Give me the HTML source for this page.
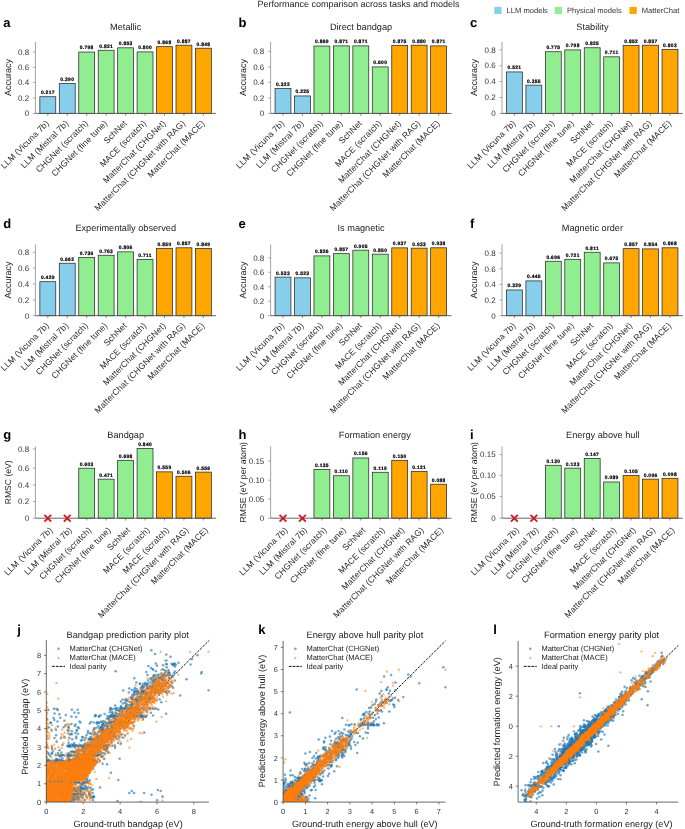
<!DOCTYPE html>
<html><head><meta charset="utf-8"><style>
html,body{margin:0;padding:0;background:#fff;width:685px;height:829px;overflow:hidden}
svg{display:block;font-family:"Liberation Sans", sans-serif;will-change:transform;text-rendering:geometricPrecision}
.bd{fill:none;stroke:none;marker-start:url(#mb);marker-mid:url(#mb);marker-end:url(#mb)}
.od{fill:none;stroke:none;marker-start:url(#mo);marker-mid:url(#mo);marker-end:url(#mo)}
</style></head><body>
<svg width="685" height="829" viewBox="0 0 685 829">
<text x="125.70" y="29.80" font-size="9.2" text-anchor="middle" font-weight="normal" fill="#222" >Metallic</text>
<text x="3.30" y="27.00" font-size="13" text-anchor="start" font-weight="bold" fill="#000" >a</text>
<text transform="translate(10.50,77.60) rotate(-90)" font-size="9" text-anchor="middle" fill="#222">Accuracy</text>
<rect x="39.85" y="96.72" width="15.90" height="16.68" fill="#87CEEB" stroke="#2a2a2a" stroke-width="0.75"/>
<text x="47.80" y="94.12" font-size="4.9" text-anchor="middle" font-weight="bold" fill="#000" letter-spacing="0.32" stroke="#000" stroke-width="0.22">0.217</text>
<rect x="59.30" y="83.42" width="15.90" height="29.98" fill="#87CEEB" stroke="#2a2a2a" stroke-width="0.75"/>
<text x="67.25" y="80.82" font-size="4.9" text-anchor="middle" font-weight="bold" fill="#000" letter-spacing="0.32" stroke="#000" stroke-width="0.22">0.390</text>
<rect x="78.75" y="52.05" width="15.90" height="61.35" fill="#90EE90" stroke="#2a2a2a" stroke-width="0.75"/>
<text x="86.70" y="49.45" font-size="4.9" text-anchor="middle" font-weight="bold" fill="#000" letter-spacing="0.32" stroke="#000" stroke-width="0.22">0.798</text>
<rect x="98.20" y="50.28" width="15.90" height="63.12" fill="#90EE90" stroke="#2a2a2a" stroke-width="0.75"/>
<text x="106.15" y="47.68" font-size="4.9" text-anchor="middle" font-weight="bold" fill="#000" letter-spacing="0.32" stroke="#000" stroke-width="0.22">0.821</text>
<rect x="117.65" y="47.82" width="15.90" height="65.58" fill="#90EE90" stroke="#2a2a2a" stroke-width="0.75"/>
<text x="125.60" y="45.22" font-size="4.9" text-anchor="middle" font-weight="bold" fill="#000" letter-spacing="0.32" stroke="#000" stroke-width="0.22">0.853</text>
<rect x="137.10" y="51.90" width="15.90" height="61.50" fill="#90EE90" stroke="#2a2a2a" stroke-width="0.75"/>
<text x="145.05" y="49.30" font-size="4.9" text-anchor="middle" font-weight="bold" fill="#000" letter-spacing="0.32" stroke="#000" stroke-width="0.22">0.800</text>
<rect x="156.55" y="46.67" width="15.90" height="66.73" fill="#FFA500" stroke="#2a2a2a" stroke-width="0.75"/>
<text x="164.50" y="44.07" font-size="4.9" text-anchor="middle" font-weight="bold" fill="#000" letter-spacing="0.32" stroke="#000" stroke-width="0.22">0.868</text>
<rect x="176.00" y="45.21" width="15.90" height="68.19" fill="#FFA500" stroke="#2a2a2a" stroke-width="0.75"/>
<text x="183.95" y="42.61" font-size="4.9" text-anchor="middle" font-weight="bold" fill="#000" letter-spacing="0.32" stroke="#000" stroke-width="0.22">0.887</text>
<rect x="195.45" y="48.21" width="15.90" height="65.19" fill="#FFA500" stroke="#2a2a2a" stroke-width="0.75"/>
<text x="203.40" y="45.61" font-size="4.9" text-anchor="middle" font-weight="bold" fill="#000" letter-spacing="0.32" stroke="#000" stroke-width="0.22">0.848</text>
<path d="M35.40 41.80V113.40" stroke="#999" stroke-width="0.9" fill="none"/>
<path d="M35.40 113.40H216.00" stroke="#555" stroke-width="0.9" fill="none"/>
<path d="M32.90 113.40H35.40" stroke="#888" stroke-width="0.7"/>
<text x="29.10" y="116.20" font-size="8" text-anchor="end" font-weight="normal" fill="#333" >0</text>
<path d="M32.90 98.02H35.40" stroke="#888" stroke-width="0.7"/>
<text x="29.10" y="100.82" font-size="8" text-anchor="end" font-weight="normal" fill="#333" >0.2</text>
<path d="M32.90 82.65H35.40" stroke="#888" stroke-width="0.7"/>
<text x="29.10" y="85.45" font-size="8" text-anchor="end" font-weight="normal" fill="#333" >0.4</text>
<path d="M32.90 67.27H35.40" stroke="#888" stroke-width="0.7"/>
<text x="29.10" y="70.07" font-size="8" text-anchor="end" font-weight="normal" fill="#333" >0.6</text>
<path d="M32.90 51.90H35.40" stroke="#888" stroke-width="0.7"/>
<text x="29.10" y="54.70" font-size="8" text-anchor="end" font-weight="normal" fill="#333" >0.8</text>
<path d="M47.80 113.40V115.70" stroke="#555" stroke-width="0.7"/>
<text transform="translate(49.60,123.90) rotate(-45)" font-size="8.6" letter-spacing="0.08" text-anchor="end" fill="#2a2a2a">LLM (Vicuna 7b)</text>
<path d="M67.25 113.40V115.70" stroke="#555" stroke-width="0.7"/>
<text transform="translate(69.05,123.90) rotate(-45)" font-size="8.6" letter-spacing="0.08" text-anchor="end" fill="#2a2a2a">LLM (Mistral 7b)</text>
<path d="M86.70 113.40V115.70" stroke="#555" stroke-width="0.7"/>
<text transform="translate(88.50,123.90) rotate(-45)" font-size="8.6" letter-spacing="0.08" text-anchor="end" fill="#2a2a2a">CHGNet (scratch)</text>
<path d="M106.15 113.40V115.70" stroke="#555" stroke-width="0.7"/>
<text transform="translate(107.95,123.90) rotate(-45)" font-size="8.6" letter-spacing="0.08" text-anchor="end" fill="#2a2a2a">CHGNet (fine tune)</text>
<path d="M125.60 113.40V115.70" stroke="#555" stroke-width="0.7"/>
<text transform="translate(127.40,123.90) rotate(-45)" font-size="8.6" letter-spacing="0.08" text-anchor="end" fill="#2a2a2a">SchNet</text>
<path d="M145.05 113.40V115.70" stroke="#555" stroke-width="0.7"/>
<text transform="translate(146.85,123.90) rotate(-45)" font-size="8.6" letter-spacing="0.08" text-anchor="end" fill="#2a2a2a">MACE (scratch)</text>
<path d="M164.50 113.40V115.70" stroke="#555" stroke-width="0.7"/>
<text transform="translate(166.30,123.90) rotate(-45)" font-size="8.6" letter-spacing="0.08" text-anchor="end" fill="#2a2a2a">MatterChat (CHGNet)</text>
<path d="M183.95 113.40V115.70" stroke="#555" stroke-width="0.7"/>
<text transform="translate(185.75,123.90) rotate(-45)" font-size="8.6" letter-spacing="0.08" text-anchor="end" fill="#2a2a2a">MatterChat (CHGNet with RAG)</text>
<path d="M203.40 113.40V115.70" stroke="#555" stroke-width="0.7"/>
<text transform="translate(205.20,123.90) rotate(-45)" font-size="8.6" letter-spacing="0.08" text-anchor="end" fill="#2a2a2a">MatterChat (MACE)</text>
<text x="361.05" y="29.80" font-size="9.2" text-anchor="middle" font-weight="normal" fill="#222" >Direct bandgap</text>
<text x="238.50" y="27.00" font-size="13" text-anchor="start" font-weight="bold" fill="#000" >b</text>
<text transform="translate(245.70,77.60) rotate(-90)" font-size="9" text-anchor="middle" fill="#222">Accuracy</text>
<rect x="275.05" y="88.45" width="15.90" height="24.95" fill="#87CEEB" stroke="#2a2a2a" stroke-width="0.75"/>
<text x="283.00" y="85.85" font-size="4.9" text-anchor="middle" font-weight="bold" fill="#000" letter-spacing="0.32" stroke="#000" stroke-width="0.22">0.322</text>
<rect x="294.50" y="95.96" width="15.90" height="17.44" fill="#87CEEB" stroke="#2a2a2a" stroke-width="0.75"/>
<text x="302.45" y="93.36" font-size="4.9" text-anchor="middle" font-weight="bold" fill="#000" letter-spacing="0.32" stroke="#000" stroke-width="0.22">0.225</text>
<rect x="313.95" y="46.06" width="15.90" height="67.34" fill="#90EE90" stroke="#2a2a2a" stroke-width="0.75"/>
<text x="321.90" y="43.46" font-size="4.9" text-anchor="middle" font-weight="bold" fill="#000" letter-spacing="0.32" stroke="#000" stroke-width="0.22">0.869</text>
<rect x="333.40" y="45.91" width="15.90" height="67.49" fill="#90EE90" stroke="#2a2a2a" stroke-width="0.75"/>
<text x="341.35" y="43.31" font-size="4.9" text-anchor="middle" font-weight="bold" fill="#000" letter-spacing="0.32" stroke="#000" stroke-width="0.22">0.871</text>
<rect x="352.85" y="45.91" width="15.90" height="67.49" fill="#90EE90" stroke="#2a2a2a" stroke-width="0.75"/>
<text x="360.80" y="43.31" font-size="4.9" text-anchor="middle" font-weight="bold" fill="#000" letter-spacing="0.32" stroke="#000" stroke-width="0.22">0.871</text>
<rect x="372.30" y="66.91" width="15.90" height="46.49" fill="#90EE90" stroke="#2a2a2a" stroke-width="0.75"/>
<text x="380.25" y="64.31" font-size="4.9" text-anchor="middle" font-weight="bold" fill="#000" letter-spacing="0.32" stroke="#000" stroke-width="0.22">0.600</text>
<rect x="391.75" y="45.60" width="15.90" height="67.80" fill="#FFA500" stroke="#2a2a2a" stroke-width="0.75"/>
<text x="399.70" y="43.00" font-size="4.9" text-anchor="middle" font-weight="bold" fill="#000" letter-spacing="0.32" stroke="#000" stroke-width="0.22">0.875</text>
<rect x="411.20" y="45.21" width="15.90" height="68.19" fill="#FFA500" stroke="#2a2a2a" stroke-width="0.75"/>
<text x="419.15" y="42.61" font-size="4.9" text-anchor="middle" font-weight="bold" fill="#000" letter-spacing="0.32" stroke="#000" stroke-width="0.22">0.880</text>
<rect x="430.65" y="45.91" width="15.90" height="67.49" fill="#FFA500" stroke="#2a2a2a" stroke-width="0.75"/>
<text x="438.60" y="43.31" font-size="4.9" text-anchor="middle" font-weight="bold" fill="#000" letter-spacing="0.32" stroke="#000" stroke-width="0.22">0.871</text>
<path d="M270.60 41.80V113.40" stroke="#999" stroke-width="0.9" fill="none"/>
<path d="M270.60 113.40H451.50" stroke="#555" stroke-width="0.9" fill="none"/>
<path d="M268.10 113.40H270.60" stroke="#888" stroke-width="0.7"/>
<text x="264.30" y="116.20" font-size="8" text-anchor="end" font-weight="normal" fill="#333" >0</text>
<path d="M268.10 97.90H270.60" stroke="#888" stroke-width="0.7"/>
<text x="264.30" y="100.70" font-size="8" text-anchor="end" font-weight="normal" fill="#333" >0.2</text>
<path d="M268.10 82.40H270.60" stroke="#888" stroke-width="0.7"/>
<text x="264.30" y="85.20" font-size="8" text-anchor="end" font-weight="normal" fill="#333" >0.4</text>
<path d="M268.10 66.91H270.60" stroke="#888" stroke-width="0.7"/>
<text x="264.30" y="69.71" font-size="8" text-anchor="end" font-weight="normal" fill="#333" >0.6</text>
<path d="M268.10 51.41H270.60" stroke="#888" stroke-width="0.7"/>
<text x="264.30" y="54.21" font-size="8" text-anchor="end" font-weight="normal" fill="#333" >0.8</text>
<path d="M283.00 113.40V115.70" stroke="#555" stroke-width="0.7"/>
<text transform="translate(284.80,123.90) rotate(-45)" font-size="8.6" letter-spacing="0.08" text-anchor="end" fill="#2a2a2a">LLM (Vicuna 7b)</text>
<path d="M302.45 113.40V115.70" stroke="#555" stroke-width="0.7"/>
<text transform="translate(304.25,123.90) rotate(-45)" font-size="8.6" letter-spacing="0.08" text-anchor="end" fill="#2a2a2a">LLM (Mistral 7b)</text>
<path d="M321.90 113.40V115.70" stroke="#555" stroke-width="0.7"/>
<text transform="translate(323.70,123.90) rotate(-45)" font-size="8.6" letter-spacing="0.08" text-anchor="end" fill="#2a2a2a">CHGNet (scratch)</text>
<path d="M341.35 113.40V115.70" stroke="#555" stroke-width="0.7"/>
<text transform="translate(343.15,123.90) rotate(-45)" font-size="8.6" letter-spacing="0.08" text-anchor="end" fill="#2a2a2a">CHGNet (fine tune)</text>
<path d="M360.80 113.40V115.70" stroke="#555" stroke-width="0.7"/>
<text transform="translate(362.60,123.90) rotate(-45)" font-size="8.6" letter-spacing="0.08" text-anchor="end" fill="#2a2a2a">SchNet</text>
<path d="M380.25 113.40V115.70" stroke="#555" stroke-width="0.7"/>
<text transform="translate(382.05,123.90) rotate(-45)" font-size="8.6" letter-spacing="0.08" text-anchor="end" fill="#2a2a2a">MACE (scratch)</text>
<path d="M399.70 113.40V115.70" stroke="#555" stroke-width="0.7"/>
<text transform="translate(401.50,123.90) rotate(-45)" font-size="8.6" letter-spacing="0.08" text-anchor="end" fill="#2a2a2a">MatterChat (CHGNet)</text>
<path d="M419.15 113.40V115.70" stroke="#555" stroke-width="0.7"/>
<text transform="translate(420.95,123.90) rotate(-45)" font-size="8.6" letter-spacing="0.08" text-anchor="end" fill="#2a2a2a">MatterChat (CHGNet with RAG)</text>
<path d="M438.60 113.40V115.70" stroke="#555" stroke-width="0.7"/>
<text transform="translate(440.40,123.90) rotate(-45)" font-size="8.6" letter-spacing="0.08" text-anchor="end" fill="#2a2a2a">MatterChat (MACE)</text>
<text x="592.40" y="29.80" font-size="9.2" text-anchor="middle" font-weight="normal" fill="#222" >Stability</text>
<text x="469.90" y="27.00" font-size="13" text-anchor="start" font-weight="bold" fill="#000" >c</text>
<text transform="translate(477.10,77.60) rotate(-90)" font-size="9" text-anchor="middle" fill="#222">Accuracy</text>
<rect x="506.45" y="71.94" width="15.90" height="41.46" fill="#87CEEB" stroke="#2a2a2a" stroke-width="0.75"/>
<text x="514.40" y="69.34" font-size="4.9" text-anchor="middle" font-weight="bold" fill="#000" letter-spacing="0.32" stroke="#000" stroke-width="0.22">0.521</text>
<rect x="525.90" y="85.15" width="15.90" height="28.25" fill="#87CEEB" stroke="#2a2a2a" stroke-width="0.75"/>
<text x="533.85" y="82.55" font-size="4.9" text-anchor="middle" font-weight="bold" fill="#000" letter-spacing="0.32" stroke="#000" stroke-width="0.22">0.355</text>
<rect x="545.35" y="51.73" width="15.90" height="61.67" fill="#90EE90" stroke="#2a2a2a" stroke-width="0.75"/>
<text x="553.30" y="49.13" font-size="4.9" text-anchor="middle" font-weight="bold" fill="#000" letter-spacing="0.32" stroke="#000" stroke-width="0.22">0.775</text>
<rect x="564.80" y="49.90" width="15.90" height="63.50" fill="#90EE90" stroke="#2a2a2a" stroke-width="0.75"/>
<text x="572.75" y="47.30" font-size="4.9" text-anchor="middle" font-weight="bold" fill="#000" letter-spacing="0.32" stroke="#000" stroke-width="0.22">0.798</text>
<rect x="584.25" y="47.76" width="15.90" height="65.64" fill="#90EE90" stroke="#2a2a2a" stroke-width="0.75"/>
<text x="592.20" y="45.16" font-size="4.9" text-anchor="middle" font-weight="bold" fill="#000" letter-spacing="0.32" stroke="#000" stroke-width="0.22">0.825</text>
<rect x="603.70" y="56.83" width="15.90" height="56.57" fill="#90EE90" stroke="#2a2a2a" stroke-width="0.75"/>
<text x="611.65" y="54.23" font-size="4.9" text-anchor="middle" font-weight="bold" fill="#000" letter-spacing="0.32" stroke="#000" stroke-width="0.22">0.711</text>
<rect x="623.15" y="45.61" width="15.90" height="67.79" fill="#FFA500" stroke="#2a2a2a" stroke-width="0.75"/>
<text x="631.10" y="43.01" font-size="4.9" text-anchor="middle" font-weight="bold" fill="#000" letter-spacing="0.32" stroke="#000" stroke-width="0.22">0.852</text>
<rect x="642.60" y="45.21" width="15.90" height="68.19" fill="#FFA500" stroke="#2a2a2a" stroke-width="0.75"/>
<text x="650.55" y="42.61" font-size="4.9" text-anchor="middle" font-weight="bold" fill="#000" letter-spacing="0.32" stroke="#000" stroke-width="0.22">0.857</text>
<rect x="662.05" y="49.51" width="15.90" height="63.89" fill="#FFA500" stroke="#2a2a2a" stroke-width="0.75"/>
<text x="670.00" y="46.91" font-size="4.9" text-anchor="middle" font-weight="bold" fill="#000" letter-spacing="0.32" stroke="#000" stroke-width="0.22">0.803</text>
<path d="M502.00 41.80V113.40" stroke="#999" stroke-width="0.9" fill="none"/>
<path d="M502.00 113.40H682.80" stroke="#555" stroke-width="0.9" fill="none"/>
<path d="M499.50 113.40H502.00" stroke="#888" stroke-width="0.7"/>
<text x="495.70" y="116.20" font-size="8" text-anchor="end" font-weight="normal" fill="#333" >0</text>
<path d="M499.50 97.49H502.00" stroke="#888" stroke-width="0.7"/>
<text x="495.70" y="100.29" font-size="8" text-anchor="end" font-weight="normal" fill="#333" >0.2</text>
<path d="M499.50 81.57H502.00" stroke="#888" stroke-width="0.7"/>
<text x="495.70" y="84.37" font-size="8" text-anchor="end" font-weight="normal" fill="#333" >0.4</text>
<path d="M499.50 65.66H502.00" stroke="#888" stroke-width="0.7"/>
<text x="495.70" y="68.46" font-size="8" text-anchor="end" font-weight="normal" fill="#333" >0.6</text>
<path d="M499.50 49.74H502.00" stroke="#888" stroke-width="0.7"/>
<text x="495.70" y="52.54" font-size="8" text-anchor="end" font-weight="normal" fill="#333" >0.8</text>
<path d="M514.40 113.40V115.70" stroke="#555" stroke-width="0.7"/>
<text transform="translate(516.20,123.90) rotate(-45)" font-size="8.6" letter-spacing="0.08" text-anchor="end" fill="#2a2a2a">LLM (Vicuna 7b)</text>
<path d="M533.85 113.40V115.70" stroke="#555" stroke-width="0.7"/>
<text transform="translate(535.65,123.90) rotate(-45)" font-size="8.6" letter-spacing="0.08" text-anchor="end" fill="#2a2a2a">LLM (Mistral 7b)</text>
<path d="M553.30 113.40V115.70" stroke="#555" stroke-width="0.7"/>
<text transform="translate(555.10,123.90) rotate(-45)" font-size="8.6" letter-spacing="0.08" text-anchor="end" fill="#2a2a2a">CHGNet (scratch)</text>
<path d="M572.75 113.40V115.70" stroke="#555" stroke-width="0.7"/>
<text transform="translate(574.55,123.90) rotate(-45)" font-size="8.6" letter-spacing="0.08" text-anchor="end" fill="#2a2a2a">CHGNet (fine tune)</text>
<path d="M592.20 113.40V115.70" stroke="#555" stroke-width="0.7"/>
<text transform="translate(594.00,123.90) rotate(-45)" font-size="8.6" letter-spacing="0.08" text-anchor="end" fill="#2a2a2a">SchNet</text>
<path d="M611.65 113.40V115.70" stroke="#555" stroke-width="0.7"/>
<text transform="translate(613.45,123.90) rotate(-45)" font-size="8.6" letter-spacing="0.08" text-anchor="end" fill="#2a2a2a">MACE (scratch)</text>
<path d="M631.10 113.40V115.70" stroke="#555" stroke-width="0.7"/>
<text transform="translate(632.90,123.90) rotate(-45)" font-size="8.6" letter-spacing="0.08" text-anchor="end" fill="#2a2a2a">MatterChat (CHGNet)</text>
<path d="M650.55 113.40V115.70" stroke="#555" stroke-width="0.7"/>
<text transform="translate(652.35,123.90) rotate(-45)" font-size="8.6" letter-spacing="0.08" text-anchor="end" fill="#2a2a2a">MatterChat (CHGNet with RAG)</text>
<path d="M670.00 113.40V115.70" stroke="#555" stroke-width="0.7"/>
<text transform="translate(671.80,123.90) rotate(-45)" font-size="8.6" letter-spacing="0.08" text-anchor="end" fill="#2a2a2a">MatterChat (MACE)</text>
<text x="125.70" y="230.90" font-size="9.2" text-anchor="middle" font-weight="normal" fill="#222" >Experimentally observed</text>
<text x="3.30" y="227.50" font-size="13" text-anchor="start" font-weight="bold" fill="#000" >d</text>
<text transform="translate(10.50,280.05) rotate(-90)" font-size="9" text-anchor="middle" fill="#222">Accuracy</text>
<rect x="39.85" y="281.71" width="15.90" height="33.99" fill="#87CEEB" stroke="#2a2a2a" stroke-width="0.75"/>
<text x="47.80" y="279.11" font-size="4.9" text-anchor="middle" font-weight="bold" fill="#000" letter-spacing="0.32" stroke="#000" stroke-width="0.22">0.429</text>
<rect x="59.30" y="263.25" width="15.90" height="52.45" fill="#87CEEB" stroke="#2a2a2a" stroke-width="0.75"/>
<text x="67.25" y="260.65" font-size="4.9" text-anchor="middle" font-weight="bold" fill="#000" letter-spacing="0.32" stroke="#000" stroke-width="0.22">0.662</text>
<rect x="78.75" y="257.38" width="15.90" height="58.32" fill="#90EE90" stroke="#2a2a2a" stroke-width="0.75"/>
<text x="86.70" y="254.78" font-size="4.9" text-anchor="middle" font-weight="bold" fill="#000" letter-spacing="0.32" stroke="#000" stroke-width="0.22">0.736</text>
<rect x="98.20" y="255.24" width="15.90" height="60.46" fill="#90EE90" stroke="#2a2a2a" stroke-width="0.75"/>
<text x="106.15" y="252.64" font-size="4.9" text-anchor="middle" font-weight="bold" fill="#000" letter-spacing="0.32" stroke="#000" stroke-width="0.22">0.763</text>
<rect x="117.65" y="251.84" width="15.90" height="63.86" fill="#90EE90" stroke="#2a2a2a" stroke-width="0.75"/>
<text x="125.60" y="249.24" font-size="4.9" text-anchor="middle" font-weight="bold" fill="#000" letter-spacing="0.32" stroke="#000" stroke-width="0.22">0.806</text>
<rect x="137.10" y="259.36" width="15.90" height="56.34" fill="#90EE90" stroke="#2a2a2a" stroke-width="0.75"/>
<text x="145.05" y="256.76" font-size="4.9" text-anchor="middle" font-weight="bold" fill="#000" letter-spacing="0.32" stroke="#000" stroke-width="0.22">0.711</text>
<rect x="156.55" y="248.35" width="15.90" height="67.35" fill="#FFA500" stroke="#2a2a2a" stroke-width="0.75"/>
<text x="164.50" y="245.75" font-size="4.9" text-anchor="middle" font-weight="bold" fill="#000" letter-spacing="0.32" stroke="#000" stroke-width="0.22">0.850</text>
<rect x="176.00" y="247.80" width="15.90" height="67.90" fill="#FFA500" stroke="#2a2a2a" stroke-width="0.75"/>
<text x="183.95" y="245.20" font-size="4.9" text-anchor="middle" font-weight="bold" fill="#000" letter-spacing="0.32" stroke="#000" stroke-width="0.22">0.857</text>
<rect x="195.45" y="248.43" width="15.90" height="67.27" fill="#FFA500" stroke="#2a2a2a" stroke-width="0.75"/>
<text x="203.40" y="245.83" font-size="4.9" text-anchor="middle" font-weight="bold" fill="#000" letter-spacing="0.32" stroke="#000" stroke-width="0.22">0.849</text>
<path d="M35.40 244.40V315.70" stroke="#999" stroke-width="0.9" fill="none"/>
<path d="M35.40 315.70H216.00" stroke="#555" stroke-width="0.9" fill="none"/>
<path d="M32.90 315.70H35.40" stroke="#888" stroke-width="0.7"/>
<text x="29.10" y="318.50" font-size="8" text-anchor="end" font-weight="normal" fill="#333" >0</text>
<path d="M32.90 299.85H35.40" stroke="#888" stroke-width="0.7"/>
<text x="29.10" y="302.65" font-size="8" text-anchor="end" font-weight="normal" fill="#333" >0.2</text>
<path d="M32.90 284.01H35.40" stroke="#888" stroke-width="0.7"/>
<text x="29.10" y="286.81" font-size="8" text-anchor="end" font-weight="normal" fill="#333" >0.4</text>
<path d="M32.90 268.16H35.40" stroke="#888" stroke-width="0.7"/>
<text x="29.10" y="270.96" font-size="8" text-anchor="end" font-weight="normal" fill="#333" >0.6</text>
<path d="M32.90 252.31H35.40" stroke="#888" stroke-width="0.7"/>
<text x="29.10" y="255.11" font-size="8" text-anchor="end" font-weight="normal" fill="#333" >0.8</text>
<path d="M47.80 315.70V318.00" stroke="#555" stroke-width="0.7"/>
<text transform="translate(49.60,326.20) rotate(-45)" font-size="8.6" letter-spacing="0.08" text-anchor="end" fill="#2a2a2a">LLM (Vicuna 7b)</text>
<path d="M67.25 315.70V318.00" stroke="#555" stroke-width="0.7"/>
<text transform="translate(69.05,326.20) rotate(-45)" font-size="8.6" letter-spacing="0.08" text-anchor="end" fill="#2a2a2a">LLM (Mistral 7b)</text>
<path d="M86.70 315.70V318.00" stroke="#555" stroke-width="0.7"/>
<text transform="translate(88.50,326.20) rotate(-45)" font-size="8.6" letter-spacing="0.08" text-anchor="end" fill="#2a2a2a">CHGNet (scratch)</text>
<path d="M106.15 315.70V318.00" stroke="#555" stroke-width="0.7"/>
<text transform="translate(107.95,326.20) rotate(-45)" font-size="8.6" letter-spacing="0.08" text-anchor="end" fill="#2a2a2a">CHGNet (fine tune)</text>
<path d="M125.60 315.70V318.00" stroke="#555" stroke-width="0.7"/>
<text transform="translate(127.40,326.20) rotate(-45)" font-size="8.6" letter-spacing="0.08" text-anchor="end" fill="#2a2a2a">SchNet</text>
<path d="M145.05 315.70V318.00" stroke="#555" stroke-width="0.7"/>
<text transform="translate(146.85,326.20) rotate(-45)" font-size="8.6" letter-spacing="0.08" text-anchor="end" fill="#2a2a2a">MACE (scratch)</text>
<path d="M164.50 315.70V318.00" stroke="#555" stroke-width="0.7"/>
<text transform="translate(166.30,326.20) rotate(-45)" font-size="8.6" letter-spacing="0.08" text-anchor="end" fill="#2a2a2a">MatterChat (CHGNet)</text>
<path d="M183.95 315.70V318.00" stroke="#555" stroke-width="0.7"/>
<text transform="translate(185.75,326.20) rotate(-45)" font-size="8.6" letter-spacing="0.08" text-anchor="end" fill="#2a2a2a">MatterChat (CHGNet with RAG)</text>
<path d="M203.40 315.70V318.00" stroke="#555" stroke-width="0.7"/>
<text transform="translate(205.20,326.20) rotate(-45)" font-size="8.6" letter-spacing="0.08" text-anchor="end" fill="#2a2a2a">MatterChat (MACE)</text>
<text x="361.05" y="230.90" font-size="9.2" text-anchor="middle" font-weight="normal" fill="#222" >Is magnetic</text>
<text x="238.50" y="227.50" font-size="13" text-anchor="start" font-weight="bold" fill="#000" >e</text>
<text transform="translate(245.70,280.05) rotate(-90)" font-size="9" text-anchor="middle" fill="#222">Accuracy</text>
<rect x="275.05" y="277.11" width="15.90" height="38.59" fill="#87CEEB" stroke="#2a2a2a" stroke-width="0.75"/>
<text x="283.00" y="274.51" font-size="4.9" text-anchor="middle" font-weight="bold" fill="#000" letter-spacing="0.32" stroke="#000" stroke-width="0.22">0.533</text>
<rect x="294.50" y="277.84" width="15.90" height="37.86" fill="#87CEEB" stroke="#2a2a2a" stroke-width="0.75"/>
<text x="302.45" y="275.24" font-size="4.9" text-anchor="middle" font-weight="bold" fill="#000" letter-spacing="0.32" stroke="#000" stroke-width="0.22">0.523</text>
<rect x="313.95" y="255.90" width="15.90" height="59.80" fill="#90EE90" stroke="#2a2a2a" stroke-width="0.75"/>
<text x="321.90" y="253.30" font-size="4.9" text-anchor="middle" font-weight="bold" fill="#000" letter-spacing="0.32" stroke="#000" stroke-width="0.22">0.826</text>
<rect x="333.40" y="253.66" width="15.90" height="62.04" fill="#90EE90" stroke="#2a2a2a" stroke-width="0.75"/>
<text x="341.35" y="251.06" font-size="4.9" text-anchor="middle" font-weight="bold" fill="#000" letter-spacing="0.32" stroke="#000" stroke-width="0.22">0.857</text>
<rect x="352.85" y="250.18" width="15.90" height="65.52" fill="#90EE90" stroke="#2a2a2a" stroke-width="0.75"/>
<text x="360.80" y="247.58" font-size="4.9" text-anchor="middle" font-weight="bold" fill="#000" letter-spacing="0.32" stroke="#000" stroke-width="0.22">0.905</text>
<rect x="372.30" y="254.17" width="15.90" height="61.53" fill="#90EE90" stroke="#2a2a2a" stroke-width="0.75"/>
<text x="380.25" y="251.57" font-size="4.9" text-anchor="middle" font-weight="bold" fill="#000" letter-spacing="0.32" stroke="#000" stroke-width="0.22">0.850</text>
<rect x="391.75" y="247.87" width="15.90" height="67.83" fill="#FFA500" stroke="#2a2a2a" stroke-width="0.75"/>
<text x="399.70" y="245.27" font-size="4.9" text-anchor="middle" font-weight="bold" fill="#000" letter-spacing="0.32" stroke="#000" stroke-width="0.22">0.937</text>
<rect x="411.20" y="248.16" width="15.90" height="67.54" fill="#FFA500" stroke="#2a2a2a" stroke-width="0.75"/>
<text x="419.15" y="245.56" font-size="4.9" text-anchor="middle" font-weight="bold" fill="#000" letter-spacing="0.32" stroke="#000" stroke-width="0.22">0.933</text>
<rect x="430.65" y="247.80" width="15.90" height="67.90" fill="#FFA500" stroke="#2a2a2a" stroke-width="0.75"/>
<text x="438.60" y="245.20" font-size="4.9" text-anchor="middle" font-weight="bold" fill="#000" letter-spacing="0.32" stroke="#000" stroke-width="0.22">0.938</text>
<path d="M270.60 244.40V315.70" stroke="#999" stroke-width="0.9" fill="none"/>
<path d="M270.60 315.70H451.50" stroke="#555" stroke-width="0.9" fill="none"/>
<path d="M268.10 315.70H270.60" stroke="#888" stroke-width="0.7"/>
<text x="264.30" y="318.50" font-size="8" text-anchor="end" font-weight="normal" fill="#333" >0</text>
<path d="M268.10 301.22H270.60" stroke="#888" stroke-width="0.7"/>
<text x="264.30" y="304.02" font-size="8" text-anchor="end" font-weight="normal" fill="#333" >0.2</text>
<path d="M268.10 286.74H270.60" stroke="#888" stroke-width="0.7"/>
<text x="264.30" y="289.54" font-size="8" text-anchor="end" font-weight="normal" fill="#333" >0.4</text>
<path d="M268.10 272.26H270.60" stroke="#888" stroke-width="0.7"/>
<text x="264.30" y="275.06" font-size="8" text-anchor="end" font-weight="normal" fill="#333" >0.6</text>
<path d="M268.10 257.79H270.60" stroke="#888" stroke-width="0.7"/>
<text x="264.30" y="260.59" font-size="8" text-anchor="end" font-weight="normal" fill="#333" >0.8</text>
<path d="M283.00 315.70V318.00" stroke="#555" stroke-width="0.7"/>
<text transform="translate(284.80,326.20) rotate(-45)" font-size="8.6" letter-spacing="0.08" text-anchor="end" fill="#2a2a2a">LLM (Vicuna 7b)</text>
<path d="M302.45 315.70V318.00" stroke="#555" stroke-width="0.7"/>
<text transform="translate(304.25,326.20) rotate(-45)" font-size="8.6" letter-spacing="0.08" text-anchor="end" fill="#2a2a2a">LLM (Mistral 7b)</text>
<path d="M321.90 315.70V318.00" stroke="#555" stroke-width="0.7"/>
<text transform="translate(323.70,326.20) rotate(-45)" font-size="8.6" letter-spacing="0.08" text-anchor="end" fill="#2a2a2a">CHGNet (scratch)</text>
<path d="M341.35 315.70V318.00" stroke="#555" stroke-width="0.7"/>
<text transform="translate(343.15,326.20) rotate(-45)" font-size="8.6" letter-spacing="0.08" text-anchor="end" fill="#2a2a2a">CHGNet (fine tune)</text>
<path d="M360.80 315.70V318.00" stroke="#555" stroke-width="0.7"/>
<text transform="translate(362.60,326.20) rotate(-45)" font-size="8.6" letter-spacing="0.08" text-anchor="end" fill="#2a2a2a">SchNet</text>
<path d="M380.25 315.70V318.00" stroke="#555" stroke-width="0.7"/>
<text transform="translate(382.05,326.20) rotate(-45)" font-size="8.6" letter-spacing="0.08" text-anchor="end" fill="#2a2a2a">MACE (scratch)</text>
<path d="M399.70 315.70V318.00" stroke="#555" stroke-width="0.7"/>
<text transform="translate(401.50,326.20) rotate(-45)" font-size="8.6" letter-spacing="0.08" text-anchor="end" fill="#2a2a2a">MatterChat (CHGNet)</text>
<path d="M419.15 315.70V318.00" stroke="#555" stroke-width="0.7"/>
<text transform="translate(420.95,326.20) rotate(-45)" font-size="8.6" letter-spacing="0.08" text-anchor="end" fill="#2a2a2a">MatterChat (CHGNet with RAG)</text>
<path d="M438.60 315.70V318.00" stroke="#555" stroke-width="0.7"/>
<text transform="translate(440.40,326.20) rotate(-45)" font-size="8.6" letter-spacing="0.08" text-anchor="end" fill="#2a2a2a">MatterChat (MACE)</text>
<text x="592.40" y="230.90" font-size="9.2" text-anchor="middle" font-weight="normal" fill="#222" >Magnetic order</text>
<text x="469.90" y="227.50" font-size="13" text-anchor="start" font-weight="bold" fill="#000" >f</text>
<text transform="translate(477.10,280.05) rotate(-90)" font-size="9" text-anchor="middle" fill="#222">Accuracy</text>
<rect x="506.45" y="289.96" width="15.90" height="25.74" fill="#87CEEB" stroke="#2a2a2a" stroke-width="0.75"/>
<text x="514.40" y="287.36" font-size="4.9" text-anchor="middle" font-weight="bold" fill="#000" letter-spacing="0.32" stroke="#000" stroke-width="0.22">0.329</text>
<rect x="525.90" y="280.89" width="15.90" height="34.81" fill="#87CEEB" stroke="#2a2a2a" stroke-width="0.75"/>
<text x="533.85" y="278.29" font-size="4.9" text-anchor="middle" font-weight="bold" fill="#000" letter-spacing="0.32" stroke="#000" stroke-width="0.22">0.445</text>
<rect x="545.35" y="261.25" width="15.90" height="54.45" fill="#90EE90" stroke="#2a2a2a" stroke-width="0.75"/>
<text x="553.30" y="258.65" font-size="4.9" text-anchor="middle" font-weight="bold" fill="#000" letter-spacing="0.32" stroke="#000" stroke-width="0.22">0.696</text>
<rect x="564.80" y="259.30" width="15.90" height="56.40" fill="#90EE90" stroke="#2a2a2a" stroke-width="0.75"/>
<text x="572.75" y="256.70" font-size="4.9" text-anchor="middle" font-weight="bold" fill="#000" letter-spacing="0.32" stroke="#000" stroke-width="0.22">0.721</text>
<rect x="584.25" y="252.25" width="15.90" height="63.45" fill="#90EE90" stroke="#2a2a2a" stroke-width="0.75"/>
<text x="592.20" y="249.65" font-size="4.9" text-anchor="middle" font-weight="bold" fill="#000" letter-spacing="0.32" stroke="#000" stroke-width="0.22">0.811</text>
<rect x="603.70" y="262.89" width="15.90" height="52.81" fill="#90EE90" stroke="#2a2a2a" stroke-width="0.75"/>
<text x="611.65" y="260.29" font-size="4.9" text-anchor="middle" font-weight="bold" fill="#000" letter-spacing="0.32" stroke="#000" stroke-width="0.22">0.675</text>
<rect x="623.15" y="248.66" width="15.90" height="67.04" fill="#FFA500" stroke="#2a2a2a" stroke-width="0.75"/>
<text x="631.10" y="246.06" font-size="4.9" text-anchor="middle" font-weight="bold" fill="#000" letter-spacing="0.32" stroke="#000" stroke-width="0.22">0.857</text>
<rect x="642.60" y="248.89" width="15.90" height="66.81" fill="#FFA500" stroke="#2a2a2a" stroke-width="0.75"/>
<text x="650.55" y="246.29" font-size="4.9" text-anchor="middle" font-weight="bold" fill="#000" letter-spacing="0.32" stroke="#000" stroke-width="0.22">0.854</text>
<rect x="662.05" y="247.80" width="15.90" height="67.90" fill="#FFA500" stroke="#2a2a2a" stroke-width="0.75"/>
<text x="670.00" y="245.20" font-size="4.9" text-anchor="middle" font-weight="bold" fill="#000" letter-spacing="0.32" stroke="#000" stroke-width="0.22">0.868</text>
<path d="M502.00 244.40V315.70" stroke="#999" stroke-width="0.9" fill="none"/>
<path d="M502.00 315.70H682.80" stroke="#555" stroke-width="0.9" fill="none"/>
<path d="M499.50 315.70H502.00" stroke="#888" stroke-width="0.7"/>
<text x="495.70" y="318.50" font-size="8" text-anchor="end" font-weight="normal" fill="#333" >0</text>
<path d="M499.50 300.05H502.00" stroke="#888" stroke-width="0.7"/>
<text x="495.70" y="302.85" font-size="8" text-anchor="end" font-weight="normal" fill="#333" >0.2</text>
<path d="M499.50 284.41H502.00" stroke="#888" stroke-width="0.7"/>
<text x="495.70" y="287.21" font-size="8" text-anchor="end" font-weight="normal" fill="#333" >0.4</text>
<path d="M499.50 268.76H502.00" stroke="#888" stroke-width="0.7"/>
<text x="495.70" y="271.56" font-size="8" text-anchor="end" font-weight="normal" fill="#333" >0.6</text>
<path d="M499.50 253.11H502.00" stroke="#888" stroke-width="0.7"/>
<text x="495.70" y="255.91" font-size="8" text-anchor="end" font-weight="normal" fill="#333" >0.8</text>
<path d="M514.40 315.70V318.00" stroke="#555" stroke-width="0.7"/>
<text transform="translate(516.20,326.20) rotate(-45)" font-size="8.6" letter-spacing="0.08" text-anchor="end" fill="#2a2a2a">LLM (Vicuna 7b)</text>
<path d="M533.85 315.70V318.00" stroke="#555" stroke-width="0.7"/>
<text transform="translate(535.65,326.20) rotate(-45)" font-size="8.6" letter-spacing="0.08" text-anchor="end" fill="#2a2a2a">LLM (Mistral 7b)</text>
<path d="M553.30 315.70V318.00" stroke="#555" stroke-width="0.7"/>
<text transform="translate(555.10,326.20) rotate(-45)" font-size="8.6" letter-spacing="0.08" text-anchor="end" fill="#2a2a2a">CHGNet (scratch)</text>
<path d="M572.75 315.70V318.00" stroke="#555" stroke-width="0.7"/>
<text transform="translate(574.55,326.20) rotate(-45)" font-size="8.6" letter-spacing="0.08" text-anchor="end" fill="#2a2a2a">CHGNet (fine tune)</text>
<path d="M592.20 315.70V318.00" stroke="#555" stroke-width="0.7"/>
<text transform="translate(594.00,326.20) rotate(-45)" font-size="8.6" letter-spacing="0.08" text-anchor="end" fill="#2a2a2a">SchNet</text>
<path d="M611.65 315.70V318.00" stroke="#555" stroke-width="0.7"/>
<text transform="translate(613.45,326.20) rotate(-45)" font-size="8.6" letter-spacing="0.08" text-anchor="end" fill="#2a2a2a">MACE (scratch)</text>
<path d="M631.10 315.70V318.00" stroke="#555" stroke-width="0.7"/>
<text transform="translate(632.90,326.20) rotate(-45)" font-size="8.6" letter-spacing="0.08" text-anchor="end" fill="#2a2a2a">MatterChat (CHGNet)</text>
<path d="M650.55 315.70V318.00" stroke="#555" stroke-width="0.7"/>
<text transform="translate(652.35,326.20) rotate(-45)" font-size="8.6" letter-spacing="0.08" text-anchor="end" fill="#2a2a2a">MatterChat (CHGNet with RAG)</text>
<path d="M670.00 315.70V318.00" stroke="#555" stroke-width="0.7"/>
<text transform="translate(671.80,326.20) rotate(-45)" font-size="8.6" letter-spacing="0.08" text-anchor="end" fill="#2a2a2a">MatterChat (MACE)</text>
<text x="125.70" y="437.60" font-size="9.2" text-anchor="middle" font-weight="normal" fill="#222" >Bandgap</text>
<text x="3.30" y="438.50" font-size="13" text-anchor="start" font-weight="bold" fill="#000" >g</text>
<text transform="translate(10.50,482.30) rotate(-90)" font-size="8.6" text-anchor="middle" fill="#222">RMSC (eV)</text>
<path d="M44.40 514.80L51.20 521.60M51.20 514.80L44.40 521.60" stroke="#e8101c" stroke-width="1.8" fill="none"/>
<path d="M63.85 514.80L70.65 521.60M70.65 514.80L63.85 521.60" stroke="#e8101c" stroke-width="1.8" fill="none"/>
<rect x="78.75" y="468.21" width="15.90" height="49.99" fill="#90EE90" stroke="#2a2a2a" stroke-width="0.75"/>
<text x="86.70" y="465.61" font-size="4.9" text-anchor="middle" font-weight="bold" fill="#000" letter-spacing="0.32" stroke="#000" stroke-width="0.22">0.603</text>
<rect x="98.20" y="479.15" width="15.90" height="39.05" fill="#90EE90" stroke="#2a2a2a" stroke-width="0.75"/>
<text x="106.15" y="476.55" font-size="4.9" text-anchor="middle" font-weight="bold" fill="#000" letter-spacing="0.32" stroke="#000" stroke-width="0.22">0.471</text>
<rect x="117.65" y="460.34" width="15.90" height="57.86" fill="#90EE90" stroke="#2a2a2a" stroke-width="0.75"/>
<text x="125.60" y="457.74" font-size="4.9" text-anchor="middle" font-weight="bold" fill="#000" letter-spacing="0.32" stroke="#000" stroke-width="0.22">0.698</text>
<rect x="137.10" y="448.56" width="15.90" height="69.64" fill="#90EE90" stroke="#2a2a2a" stroke-width="0.75"/>
<text x="145.05" y="445.96" font-size="4.9" text-anchor="middle" font-weight="bold" fill="#000" letter-spacing="0.32" stroke="#000" stroke-width="0.22">0.840</text>
<rect x="156.55" y="471.86" width="15.90" height="46.34" fill="#FFA500" stroke="#2a2a2a" stroke-width="0.75"/>
<text x="164.50" y="469.26" font-size="4.9" text-anchor="middle" font-weight="bold" fill="#000" letter-spacing="0.32" stroke="#000" stroke-width="0.22">0.559</text>
<rect x="176.00" y="476.25" width="15.90" height="41.95" fill="#FFA500" stroke="#2a2a2a" stroke-width="0.75"/>
<text x="183.95" y="473.65" font-size="4.9" text-anchor="middle" font-weight="bold" fill="#000" letter-spacing="0.32" stroke="#000" stroke-width="0.22">0.506</text>
<rect x="195.45" y="472.11" width="15.90" height="46.09" fill="#FFA500" stroke="#2a2a2a" stroke-width="0.75"/>
<text x="203.40" y="469.51" font-size="4.9" text-anchor="middle" font-weight="bold" fill="#000" letter-spacing="0.32" stroke="#000" stroke-width="0.22">0.556</text>
<path d="M35.40 446.40V518.20" stroke="#999" stroke-width="0.9" fill="none"/>
<path d="M35.40 518.20H216.00" stroke="#555" stroke-width="0.9" fill="none"/>
<path d="M32.90 518.20H35.40" stroke="#888" stroke-width="0.7"/>
<text x="29.10" y="521.00" font-size="8" text-anchor="end" font-weight="normal" fill="#333" >0</text>
<path d="M32.90 501.50H35.40" stroke="#888" stroke-width="0.7"/>
<text x="29.10" y="504.30" font-size="8" text-anchor="end" font-weight="normal" fill="#333" >0.2</text>
<path d="M32.90 485.10H35.40" stroke="#888" stroke-width="0.7"/>
<text x="29.10" y="487.90" font-size="8" text-anchor="end" font-weight="normal" fill="#333" >0.4</text>
<path d="M32.90 468.20H35.40" stroke="#888" stroke-width="0.7"/>
<text x="29.10" y="471.00" font-size="8" text-anchor="end" font-weight="normal" fill="#333" >0.6</text>
<path d="M32.90 449.00H35.40" stroke="#888" stroke-width="0.7"/>
<text x="29.10" y="451.80" font-size="8" text-anchor="end" font-weight="normal" fill="#333" >0.8</text>
<path d="M47.80 518.20V520.50" stroke="#555" stroke-width="0.7"/>
<text transform="translate(53.00,530.70) rotate(-45)" font-size="8.6" letter-spacing="0.08" text-anchor="end" fill="#2a2a2a">LLM (Vicuna 7b)</text>
<path d="M67.25 518.20V520.50" stroke="#555" stroke-width="0.7"/>
<text transform="translate(72.45,530.70) rotate(-45)" font-size="8.6" letter-spacing="0.08" text-anchor="end" fill="#2a2a2a">LLM (Mistral 7b)</text>
<path d="M86.70 518.20V520.50" stroke="#555" stroke-width="0.7"/>
<text transform="translate(91.90,530.70) rotate(-45)" font-size="8.6" letter-spacing="0.08" text-anchor="end" fill="#2a2a2a">CHGNet (scratch)</text>
<path d="M106.15 518.20V520.50" stroke="#555" stroke-width="0.7"/>
<text transform="translate(111.35,530.70) rotate(-45)" font-size="8.6" letter-spacing="0.08" text-anchor="end" fill="#2a2a2a">CHGNet (fine tune)</text>
<path d="M125.60 518.20V520.50" stroke="#555" stroke-width="0.7"/>
<text transform="translate(130.80,530.70) rotate(-45)" font-size="8.6" letter-spacing="0.08" text-anchor="end" fill="#2a2a2a">SchNet</text>
<path d="M145.05 518.20V520.50" stroke="#555" stroke-width="0.7"/>
<text transform="translate(150.25,530.70) rotate(-45)" font-size="8.6" letter-spacing="0.08" text-anchor="end" fill="#2a2a2a">MACE (scratch)</text>
<path d="M164.50 518.20V520.50" stroke="#555" stroke-width="0.7"/>
<text transform="translate(169.70,530.70) rotate(-45)" font-size="8.6" letter-spacing="0.08" text-anchor="end" fill="#2a2a2a">MACE (scratch)</text>
<path d="M183.95 518.20V520.50" stroke="#555" stroke-width="0.7"/>
<text transform="translate(189.15,530.70) rotate(-45)" font-size="8.6" letter-spacing="0.08" text-anchor="end" fill="#2a2a2a">MatterChat (CHGNet with RAG)</text>
<path d="M203.40 518.20V520.50" stroke="#555" stroke-width="0.7"/>
<text transform="translate(208.60,530.70) rotate(-45)" font-size="8.6" letter-spacing="0.08" text-anchor="end" fill="#2a2a2a">MatterChat (MACE)</text>
<text x="374.80" y="437.60" font-size="9.2" text-anchor="middle" font-weight="normal" fill="#222" >Formation energy</text>
<text x="238.50" y="438.50" font-size="13" text-anchor="start" font-weight="bold" fill="#000" >h</text>
<text transform="translate(245.70,482.30) rotate(-90)" font-size="8.7" text-anchor="middle" fill="#222">RMSE (eV per atom)</text>
<path d="M279.60 514.80L286.40 521.60M286.40 514.80L279.60 521.60" stroke="#e8101c" stroke-width="1.8" fill="none"/>
<path d="M299.05 514.80L305.85 521.60M305.85 514.80L299.05 521.60" stroke="#e8101c" stroke-width="1.8" fill="none"/>
<rect x="313.95" y="469.56" width="15.90" height="48.64" fill="#90EE90" stroke="#2a2a2a" stroke-width="0.75"/>
<text x="321.90" y="466.96" font-size="4.9" text-anchor="middle" font-weight="bold" fill="#000" letter-spacing="0.32" stroke="#000" stroke-width="0.22">0.135</text>
<rect x="333.40" y="475.74" width="15.90" height="42.46" fill="#90EE90" stroke="#2a2a2a" stroke-width="0.75"/>
<text x="341.35" y="473.14" font-size="4.9" text-anchor="middle" font-weight="bold" fill="#000" letter-spacing="0.32" stroke="#000" stroke-width="0.22">0.110</text>
<rect x="352.85" y="457.98" width="15.90" height="60.22" fill="#90EE90" stroke="#2a2a2a" stroke-width="0.75"/>
<text x="360.80" y="455.38" font-size="4.9" text-anchor="middle" font-weight="bold" fill="#000" letter-spacing="0.32" stroke="#000" stroke-width="0.22">0.156</text>
<rect x="372.30" y="472.27" width="15.90" height="45.93" fill="#90EE90" stroke="#2a2a2a" stroke-width="0.75"/>
<text x="380.25" y="469.67" font-size="4.9" text-anchor="middle" font-weight="bold" fill="#000" letter-spacing="0.32" stroke="#000" stroke-width="0.22">0.119</text>
<rect x="391.75" y="460.30" width="15.90" height="57.90" fill="#FFA500" stroke="#2a2a2a" stroke-width="0.75"/>
<text x="399.70" y="457.70" font-size="4.9" text-anchor="middle" font-weight="bold" fill="#000" letter-spacing="0.32" stroke="#000" stroke-width="0.22">0.150</text>
<rect x="411.20" y="471.49" width="15.90" height="46.71" fill="#FFA500" stroke="#2a2a2a" stroke-width="0.75"/>
<text x="419.15" y="468.89" font-size="4.9" text-anchor="middle" font-weight="bold" fill="#000" letter-spacing="0.32" stroke="#000" stroke-width="0.22">0.121</text>
<rect x="430.65" y="484.23" width="15.90" height="33.97" fill="#FFA500" stroke="#2a2a2a" stroke-width="0.75"/>
<text x="438.60" y="481.63" font-size="4.9" text-anchor="middle" font-weight="bold" fill="#000" letter-spacing="0.32" stroke="#000" stroke-width="0.22">0.088</text>
<path d="M270.60 446.40V518.20" stroke="#999" stroke-width="0.9" fill="none"/>
<path d="M270.60 518.20H451.50" stroke="#555" stroke-width="0.9" fill="none"/>
<path d="M268.10 518.20H270.60" stroke="#888" stroke-width="0.7"/>
<text x="264.30" y="521.00" font-size="8" text-anchor="end" font-weight="normal" fill="#333" >0</text>
<path d="M268.10 499.10H270.60" stroke="#888" stroke-width="0.7"/>
<text x="264.30" y="501.90" font-size="8" text-anchor="end" font-weight="normal" fill="#333" >0.05</text>
<path d="M268.10 480.20H270.60" stroke="#888" stroke-width="0.7"/>
<text x="264.30" y="483.00" font-size="8" text-anchor="end" font-weight="normal" fill="#333" >0.10</text>
<path d="M268.10 460.90H270.60" stroke="#888" stroke-width="0.7"/>
<text x="264.30" y="463.70" font-size="8" text-anchor="end" font-weight="normal" fill="#333" >0.15</text>
<path d="M283.00 518.20V520.50" stroke="#555" stroke-width="0.7"/>
<text transform="translate(288.20,530.70) rotate(-45)" font-size="8.6" letter-spacing="0.08" text-anchor="end" fill="#2a2a2a">LLM (Vicuna 7b)</text>
<path d="M302.45 518.20V520.50" stroke="#555" stroke-width="0.7"/>
<text transform="translate(307.65,530.70) rotate(-45)" font-size="8.6" letter-spacing="0.08" text-anchor="end" fill="#2a2a2a">LLM (Mistral 7b)</text>
<path d="M321.90 518.20V520.50" stroke="#555" stroke-width="0.7"/>
<text transform="translate(327.10,530.70) rotate(-45)" font-size="8.6" letter-spacing="0.08" text-anchor="end" fill="#2a2a2a">CHGNet (scratch)</text>
<path d="M341.35 518.20V520.50" stroke="#555" stroke-width="0.7"/>
<text transform="translate(346.55,530.70) rotate(-45)" font-size="8.6" letter-spacing="0.08" text-anchor="end" fill="#2a2a2a">CHGNet (fine tune)</text>
<path d="M360.80 518.20V520.50" stroke="#555" stroke-width="0.7"/>
<text transform="translate(366.00,530.70) rotate(-45)" font-size="8.6" letter-spacing="0.08" text-anchor="end" fill="#2a2a2a">SchNet</text>
<path d="M380.25 518.20V520.50" stroke="#555" stroke-width="0.7"/>
<text transform="translate(385.45,530.70) rotate(-45)" font-size="8.6" letter-spacing="0.08" text-anchor="end" fill="#2a2a2a">MACE (scratch)</text>
<path d="M399.70 518.20V520.50" stroke="#555" stroke-width="0.7"/>
<text transform="translate(404.90,530.70) rotate(-45)" font-size="8.6" letter-spacing="0.08" text-anchor="end" fill="#2a2a2a">MatterChat (CHGNet)</text>
<path d="M419.15 518.20V520.50" stroke="#555" stroke-width="0.7"/>
<text transform="translate(424.35,530.70) rotate(-45)" font-size="8.6" letter-spacing="0.08" text-anchor="end" fill="#2a2a2a">MatterChat (CHGNet with RAG)</text>
<path d="M438.60 518.20V520.50" stroke="#555" stroke-width="0.7"/>
<text transform="translate(443.80,530.70) rotate(-45)" font-size="8.6" letter-spacing="0.08" text-anchor="end" fill="#2a2a2a">MatterChat (MACE)</text>
<text x="602.80" y="437.60" font-size="9.2" text-anchor="middle" font-weight="normal" fill="#222" >Energy above hull</text>
<text x="469.90" y="438.50" font-size="13" text-anchor="start" font-weight="bold" fill="#000" >i</text>
<text transform="translate(477.10,482.30) rotate(-90)" font-size="8.7" text-anchor="middle" fill="#222">RMSE (eV per atom)</text>
<path d="M511.00 514.80L517.80 521.60M517.80 514.80L511.00 521.60" stroke="#e8101c" stroke-width="1.8" fill="none"/>
<path d="M530.45 514.80L537.25 521.60M537.25 514.80L530.45 521.60" stroke="#e8101c" stroke-width="1.8" fill="none"/>
<rect x="545.35" y="465.29" width="15.90" height="52.91" fill="#90EE90" stroke="#2a2a2a" stroke-width="0.75"/>
<text x="553.30" y="462.69" font-size="4.9" text-anchor="middle" font-weight="bold" fill="#000" letter-spacing="0.32" stroke="#000" stroke-width="0.22">0.130</text>
<rect x="564.80" y="468.14" width="15.90" height="50.06" fill="#90EE90" stroke="#2a2a2a" stroke-width="0.75"/>
<text x="572.75" y="465.54" font-size="4.9" text-anchor="middle" font-weight="bold" fill="#000" letter-spacing="0.32" stroke="#000" stroke-width="0.22">0.123</text>
<rect x="584.25" y="458.37" width="15.90" height="59.83" fill="#90EE90" stroke="#2a2a2a" stroke-width="0.75"/>
<text x="592.20" y="455.77" font-size="4.9" text-anchor="middle" font-weight="bold" fill="#000" letter-spacing="0.32" stroke="#000" stroke-width="0.22">0.147</text>
<rect x="603.70" y="481.98" width="15.90" height="36.22" fill="#90EE90" stroke="#2a2a2a" stroke-width="0.75"/>
<text x="611.65" y="479.38" font-size="4.9" text-anchor="middle" font-weight="bold" fill="#000" letter-spacing="0.32" stroke="#000" stroke-width="0.22">0.089</text>
<rect x="623.15" y="475.47" width="15.90" height="42.74" fill="#FFA500" stroke="#2a2a2a" stroke-width="0.75"/>
<text x="631.10" y="472.87" font-size="4.9" text-anchor="middle" font-weight="bold" fill="#000" letter-spacing="0.32" stroke="#000" stroke-width="0.22">0.105</text>
<rect x="642.60" y="479.13" width="15.90" height="39.07" fill="#FFA500" stroke="#2a2a2a" stroke-width="0.75"/>
<text x="650.55" y="476.53" font-size="4.9" text-anchor="middle" font-weight="bold" fill="#000" letter-spacing="0.32" stroke="#000" stroke-width="0.22">0.096</text>
<rect x="662.05" y="478.31" width="15.90" height="39.89" fill="#FFA500" stroke="#2a2a2a" stroke-width="0.75"/>
<text x="670.00" y="475.71" font-size="4.9" text-anchor="middle" font-weight="bold" fill="#000" letter-spacing="0.32" stroke="#000" stroke-width="0.22">0.098</text>
<path d="M502.00 446.40V518.20" stroke="#999" stroke-width="0.9" fill="none"/>
<path d="M502.00 518.20H682.80" stroke="#555" stroke-width="0.9" fill="none"/>
<path d="M499.50 518.10H502.00" stroke="#888" stroke-width="0.7"/>
<text x="495.70" y="520.90" font-size="8" text-anchor="end" font-weight="normal" fill="#333" >0</text>
<path d="M499.50 496.40H502.00" stroke="#888" stroke-width="0.7"/>
<text x="495.70" y="499.20" font-size="8" text-anchor="end" font-weight="normal" fill="#333" >0.05</text>
<path d="M499.50 475.40H502.00" stroke="#888" stroke-width="0.7"/>
<text x="495.70" y="478.20" font-size="8" text-anchor="end" font-weight="normal" fill="#333" >0.10</text>
<path d="M499.50 454.60H502.00" stroke="#888" stroke-width="0.7"/>
<text x="495.70" y="457.40" font-size="8" text-anchor="end" font-weight="normal" fill="#333" >0.15</text>
<path d="M514.40 518.20V520.50" stroke="#555" stroke-width="0.7"/>
<text transform="translate(519.60,530.70) rotate(-45)" font-size="8.6" letter-spacing="0.08" text-anchor="end" fill="#2a2a2a">LLM (Vicuna 7b)</text>
<path d="M533.85 518.20V520.50" stroke="#555" stroke-width="0.7"/>
<text transform="translate(539.05,530.70) rotate(-45)" font-size="8.6" letter-spacing="0.08" text-anchor="end" fill="#2a2a2a">LLM (Mistral 7b)</text>
<path d="M553.30 518.20V520.50" stroke="#555" stroke-width="0.7"/>
<text transform="translate(558.50,530.70) rotate(-45)" font-size="8.6" letter-spacing="0.08" text-anchor="end" fill="#2a2a2a">CHGNet (scratch)</text>
<path d="M572.75 518.20V520.50" stroke="#555" stroke-width="0.7"/>
<text transform="translate(577.95,530.70) rotate(-45)" font-size="8.6" letter-spacing="0.08" text-anchor="end" fill="#2a2a2a">CHGNet (fine tune)</text>
<path d="M592.20 518.20V520.50" stroke="#555" stroke-width="0.7"/>
<text transform="translate(597.40,530.70) rotate(-45)" font-size="8.6" letter-spacing="0.08" text-anchor="end" fill="#2a2a2a">SchNet</text>
<path d="M611.65 518.20V520.50" stroke="#555" stroke-width="0.7"/>
<text transform="translate(616.85,530.70) rotate(-45)" font-size="8.6" letter-spacing="0.08" text-anchor="end" fill="#2a2a2a">MACE (scratch)</text>
<path d="M631.10 518.20V520.50" stroke="#555" stroke-width="0.7"/>
<text transform="translate(636.30,530.70) rotate(-45)" font-size="8.6" letter-spacing="0.08" text-anchor="end" fill="#2a2a2a">MatterChat (CHGNet)</text>
<path d="M650.55 518.20V520.50" stroke="#555" stroke-width="0.7"/>
<text transform="translate(655.75,530.70) rotate(-45)" font-size="8.6" letter-spacing="0.08" text-anchor="end" fill="#2a2a2a">MatterChat (CHGNet with RAG)</text>
<path d="M670.00 518.20V520.50" stroke="#555" stroke-width="0.7"/>
<text transform="translate(675.20,530.70) rotate(-45)" font-size="8.6" letter-spacing="0.08" text-anchor="end" fill="#2a2a2a">MatterChat (MACE)</text>
<defs><marker id="mb" markerUnits="userSpaceOnUse" markerWidth="4" markerHeight="4" refX="2" refY="2" overflow="visible"><circle cx="2" cy="2" r="1.25" fill="#1f77b4" fill-opacity="0.65"/></marker><marker id="mo" markerUnits="userSpaceOnUse" markerWidth="4" markerHeight="4" refX="2" refY="2" overflow="visible"><path d="M2 0.45L3.55 3.15H0.45z" fill="#ff7f0e" fill-opacity="0.6"/></marker></defs>
<clipPath id="cj"><rect x="46.3" y="639.2" width="163.60000000000002" height="162.89999999999998"/></clipPath>
<g clip-path="url(#cj)">
<path d="M46.40 802.10L209.32 640.25" stroke="#111" stroke-width="1.0" stroke-dasharray="2.6 1.2" fill="none"/>
<path d="M66.6 774.6 77.0 762.6 84.6 767.9 69.8 792.2 69.6 788.9 66.2 763.6 62.9 801.9 65.3 765.9 81.5 767.0 61.6 781.5 63.3 788.8 73.3 789.8 64.1 790.9 59.7 782.5 80.0 779.9 62.3 777.7 89.9 758.3 83.3 767.2 65.7 774.7 83.0 758.5 47.6 792.6 59.3 795.0 83.4 775.1 64.1 800.2 63.3 800.5 73.6 779.4 73.4 781.6 75.4 761.7 64.7 774.4 53.9 779.5 58.2 780.2 56.6 791.2 59.2 801.6 80.1 793.6 62.2 771.6 61.6 793.3 60.4 785.8 63.6 801.9 91.8 765.5 75.7 795.3 59.8 790.3 59.5 763.3 82.5 779.6 70.2 764.8 76.3 773.9 49.8 769.4 73.7 798.1 59.4 778.3 66.5 779.7 56.1 763.7 62.1 786.2 81.8 775.8 71.9 799.5 64.4 785.0 74.5 787.9 61.4 795.5 64.2 766.1 67.1 785.4 56.7 759.0 59.9 776.1 76.7 775.5 80.0 774.0 48.9 772.3 70.5 795.5 78.5 782.7 61.9 791.5 48.8 784.4 68.0 797.8 58.9 759.5 68.4 792.6 63.1 772.5 59.0 763.6 67.4 772.9 63.4 796.3 76.8 764.9 56.6 760.5 94.0 762.3 58.6 777.0 56.4 795.7 55.0 793.6 49.8 761.2 64.0 777.8 72.2 794.1 81.2 763.2 54.9 773.8 52.2 777.0 58.6 785.5 76.0 784.0 63.4 791.6 74.4 800.4 78.5 763.5 71.1 781.5 78.3 778.0 73.9 787.9 62.3 769.0 54.1 801.0 62.9 785.7 61.2 800.8 51.0 796.7 68.9 759.5 74.6 773.1 51.7 783.2 52.1 779.0 54.9 763.7 56.9 786.9 87.3 776.1 47.6 772.0 53.3 786.4 53.2 779.2 68.4 768.4 47.1 762.1 54.6 761.0 54.4 801.9 83.0 768.9 55.1 766.4 66.5 796.1 62.1 783.7 66.2 766.2 70.7 801.5 53.4 774.4 89.8 767.2 82.9 779.5 76.8 770.1 48.1 792.1 68.9 793.4 68.9 786.1 54.3 786.9 94.5 760.3 83.8 776.9 50.6 787.1 57.6 790.1 48.0 760.2 79.1 782.5 93.2 758.9 86.9 779.4 71.5 779.1 79.2 762.6 77.5 769.4 70.5 776.5 83.5 783.3 76.1 763.4 59.4 784.0 72.0 761.5 47.0 799.1 74.6 783.2 74.8 779.2 67.7 760.2 76.2 791.0 82.1 766.6 61.4 772.3 49.9 770.5 52.1 774.4 55.8 759.3 57.6 787.4 63.5 784.6 77.9 793.2 54.9 799.9 77.1 792.7 80.2 761.8 87.4 765.1 59.3 797.1 46.5 775.5 77.9 781.0 56.9 775.9 52.7 773.1 75.4 788.6 81.2 759.8 54.9 781.6 58.0 774.4 87.3 774.1 68.1 799.4 51.4 784.0 84.2 768.5 52.0 766.2 69.9 770.0 47.5 797.1 73.7 761.9 86.4 766.8 50.5 763.4 57.7 779.1 84.4 761.8 65.0 800.0 55.8 800.8 65.2 801.2 62.4 791.0 76.6 791.2 56.3 793.8 78.2 777.1 65.7 800.4 77.9 776.1 58.9 794.8 78.6 772.2 67.3 801.2 60.5 788.4 47.7 760.8 86.3 778.4 80.3 766.4 55.4 773.1 77.8 775.2 55.8 793.7 66.2 776.8 72.5 800.4 67.6 766.8 61.0 759.8 61.2 764.5 48.8 799.9 54.5 787.2 56.3 788.1 51.9 797.1 49.1 774.5 68.4 767.0 54.2 788.3 82.3 764.1 89.9 767.0 55.2 796.4 73.0 768.3 71.2 763.2 48.9 793.4 51.7 776.8 85.0 774.0 66.8 775.3 71.8 797.9 49.3 773.0 72.3 774.3 87.7 765.8 87.4 766.7 46.6 787.7 70.1 770.3 64.4 763.9 83.8 762.8 48.8 795.0 54.4 800.9 82.1 773.4 62.5 792.6 65.4 777.3 95.2 760.5 47.9 791.0 61.9 782.0 53.2 773.2 49.0 797.6 67.9 785.3 77.3 796.2 72.0 772.9 77.4 765.5 67.9 785.7 77.6 778.3 66.6 792.6 74.5 791.2 66.6 787.6 54.2 782.0 64.6 798.5 69.0 768.9 53.4 776.6 68.8 788.9 71.9 798.7 52.7 768.5 64.0 796.3 70.2 796.2 59.4 796.3 54.8 798.5 64.8 762.2 65.6 790.2 71.3 788.6 73.2 765.4 51.0 774.8 73.9 793.9 82.5 783.0 51.4 763.2 55.8 785.6 54.3 770.8 73.3 797.8 87.9 770.1 48.5 767.9 62.3 765.7 54.9 772.4 64.1 785.8 74.9 799.3 49.3 779.3 54.3 768.7 62.8 793.7 64.9 790.4 66.6 769.1 53.4 762.6 57.8 796.6 79.4 794.0 51.5 773.7 83.1 770.3 62.4 758.2 85.7 760.7 47.0 765.0 87.1 767.9 52.6 784.7 66.3 773.9 68.6 794.0 69.9 768.7 54.0 768.7 52.7 770.3 57.6 782.5 48.4 785.4 54.8 783.6 50.3 800.6 68.8 764.9 61.2 778.2 68.7 785.0 58.1 778.0 47.9 770.3 82.5 765.5 59.1 761.6 61.8 785.0 71.0 796.0 65.2 768.6 92.0 758.4 76.5 795.6 60.5 770.7 81.5 765.8 59.0 761.6 60.2 798.1 77.3 758.6 76.4 797.0 51.3 794.3 76.5 776.8 65.1 782.4 52.5 769.1 81.0 761.8 50.8 792.5 88.5 768.2 49.6 799.1 50.1 781.3 56.4 800.7 80.6 788.3 47.6 788.3 88.1 770.4 70.6 782.1 75.7 758.3 68.9 763.0 74.5 761.7 72.2 791.2 72.3 784.7 80.8 792.1 51.5 796.6 71.0 800.6 63.1 779.9 71.6 796.7 76.2 794.3 94.5 764.2 57.1 780.8 61.6 794.0 88.2 772.6 79.8 790.4 61.7 778.9 80.0 789.6 63.0 779.4 62.7 774.4 67.5 767.3 65.2 763.6 60.9 794.2 50.9 796.1 48.4 797.1 85.0 759.0 74.8 760.6 87.3 759.4 54.2 792.9 55.9 779.8 57.7 780.2 61.5 761.8 69.5 800.3 60.0 788.2 60.2 775.7 66.1 799.2 52.9 791.7 50.6 781.6 80.5 763.3 81.4 768.6 60.6 765.6 75.9 768.6 47.9 770.9 65.9 764.7 72.2 772.1 58.0 769.7 59.0 788.8 66.6 794.7 73.7 768.8 51.5 794.8 81.6 761.6 49.8 775.8 82.1 787.6 56.6 760.9 54.7 795.3 54.6 779.4 77.6 798.1 72.0 776.8 93.2 766.7 80.3 789.7 48.4 766.8 69.9 771.1 72.7 773.8 81.9 760.2 59.5 783.0 59.1 783.8 46.6 771.6 48.1 765.3 66.7 787.3 49.8 772.6 53.3 792.9 60.3 777.8 49.7 768.2 47.4 799.2 88.7 770.0 56.8 759.9 74.6 781.5 46.8 784.1 57.5 770.4 85.8 779.1 66.3 798.4 50.3 777.3 53.1 800.4 47.4 782.2 51.9 774.3 72.8 777.8 49.5 798.8 53.0 776.0 57.7 793.5 62.7 763.4 77.9 782.1 71.1 770.9 72.2 777.7 51.2 766.6 73.9 796.5 82.8 784.8 93.0 789.2 89.3 793.6 84.4 792.7 81.0 784.8 67.1 792.9 91.3 790.2 68.5 793.2 70.2 783.1 85.8 795.1 89.1 792.0 88.4 787.3 79.2 799.2 67.6 786.6 90.2 795.3 93.7 796.3 73.4 798.7 90.6 796.9 77.8 788.0 75.3 798.2 80.6 788.1 66.9 775.7 78.9 781.5 72.2 780.1 86.4 788.1 80.6 797.0 90.7 787.8 91.5 797.8 75.4 782.0 92.6 792.9 80.6 790.8 69.3 795.4 67.9 787.3 94.1 797.1 82.7 798.1 68.2 797.1 80.8 785.8 80.6 783.5 78.7 797.5 93.0 800.1 92.9 797.2 70.1 797.1 70.9 795.8 77.9 788.8 89.7 794.6 83.9 793.2 86.8 797.2 82.6 788.9 72.5 793.7 89.3 794.8 67.1 788.5 86.0 786.4 79.7 786.8 93.6 796.8 81.6 784.4 68.2 790.5 78.5 790.5 84.9 786.3 68.2 783.5 67.2 796.8 81.6 782.7 77.2 799.7 80.6 794.8 74.9 779.8 84.8 800.0 84.3 755.1 84.2 759.7 68.0 756.6 111.8 738.8 122.2 721.0 93.2 738.9 152.3 697.3 137.5 694.5 112.5 731.3 89.9 751.3 123.8 722.2 119.9 725.3 96.8 735.9 147.3 693.7 97.4 743.5 102.4 727.1 79.3 765.1 109.6 715.9 132.3 704.7 141.2 697.6 84.9 750.7 166.6 667.2 138.2 708.9 108.5 739.4 100.7 744.5 141.4 694.7 78.0 750.3 136.1 700.2 138.2 696.9 105.8 725.4 152.3 688.9 112.2 729.2 110.4 732.3 102.4 738.6 166.3 675.6 90.6 751.1 131.0 712.6 94.4 728.3 161.5 677.8 162.4 679.9 91.3 756.7 167.9 675.1 109.0 719.8 72.7 765.7 111.3 741.9 68.0 758.1 110.6 731.7 81.5 759.5 100.5 746.0 91.9 741.8 116.0 718.7 151.0 693.4 156.8 690.8 92.0 745.1 109.6 731.4 69.4 763.3 153.2 676.9 78.9 746.6 156.3 684.4 124.6 708.9 93.5 746.5 134.2 700.0 99.6 741.5 161.6 677.6 78.7 770.8 68.7 753.1 131.4 698.5 111.9 727.3 91.6 755.3 114.1 735.6 99.9 755.0 112.2 711.7 135.9 701.0 150.3 698.8 78.7 761.0 111.1 721.6 171.7 686.1 115.0 747.7 133.1 710.3 69.8 759.6 154.5 687.7 115.3 722.0 139.7 683.8 147.0 693.7 152.8 701.8 146.7 711.3 85.4 763.1 85.2 753.4 95.3 745.7 114.0 721.1 119.6 725.1 161.8 683.6 70.9 751.8 81.5 762.2 108.0 752.8 150.9 692.2 120.9 719.7 115.3 724.4 141.9 708.2 136.0 705.9 91.6 753.0 88.8 769.4 101.4 736.4 151.6 687.3 112.6 713.9 73.7 759.5 108.2 734.6 108.7 733.5 115.3 719.8 119.9 713.9 159.7 687.2 91.3 754.2 94.8 732.4 123.0 726.2 143.4 687.9 133.5 707.5 108.2 734.8 141.3 697.4 103.3 720.9 155.0 693.1 102.5 742.6 71.7 744.4 156.7 692.4 96.0 747.3 147.0 685.8 115.2 705.4 118.2 735.6 88.0 761.4 136.3 699.0 74.6 759.3 170.0 675.1 154.8 682.7 105.0 749.5 76.4 759.3 157.1 690.4 101.3 735.1 92.5 760.7 106.3 729.8 74.8 759.0 101.3 727.1 124.7 715.0 169.1 691.5 141.6 688.8 82.0 762.4 112.3 727.6 119.8 729.6 166.3 671.5 83.8 760.8 115.1 731.4 155.5 682.2 101.7 724.9 89.6 764.9 111.0 722.6 101.6 742.4 150.5 687.9 84.5 771.1 91.0 740.0 76.8 764.6 128.8 692.5 90.6 744.0 158.5 683.7 159.3 681.9 161.8 675.6 95.0 742.7 70.7 762.5 101.6 738.4 153.8 675.3 144.0 691.4 77.1 757.9 129.9 713.9 164.7 686.3 168.2 673.7 116.8 709.9 151.3 691.2 139.7 697.6 104.0 743.7 93.3 758.5 132.1 697.9 80.9 759.0 98.4 726.0 169.6 672.9 120.9 701.5 120.9 719.9 155.5 675.1 100.8 751.6 162.3 690.5 158.7 683.8 105.1 740.3 99.2 732.0 74.1 768.8 153.2 669.7 80.9 757.4 73.9 760.5 161.3 702.2 113.2 717.7 131.8 713.0 139.6 699.3 78.8 763.5 80.6 769.2 120.1 722.4 78.7 759.2 116.6 724.3 139.7 696.8 138.3 705.0 111.4 716.8 83.3 772.9 85.9 761.2 73.7 755.2 102.9 724.7 73.4 766.6 156.2 679.2 85.8 756.6 93.3 739.5 124.4 728.6 135.9 691.2 158.7 678.1 131.9 707.5 91.8 751.5 70.0 767.3 129.6 702.0 164.6 670.3 73.4 766.5 132.0 698.8 81.4 758.4 101.6 739.9 114.2 717.8 134.1 714.4 170.5 656.8 128.8 714.0 90.7 739.8 125.2 700.1 97.4 733.6 107.0 746.2 93.6 747.6 110.6 728.7 87.2 746.3 88.5 752.2 89.7 751.6 100.9 727.9 89.9 745.4 143.1 691.6 154.6 692.2 90.1 739.6 116.4 710.3 147.4 683.5 89.1 738.9 119.3 725.3 121.0 743.5 120.6 719.7 168.8 671.8 82.1 756.0 157.0 665.7 126.6 711.0 141.7 690.9 120.8 706.0 163.7 681.2 83.2 748.8 135.3 707.9 91.6 749.0 131.0 706.5 90.2 747.9 77.1 766.4 145.1 684.2 148.9 697.0 115.9 712.7 103.3 746.8 141.3 716.9 83.3 759.3 134.1 711.6 110.1 710.0 122.3 712.6 100.8 730.3 83.0 754.4 140.9 714.0 102.5 732.8 136.5 708.1 86.5 735.2 76.6 762.1 115.8 713.4 119.4 711.2 153.9 676.0 165.6 684.2 68.7 762.1 133.9 695.1 84.5 744.0 139.1 712.6 112.2 736.8 96.4 727.8 105.4 730.4 138.0 712.8 119.7 724.0 138.5 702.1 130.0 708.1 100.4 730.9 126.6 701.1 116.4 738.5 110.9 715.4 81.6 760.9 108.5 726.2 81.5 750.1 100.7 739.7 75.5 752.1 121.3 708.3 145.1 682.7 91.5 734.1 87.4 755.0 135.3 713.2 83.8 757.4 161.8 673.6 76.4 756.5 97.4 742.2 112.1 734.9 72.7 762.4 91.1 748.3 131.7 704.4 100.3 741.4 140.9 692.9 86.9 757.7 119.1 726.8 102.6 726.8 92.3 752.5 145.1 701.7 133.3 709.5 77.8 759.3 96.5 741.1 149.8 686.2 174.9 671.4 112.1 725.1 149.7 692.0 163.5 679.7 137.7 704.2 123.3 725.4 83.2 752.4 103.4 736.6 124.8 716.9 151.7 677.9 100.8 753.0 106.9 748.3 71.1 769.1 136.8 700.3 100.9 727.4 150.2 699.4 85.9 744.3 122.8 714.2 102.8 729.0 85.1 758.5 137.4 707.6 80.6 761.7 55.4 771.4 107.8 730.6 145.1 696.6 152.5 696.8 162.8 669.2 145.9 694.3 125.2 718.1 83.0 747.4 143.0 684.1 131.7 702.2 131.8 713.8 139.1 711.8 147.0 688.6 98.2 747.0 127.5 700.4 113.1 736.0 94.7 739.3 97.6 748.9 86.7 749.1 111.5 730.0 94.4 734.3 98.6 740.5 159.8 699.4 128.4 717.0 128.1 713.8 174.9 680.6 92.7 745.5 115.0 719.1 75.4 759.8 115.0 745.7 164.2 678.8 80.8 766.5 137.6 691.4 142.8 686.3 103.7 724.6 145.8 699.1 107.6 747.7 95.7 747.5 104.4 735.5 91.2 745.7 84.1 751.8 172.0 675.8 102.5 733.7 104.1 759.0 165.8 685.4 77.0 760.4 158.4 680.7 122.7 709.9 102.8 724.2 90.4 766.7 82.3 761.0 98.1 743.3 106.0 738.8 167.3 683.6 108.1 718.4 164.1 676.1 126.0 706.1 90.9 758.4 124.2 722.6 86.5 758.7 162.0 678.9 94.3 742.6 84.5 755.8 77.2 767.7 130.0 718.3 104.7 739.4 79.5 763.9 135.3 710.6 87.3 757.5 140.6 696.8 107.1 726.3 119.5 736.7 105.1 721.7 131.2 710.0 164.4 673.8 134.3 689.4 104.0 733.2 91.4 737.7 80.9 768.2 74.3 755.7 82.6 745.5 159.8 683.9 132.2 703.2 142.7 687.3 136.5 691.8 92.4 751.6 102.9 739.4 102.5 730.1 93.9 747.0 98.8 744.2 90.9 745.9 106.1 723.3 122.9 703.5 127.2 710.8 137.0 702.7 77.0 768.2 78.7 757.0 96.6 744.8 106.1 751.1 136.6 700.6 169.2 678.1 132.5 699.3 59.4 750.2 93.1 749.8 139.6 693.2 167.0 682.8 119.1 710.6 92.0 739.9 95.9 741.8 125.8 716.4 147.8 687.7 95.7 750.1 75.8 750.9 72.7 770.1 85.2 755.4 161.6 689.3 128.1 708.6 168.5 673.1 83.8 756.1 104.4 747.4 153.2 692.6 134.4 713.3 75.8 761.7 103.0 737.6 126.3 708.2 132.6 722.3 107.4 731.3 79.1 765.5 150.9 668.1 103.5 745.0 121.7 712.3 114.8 736.3 77.2 751.4 77.3 760.5 80.5 762.4 89.4 758.9 85.3 766.6 112.8 739.1 105.8 740.8 90.6 742.8 151.9 688.0 77.2 767.3 81.0 761.0 150.2 697.8 110.0 723.0 101.4 722.1 84.9 747.2 110.6 723.1 85.7 757.2 141.7 694.2 140.1 683.7 97.9 752.5 74.2 770.8 156.4 686.4 80.9 749.9 122.6 699.4 147.1 704.9 143.6 694.0 147.5 684.0 115.5 737.2 148.2 695.4 107.2 729.6 89.7 739.1 113.3 736.6 92.7 754.4 146.6 693.5 150.1 682.4 82.5 771.8 103.0 730.1 113.5 733.6 168.3 669.9 163.0 679.4 169.2 678.4 136.2 707.2 137.2 700.4 86.2 754.8 82.2 771.6 148.1 680.5 83.5 751.4 75.9 771.3 88.5 745.6 107.3 745.7 137.8 705.5 64.6 768.5 90.3 754.6 152.7 687.7 161.8 687.5 117.9 720.7 103.2 724.6 86.8 754.0 150.4 678.6 136.5 698.2 99.2 728.1 84.6 753.9 96.1 750.9 87.8 732.9 102.3 741.0 72.7 751.4 116.2 728.8 108.6 733.9 90.3 750.8 106.6 733.8 98.5 740.8 95.6 741.0 127.6 726.2 107.5 741.1 73.7 752.6 155.4 691.6 110.1 722.1 103.1 741.3 135.7 699.2 128.5 705.2 141.2 687.8 141.9 692.1 125.5 716.3 134.9 709.1 88.6 771.4 91.9 762.6 92.8 747.5 72.8 759.6 68.8 762.6 133.8 716.5 140.3 699.9 140.8 701.6 71.8 755.5 126.3 712.0 143.5 698.2 79.4 764.3 83.5 754.9 85.0 751.6 112.8 726.5 87.2 745.4 111.2 727.2 103.4 745.6 125.3 727.4 112.2 726.4 131.3 712.0 83.6 765.6 130.2 704.9 135.1 699.8 143.9 710.0 85.7 765.4 159.7 684.9 128.6 715.8 90.0 759.3 106.8 737.1 118.1 714.0 114.5 726.6 103.0 748.1 91.2 750.8 90.7 749.3 149.3 698.6 102.3 732.1 73.4 771.0 88.0 731.1 90.9 746.4 79.3 758.1 170.0 685.2 98.0 753.9 125.0 735.6 97.3 734.9 151.2 679.5 157.8 685.7 90.2 763.4 105.4 736.1 84.6 762.7 136.5 694.0 141.5 699.3 126.9 717.2 64.9 779.0 80.2 754.3 123.2 709.0 109.7 738.2 152.3 686.6 67.2 765.2 88.0 748.7 172.0 676.8 82.9 751.6 68.5 770.5 109.0 745.0 133.3 715.3 83.8 750.0 144.6 690.2 133.3 708.0 145.8 695.6 85.6 758.5 134.7 694.6 141.4 689.4 90.2 745.8 78.1 757.0 117.2 720.0 113.2 730.1 100.2 729.9 141.1 693.9 109.9 729.3 112.3 725.7 99.2 738.2 92.7 739.4 83.5 763.7 94.9 740.7 102.6 763.7 136.3 682.4 80.0 761.8 104.5 726.2 109.5 737.4 89.7 752.8 114.5 727.8 140.3 712.9 166.3 654.5 157.2 689.5 97.9 739.0 97.7 736.6 111.5 734.3 96.6 749.1 165.1 672.8 77.9 762.0 86.1 763.8 123.7 708.3 129.5 721.6 94.8 750.6 163.2 689.5 104.5 741.2 127.2 723.6 159.0 694.9 71.3 760.7 103.9 738.0 167.1 693.4 158.0 682.8 155.3 689.4 152.3 686.9 93.0 769.0 78.7 766.8 79.4 766.0 155.9 671.2 98.0 743.9 83.2 760.1 79.3 752.3 130.0 722.7 81.7 755.1 160.0 693.0 94.7 733.8 142.0 692.5 140.0 698.2 88.1 742.5 145.2 698.9 157.9 675.5 117.2 716.2 88.4 739.4 147.4 688.6 163.6 675.6 97.0 747.6 83.7 755.7 158.0 680.7 126.1 705.4 91.2 749.0 109.0 717.7 107.1 764.2 165.2 676.4 94.8 745.2 77.4 754.4 77.7 765.9 84.8 752.6 162.0 676.7 90.6 749.1 107.3 723.4 161.5 679.4 79.9 771.3 85.8 737.8 147.8 699.5 75.0 747.8 153.9 680.4 150.5 697.9 74.8 752.1 132.0 708.1 113.0 732.6 143.5 698.0 86.5 748.3 103.6 729.9 83.7 758.1 84.0 753.1 160.2 677.6 146.3 671.9 104.9 730.5 126.5 703.7 110.8 731.2 93.3 752.0 100.4 744.7 152.7 681.7 105.9 745.3 122.4 737.5 158.6 677.5 86.1 747.4 134.3 678.2 70.8 755.4 139.2 707.0 142.3 691.6 141.1 699.8 142.9 718.7 163.1 665.2 87.2 744.8 121.3 734.3 88.6 754.1 77.6 755.8 101.3 731.3 124.9 702.8 134.0 704.3 159.4 678.4 90.5 745.1 95.3 753.1 148.8 699.8 156.2 677.4 130.1 709.6 82.2 737.1 104.1 730.7 141.9 686.3 93.5 730.6 142.5 691.0 133.9 693.1 101.1 737.8 154.5 689.2 100.6 735.4 133.8 691.8 93.9 729.0 107.9 723.4 122.1 716.5 126.1 718.3 74.8 760.5 174.0 673.3 172.2 682.9 156.0 685.9 126.3 722.1 144.5 686.5 103.0 742.0 137.3 700.5 147.1 703.5 113.7 727.8 83.5 756.0 141.8 698.8 125.1 707.8 161.6 686.1 94.4 764.7 148.5 695.8 145.8 684.6 103.8 749.6 105.2 733.5 106.2 749.4 66.5 771.9 93.5 748.8 69.1 745.6 110.7 730.9 115.0 715.2 86.9 761.3 103.0 753.3 144.2 697.8 113.9 734.8 116.0 716.3 103.1 728.6 151.3 691.6 85.3 767.7 117.9 725.4 140.2 715.1 70.5 759.9 147.5 675.1 102.0 738.0 82.0 740.0 138.1 693.6 149.2 688.7 123.6 723.0 153.3 684.9 78.6 765.4 107.8 728.7 136.7 710.2 153.7 679.3 142.0 712.5 126.4 715.8 95.2 742.7 112.2 712.9 113.8 721.9 146.2 701.7 142.3 697.2 131.8 703.8 163.9 674.9 73.9 765.0 135.2 701.3 99.2 736.6 130.8 697.3 91.8 750.3 106.4 735.9 153.4 698.2 98.3 751.2 111.3 740.9 149.7 686.0 77.9 754.1 138.5 691.1 92.6 749.0 117.6 716.4 131.7 716.5 150.8 695.2 84.5 739.9 143.2 699.5 127.0 705.5 98.6 741.6 138.8 712.5 158.7 674.4 110.8 730.1 152.5 681.4 90.3 759.2 139.5 696.8 102.0 757.0 125.9 712.8 110.1 732.5 84.3 761.5 131.8 690.0 132.9 696.8 67.2 760.7 96.7 762.5 132.1 695.0 146.9 688.4 105.1 736.7 97.2 746.4 107.2 742.3 86.8 755.0 121.3 723.7 89.2 745.7 87.5 762.2 95.9 738.4 80.7 759.5 108.9 735.0 128.9 709.0 126.2 698.9 155.0 680.1 127.3 717.7 152.2 684.2 101.0 745.4 148.0 696.5 80.9 740.4 109.8 712.2 174.9 666.4 104.6 714.0 107.4 727.7 83.5 747.0 163.1 688.5 58.7 770.2 96.3 745.7 92.6 762.8 94.7 762.2 151.3 650.3 123.2 690.6 89.5 772.9 46.4 802.1 134.9 688.1 91.3 745.4 49.8 782.6 129.3 688.4 158.0 690.9 152.6 668.9 132.0 711.4 82.8 737.2 119.6 758.7 168.4 687.9 52.3 781.2 106.7 718.6 118.1 743.1 46.4 787.3 144.3 732.5 155.0 654.0 75.5 732.9 115.7 671.2 201.7 672.1 90.0 733.2 173.2 687.8 136.8 689.0 153.0 715.6 46.4 757.0 90.3 737.2 104.8 753.6 159.9 690.0 155.8 663.4 77.5 780.9 107.7 735.4 82.3 760.4 166.1 713.8 129.6 713.2 178.5 662.7 73.3 762.5 102.6 743.1 150.9 712.8 180.2 695.4 97.4 737.4 46.4 774.7 102.5 756.3 98.8 754.8 67.4 779.0 134.0 726.0 148.4 666.0 165.8 660.5 79.0 749.4 146.2 692.3 138.5 692.7 112.2 735.4 97.2 761.8 55.8 761.4 74.6 761.5 73.1 761.4 87.8 760.2 48.9 760.3 75.6 760.8 88.6 761.4 49.1 760.8 70.0 761.8 68.0 761.0 79.8 761.1 84.0 760.3 94.4 760.5 99.8 761.1 81.9 761.6 60.8 760.9 54.3 761.7 50.2 760.7 52.8 760.6 82.9 761.3 83.3 762.0 79.1 760.2 66.9 761.3 71.2 760.4 60.3 760.9 95.5 760.8 47.2 760.2 63.5 761.0 56.1 762.0 92.1 760.7 66.2 761.3 61.4 761.0 77.9 760.3 61.4 762.2 48.8 761.2 77.4 761.6 62.6 760.5 91.6 761.4 83.4 760.9 85.0 761.4 89.7 760.6 64.0 761.4 76.8 761.2 60.2 762.0 57.2 761.0 57.4 760.7 52.3 761.5 59.2 760.6 58.4 762.3 82.3 762.2 68.9 761.2 57.1 761.2 83.2 761.2 58.2 760.8 76.2 761.4 72.2 761.9 92.8 760.0 92.2 746.8 106.8 746.1 86.7 745.0 75.4 745.3 88.6 745.6 87.0 745.5 76.6 745.2 73.1 745.7 79.6 745.4 99.1 745.5 69.7 746.8 112.5 745.8 73.3 744.8 75.2 745.8 67.5 745.7 81.4 745.9 80.3 745.8 96.3 745.0 73.9 746.1 77.1 745.9 82.1 746.7 67.8 746.6 107.2 745.1 80.4 745.2 62.5 745.1 97.1 745.3 72.8 746.0 84.4 745.2 95.9 746.5 70.0 746.2 88.3 746.4 104.3 746.2 69.6 745.1 85.3 746.3 70.6 746.2 68.5 746.1 84.7 745.8 94.4 745.1 105.4 746.0 97.6 746.3 78.5 745.9 55.7 755.3 101.1 756.3 96.9 755.6 101.1 755.6 91.8 755.0 61.0 755.4 70.3 754.9 64.0 755.2 58.4 755.0 97.9 754.9 97.6 755.4 91.0 755.5 67.3 755.2 94.9 755.6 93.4 755.1 70.5 754.7 61.5 754.9 61.9 755.5 94.0 755.4 59.1 755.4 75.4 754.7 96.7 755.4 62.7 754.9 85.8 755.6 70.5 755.4 85.4 754.4 93.5 754.5 69.1 755.9 68.3 755.0 73.9 789.5 49.7 789.4 84.0 788.8 80.4 790.0 57.8 789.4 75.7 789.8 86.8 789.4 51.3 789.0 70.1 788.7 66.1 788.3 59.6 788.5 58.6 788.3 50.1 788.6 73.8 789.2 54.8 788.3 64.3 789.2 85.7 789.3 61.2 788.1 70.6 788.4 55.8 789.7 62.5 789.6 83.6 788.6 87.0 788.9 59.4 789.6 58.3 788.9 52.1 788.6 59.4 788.8 54.2 789.1 57.6 788.6 82.8 788.3 50.0 781.3 87.3 781.4 57.8 780.5 70.3 781.3 49.3 781.6 70.8 781.0 75.0 781.7 49.9 781.8 89.6 780.3 53.6 782.0 58.0 781.8 61.3 782.2 85.2 782.7 56.9 781.0 60.3 782.0 77.0 781.9 84.4 781.8 85.5 782.1 69.9 781.5 64.6 780.3 76.3 781.2 56.5 781.2 83.5 782.4 54.1 782.2 60.3 781.2 61.3 781.7 87.5 781.6 66.6 781.6 73.7 781.9 87.6 782.4 63.9 781.3 134.0 716.9 138.5 715.1 124.6 716.1 143.2 716.0 136.1 717.1 95.4 715.3 95.1 716.2 112.1 715.7 141.0 715.4 115.3 715.8 134.1 714.9 107.5 716.0 128.0 716.2 142.5 716.1 140.4 717.3 113.9 716.3 120.1 715.3 122.9 715.7 112.7 716.3 120.2 715.7 145.9 717.0 141.3 716.0 111.1 715.6 130.9 715.5 145.0 716.3 113.7 715.4 139.7 714.9 136.9 716.1 141.7 715.5 98.8 716.7 143.6 717.0 146.8 715.5 99.1 716.2 132.2 715.4 134.2 714.9 140.1 716.0 110.0 716.8 100.5 715.2 138.0 715.6 95.7 715.5 134.1 708.8 138.9 708.4 120.3 709.7 110.1 707.9 131.2 708.3 115.9 708.2 117.3 707.9 126.9 708.6 156.0 708.6 125.8 708.1 143.8 708.3 114.4 708.8 147.0 708.0 129.4 708.5 121.9 707.5 158.2 709.4 152.5 708.7 120.9 707.6 136.5 709.4 129.3 708.2 121.9 709.2 149.0 708.1 112.1 709.1 119.4 708.6 124.3 708.8 111.1 709.1 154.3 708.7 150.0 709.1 110.7 708.5 51.6 795.3 78.0 794.2 55.8 795.7 54.1 795.2 82.9 794.6 53.9 795.5 78.6 793.9 58.3 794.2 68.3 795.1 58.4 795.1 59.5 795.5 82.5 795.6 81.5 794.5 53.2 794.4 74.4 794.6 51.8 794.6 49.1 794.6 71.5 795.6 74.5 794.8 75.3 794.0 76.4 794.1 61.7 795.0 53.3 795.0 46.6 794.0 116.0 722.9 97.5 721.9 96.9 723.4 119.0 723.4 91.0 721.9 100.9 721.8 93.8 722.4 129.9 723.0 80.4 722.6 125.6 722.0 119.2 722.7 96.7 722.7 114.7 723.1 98.6 722.9 112.4 721.8 126.8 722.9 103.2 722.9 121.5 722.6 109.3 722.0 98.8 722.9 129.5 722.4 89.7 723.5 144.0 692.6 163.3 691.5 150.8 692.9 165.9 691.5 144.7 691.9 165.6 692.1 144.9 691.7 155.8 691.4 157.1 692.1 158.0 692.2 135.2 691.5 158.9 692.5 173.5 664.8 190.7 664.5 166.3 663.9 173.1 665.3 175.0 663.8 175.8 664.7 173.9 663.7 166.7 664.3 171.6 663.8 172.9 664.2 53.6 718.0 75.5 724.6 69.8 734.4 69.4 737.8 73.1 744.9 54.4 720.1 70.7 733.9 48.8 754.6 68.5 727.0 57.1 708.9 68.4 754.5 53.9 708.7 58.1 753.1 68.6 742.8 77.6 709.7 57.7 709.9 52.0 748.9 50.5 722.4 68.7 727.7 76.1 738.3 47.0 719.2 57.8 726.6 52.0 746.9 78.1 733.8 50.8 722.9 48.7 727.3 71.9 731.2 79.5 721.5 72.1 751.4 50.2 755.9 59.9 756.4 63.7 727.3 76.2 736.5 71.4 716.6 48.4 709.9 61.4 752.5 72.2 739.3 64.4 737.3 68.5 731.0 78.5 713.0 78.9 728.3 74.2 743.0 65.4 725.2 56.6 741.8 51.7 730.6 52.0 753.2 67.6 730.1 72.0 734.3 74.9 726.1 76.7 730.0 55.9 729.7 57.5 721.5 52.9 751.4 64.4 720.8 77.8 727.2 71.5 723.9 60.9 738.3 51.7 753.8 74.4 712.4 76.1 717.1 71.9 709.7 56.1 735.3 59.3 714.2 65.8 714.9 76.8 730.8 54.5 713.4 60.3 717.7 48.4 753.0 46.5 751.4 54.5 737.9 131.8 791.0 140.6 801.9 134.1 792.9 157.1 800.2 151.5 794.7 100.0 787.5 117.5 801.0 157.9 790.0 208.6 690.2 201.2 673.6 186.5 679.2 192.0 659.0 197.5 655.3 160.7 791.1 162.5 796.6 129.3 792.9 144.1 792.9 118.3 780.1 110.9 772.7" class="bd"/>
<path d="M88.7 771.2 84.2 761.6 56.1 763.9 65.7 779.4 46.7 768.1 69.5 763.9 70.1 775.2 85.5 766.9 62.3 775.7 74.2 776.6 76.0 774.2 80.1 761.9 67.3 776.1 74.9 772.4 69.3 771.2 90.0 767.2 54.4 761.8 87.0 768.7 85.0 763.9 47.3 778.1 81.7 767.8 63.1 777.3 74.3 763.7 72.5 769.0 76.5 778.0 73.2 764.1 76.8 770.4 58.6 771.2 50.4 779.1 82.1 763.0 90.5 770.6 52.1 763.8 81.7 779.2 67.2 767.4 76.0 773.3 61.0 770.2 80.1 768.5 70.6 764.6 87.9 762.7 59.7 777.4 65.9 763.9 72.5 778.4 51.9 780.4 87.0 774.8 73.4 775.1 93.6 765.6 56.8 769.7 78.3 773.1 58.8 765.3 52.5 762.4 69.6 768.2 71.0 767.9 76.6 763.9 68.0 774.9 59.3 761.3 75.1 777.2 58.7 779.7 63.5 764.6 78.6 777.2 76.7 774.1 80.4 770.7 82.6 778.5 84.2 772.4 58.0 773.7 84.0 779.0 73.0 771.9 59.7 777.5 68.1 765.3 72.6 772.7 48.5 780.1 84.1 763.5 64.0 772.7 74.5 778.8 78.1 775.0 73.5 775.7 50.6 779.8 72.1 774.2 62.8 777.3 76.6 776.5 81.5 767.5 68.4 777.6 75.1 780.2 54.0 777.2 81.2 774.9 84.9 777.4 88.3 769.0 88.2 763.5 69.2 764.5 87.8 771.5 76.1 765.4 59.6 765.3 73.9 768.3 88.9 765.0 77.0 773.3 87.5 766.1 49.0 770.5 93.0 766.3 91.1 766.3 67.6 779.3 92.4 764.4 55.2 779.9 64.8 772.3 56.5 769.1 81.3 764.6 90.5 767.6 51.3 773.9 76.6 779.8 59.3 768.2 81.3 779.0 75.1 764.1 49.0 779.8 64.1 776.0 79.6 779.4 59.2 762.6 79.1 761.8 52.7 763.0 83.4 776.8 47.4 764.4 87.4 774.1 71.8 775.0 83.4 767.2 73.7 779.0 67.2 780.5 71.5 762.5 57.5 773.7 63.2 765.2 52.2 772.3 59.0 778.8 77.1 771.4 70.3 777.3 70.1 779.1 68.2 780.3 87.3 772.8 82.0 775.6 59.9 774.1 77.4 761.9 94.2 764.5 61.8 766.9 76.5 775.9 79.6 766.0 80.0 767.1 73.6 770.4 77.8 776.0 63.9 776.6 87.3 772.5 66.3 763.4 76.4 771.6 80.4 767.4 93.1 763.2 77.8 768.5 69.1 777.5 63.6 774.4 70.8 762.7 59.5 779.7 73.3 776.3 78.1 764.0 59.0 764.7 49.3 766.4 88.7 767.0 61.5 773.4 74.1 779.4 90.6 768.3 82.6 779.2 75.9 765.1 63.7 780.2 95.4 761.2 74.9 777.4 51.7 769.3 78.3 779.4 57.2 761.6 83.7 780.3 50.1 767.3 85.3 764.2 54.8 774.9 68.5 780.5 62.7 779.9 80.3 779.4 62.4 766.0 94.0 763.2 50.9 768.3 80.7 769.1 51.3 776.7 79.0 776.3 91.4 761.6 55.9 762.1 85.6 772.1 70.5 765.2 63.9 766.6 86.3 775.2 64.2 776.7 59.1 766.1 66.3 761.9 93.6 761.5 88.1 773.7 69.3 774.4 71.0 779.3 90.7 761.4 47.2 774.7 87.1 764.1 86.1 775.8 70.1 762.0 68.3 771.1 93.8 764.4 67.7 769.0 67.4 765.7 66.7 778.9 75.6 773.7 63.6 763.6 82.6 762.9 66.7 766.8 83.6 769.0 67.1 779.7 93.5 762.6 74.4 767.8 75.2 776.0 61.4 768.6 76.3 767.3 80.3 765.9 55.8 778.8 74.8 766.5 58.3 768.4 67.9 777.3 89.8 762.8 65.1 778.6 48.4 776.1 75.0 764.0 70.1 769.2 85.8 774.1 80.8 765.0 83.9 768.0 63.0 778.3 83.3 776.1 88.0 764.9 52.8 764.9 73.3 779.2 87.4 770.5 79.3 766.8 58.5 779.4 73.9 772.5 76.1 762.4 63.3 766.4 78.8 767.6 79.9 775.0 77.7 775.4 52.0 777.2 50.1 772.8 82.2 773.6 75.0 775.1 54.9 765.8 70.9 771.0 58.2 761.9 60.7 762.1 93.1 764.6 81.3 768.3 75.0 767.1 80.8 765.6 81.6 765.9 69.3 774.0 50.6 773.6 49.5 775.8 94.4 762.7 90.2 763.1 80.6 772.0 52.7 772.8 84.9 761.7 69.3 767.6 68.7 761.9 81.7 768.3 47.3 770.6 71.7 766.1 62.1 763.4 71.1 764.2 67.7 770.8 91.8 762.3 86.4 770.8 85.0 765.0 83.2 770.4 73.7 764.4 77.6 780.6 52.6 778.9 74.3 772.2 75.2 773.5 54.2 762.0 59.8 761.2 74.3 778.0 89.6 764.4 66.4 770.7 78.1 773.5 76.9 765.6 65.7 780.5 77.8 774.2 80.2 775.7 71.8 774.8 76.8 772.5 57.5 771.0 55.9 770.4 86.3 766.3 60.1 764.5 71.7 761.9 88.6 767.6 54.4 775.6 79.1 769.4 59.7 772.1 81.7 774.2 80.6 776.2 82.7 770.2 68.2 779.3 73.2 770.1 56.0 772.6 78.5 775.3 50.6 761.7 89.3 769.4 55.5 779.4 70.3 766.9 72.2 778.0 80.3 772.8 60.7 776.5 84.6 770.1 72.0 776.0 70.8 777.9 63.8 777.9 91.2 768.7 63.4 779.3 59.8 770.4 91.4 765.7 69.8 780.4 66.0 772.2 79.7 777.7 79.9 778.0 84.1 762.1 95.1 763.5 73.1 778.7 72.9 779.3 81.1 761.3 86.9 762.3 67.5 771.5 56.8 767.0 64.0 773.2 86.5 764.1 57.4 774.5 47.3 776.6 81.6 777.8 91.5 768.4 86.5 769.8 88.0 763.1 76.4 777.8 75.8 765.0 81.7 762.3 83.8 766.1 61.5 778.4 56.6 777.6 73.7 774.1 94.1 765.9 65.0 777.8 67.0 771.9 52.7 779.8 47.7 767.4 53.6 778.7 77.5 765.2 52.7 776.9 56.4 767.0 62.6 770.4 49.7 769.8 83.5 775.3 55.0 772.5 70.4 765.3 90.0 769.6 54.1 777.9 52.4 761.5 72.4 779.8 75.9 763.1 61.3 765.2 66.3 765.3 64.1 762.0 65.5 768.0 75.6 780.5 79.4 779.4 72.5 767.6 86.6 772.8 80.9 763.8 82.4 774.7 61.2 761.8 89.4 771.5 73.4 777.1 68.4 762.4 58.6 777.6 52.8 769.1 49.2 762.3 63.1 769.8 69.9 776.5 49.4 775.0 47.8 774.5 49.0 776.7 59.8 779.9 79.2 766.0 54.0 780.4 87.3 769.5 77.2 768.0 49.9 769.3 56.7 771.3 73.7 765.5 89.3 769.5 95.8 763.2 81.6 769.2 91.5 763.6 53.2 763.8 73.0 766.9 58.4 771.2 75.6 766.5 91.8 768.1 51.3 764.7 60.2 779.0 55.1 778.1 64.4 766.4 62.8 779.2 82.6 780.0 62.6 774.3 54.6 779.6 57.1 778.7 57.3 776.7 60.5 777.8 70.9 773.4 47.9 766.1 87.6 767.8 50.1 768.9 85.9 777.0 73.9 762.2 79.5 764.8 66.4 769.5 59.1 768.7 77.7 764.6 62.9 775.9 78.7 765.0 86.5 768.0 69.8 775.2 64.9 775.0 72.6 777.3 71.6 770.0 53.5 761.8 90.9 765.3 53.1 777.4 66.6 775.2 78.5 777.4 86.7 766.4 68.3 774.5 60.2 769.6 79.8 774.5 90.1 761.5 71.9 769.1 83.2 777.9 82.5 765.5 85.3 775.0 57.3 771.8 85.7 775.0 81.7 771.1 85.9 774.7 92.8 762.0 75.0 776.6 60.8 775.1 61.4 772.7 60.8 769.3 56.7 773.5 70.9 767.5 51.4 775.5 59.1 776.0 87.9 768.5 49.2 772.6 54.0 764.5 77.9 780.4 78.7 770.1 68.7 773.8 81.7 776.5 59.5 763.7 46.9 776.4 87.1 765.3 80.2 764.0 66.7 761.8 51.1 777.6 60.7 779.0 63.9 768.1 50.0 777.6 51.3 778.6 77.4 768.5 74.0 780.6 79.9 769.2 82.0 776.9 76.3 774.9 79.5 761.3 77.4 771.7 85.7 776.7 56.3 773.3 78.3 768.0 54.5 766.1 59.5 763.0 84.6 775.8 65.2 776.0 72.9 772.8 48.2 773.4 73.2 773.4 79.3 769.7 69.0 780.5 64.6 766.3 77.6 778.4 68.6 764.0 70.9 775.7 85.1 763.0 54.1 771.3 82.4 772.6 65.0 778.4 74.2 775.0 77.2 762.8 87.7 762.4 48.6 775.7 53.4 762.7 59.1 780.3 58.6 766.7 73.5 780.1 53.4 772.3 52.1 772.6 71.7 772.2 51.5 762.3 81.1 773.8 61.0 780.3 60.4 778.5 77.4 766.1 84.6 778.1 59.4 779.5 57.7 776.8 68.3 761.6 81.6 772.0 83.4 777.7 55.9 767.8 48.6 773.3 66.0 761.3 83.3 767.0 78.8 770.2 86.7 761.2 93.4 764.1 48.2 766.6 82.6 772.8 67.7 780.5 80.1 765.5 83.5 771.1 64.6 767.6 53.5 769.6 69.3 765.0 60.9 773.8 66.5 779.2 79.8 761.6 95.1 761.9 62.8 764.5 75.4 771.5 70.8 771.9 58.4 771.7 76.1 763.5 89.3 770.9 48.6 775.0 76.7 761.7 75.9 767.6 95.1 761.9 76.6 766.5 59.5 767.1 76.1 779.5 64.1 778.2 57.2 764.5 53.2 767.3 52.0 777.5 75.1 762.0 64.0 768.6 83.4 766.3 54.7 777.7 73.9 775.2 62.6 762.8 73.5 764.3 71.7 762.9 74.6 770.5 62.2 778.9 69.9 780.1 60.0 773.1 82.6 768.6 54.2 763.9 74.5 763.0 80.5 762.8 65.6 761.6 91.3 769.1 92.6 768.4 60.8 777.0 73.3 762.7 83.9 770.2 80.4 779.9 86.8 773.9 67.7 766.5 62.3 776.7 65.5 765.5 88.2 772.2 65.9 778.1 81.8 763.4 66.6 774.0 76.2 766.0 58.5 763.3 52.2 775.1 63.7 780.5 94.7 763.6 75.5 777.4 67.7 766.6 83.6 780.1 52.5 775.4 90.9 764.1 84.7 767.8 51.7 763.3 88.8 765.9 46.7 770.9 51.9 776.6 53.9 762.9 77.1 775.5 73.1 777.3 59.0 768.0 64.4 779.0 92.6 765.8 50.7 773.2 77.2 770.6 53.1 771.2 69.6 779.2 58.4 779.1 48.7 773.8 72.5 780.5 77.6 777.0 62.3 773.5 56.0 768.4 90.1 770.6 58.4 777.3 61.0 765.9 67.1 765.2 60.3 767.7 60.7 767.2 52.3 764.3 85.5 769.2 69.7 777.2 49.1 767.3 78.1 769.6 60.8 765.7 63.1 766.4 75.8 779.3 94.4 761.6 58.8 772.8 69.0 769.5 69.6 768.8 86.6 765.8 97.5 761.8 85.9 771.8 66.3 777.5 77.6 774.1 58.7 772.0 62.3 761.9 57.9 770.7 92.0 766.4 59.6 776.1 78.0 770.1 62.0 779.5 72.4 766.0 60.1 777.9 51.2 778.3 67.2 764.2 63.9 771.4 67.9 774.5 66.7 765.7 56.1 771.7 72.4 775.8 50.7 770.9 49.5 780.2 73.1 778.2 54.7 778.5 87.4 767.2 80.1 766.9 69.9 775.9 62.2 773.1 70.1 773.9 95.7 762.2 51.6 770.0 75.6 770.2 89.2 768.8 53.7 779.8 78.2 772.9 81.8 765.3 66.0 768.0 69.5 771.4 70.9 777.0 48.5 778.9 79.8 776.8 89.1 772.1 88.4 772.6 87.0 765.8 90.5 765.5 76.2 770.1 75.0 771.5 76.3 774.6 54.8 770.8 83.6 768.4 64.9 762.1 74.1 764.7 62.2 768.2 51.1 764.1 84.3 767.0 78.5 772.4 75.6 776.8 61.5 767.8 81.4 766.8 67.4 766.3 85.9 773.7 80.4 769.0 61.8 776.6 91.9 762.5 56.0 780.0 58.7 769.7 47.6 766.7 78.8 776.1 51.1 780.0 58.8 780.6 82.9 766.9 60.0 780.4 51.2 765.1 49.4 779.6 54.5 772.2 48.4 771.2 62.3 773.8 58.2 763.9 89.2 767.6 79.9 773.1 52.4 778.3 52.6 761.2 75.1 773.7 70.3 771.5 68.7 772.7 71.3 778.5 84.8 766.6 60.1 767.6 59.1 767.5 83.0 780.5 84.9 776.4 79.2 774.1 79.7 775.6 68.4 773.1 84.8 772.9 64.9 780.4 82.2 763.8 52.3 762.0 67.3 768.7 82.0 775.3 77.0 762.9 74.4 769.0 91.3 767.1 58.5 767.0 83.4 761.6 70.0 767.9 57.7 778.5 49.8 770.8 79.6 762.7 55.6 778.1 70.3 779.6 64.9 779.7 64.1 779.3 82.1 777.4 52.6 765.6 69.0 766.4 55.5 769.8 65.6 773.7 89.4 765.3 60.5 772.6 73.3 767.4 75.4 765.8 51.2 769.6 84.7 768.8 64.4 775.2 58.5 769.1 59.4 764.2 69.8 770.7 49.6 777.9 46.9 777.2 49.9 770.2 70.7 766.9 60.9 774.1 85.1 777.8 50.3 772.5 67.5 776.3 96.8 762.2 63.2 771.3 68.3 776.4 62.3 766.7 75.5 762.9 64.9 763.9 85.1 769.2 85.7 763.0 86.3 762.2 61.0 762.3 76.0 777.1 56.3 772.0 69.1 775.9 56.3 771.2 71.2 778.5 50.2 770.4 66.5 776.8 52.4 768.1 74.7 769.5 83.8 762.4 74.8 762.6 74.1 770.9 75.5 775.5 83.8 775.9 57.5 765.2 68.0 763.2 89.2 767.8 72.4 764.3 62.0 767.9 64.8 765.7 92.7 762.5 67.7 772.9 58.5 766.0 71.3 771.2 70.6 763.6 86.0 762.2 47.7 765.9 57.1 768.8 64.3 780.3 84.1 765.8 58.3 766.4 75.0 767.8 50.6 766.7 72.8 770.3 48.0 767.8 66.7 768.4 83.9 769.6 75.2 778.2 51.6 778.4 66.0 765.6 69.6 763.1 60.0 776.2 83.7 777.6 73.8 767.5 52.1 771.4 51.4 767.8 70.0 773.1 76.9 769.6 87.8 774.7 67.2 761.4 82.7 764.2 64.1 771.9 85.9 763.9 53.9 769.7 51.9 774.8 65.3 763.2 79.9 779.1 59.7 775.1 52.2 778.7 53.6 774.7 76.3 771.1 78.7 780.5 64.0 763.8 85.6 764.3 63.0 762.0 61.4 776.7 68.6 764.4 90.9 770.6 61.7 775.9 57.4 780.3 82.5 776.4 88.2 767.5 56.6 766.4 63.2 773.7 50.8 770.7 65.6 770.6 80.7 773.0 54.8 773.6 64.2 764.6 60.6 772.1 75.7 776.1 54.2 772.2 96.3 762.6 53.8 768.2 68.9 778.6 88.3 771.6 71.1 780.4 91.1 761.9 68.0 769.9 73.7 774.6 68.8 779.6 47.4 764.8 64.0 769.5 72.6 773.9 75.8 777.9 69.0 768.0 83.0 767.5 73.4 765.4 57.7 779.7 87.5 763.5 75.8 778.8 59.5 766.8 74.6 779.5 72.3 768.3 88.7 769.8 47.0 766.7 77.3 778.8 72.7 763.0 90.8 762.3 76.8 774.6 76.5 761.6 60.0 768.7 54.3 766.7 67.8 767.8 70.9 776.6 72.8 764.0 54.3 776.3 77.1 773.3 69.8 777.8 70.7 761.4 81.8 772.9 59.8 765.0 49.9 779.0 70.8 766.1 56.7 778.1 90.6 768.7 60.5 764.7 54.1 776.6 61.6 770.1 55.0 769.0 53.8 768.8 88.7 772.6 86.3 764.8 84.7 776.7 63.3 777.6 86.4 763.9 53.7 775.9 82.5 761.9 67.3 762.2 65.1 764.7 61.0 771.2 70.1 776.8 73.4 769.2 52.5 762.7 74.8 770.4 71.9 777.1 76.3 768.1 62.0 771.8 62.8 762.9 63.6 771.1 60.1 777.2 75.6 761.6 81.1 775.8 87.5 775.3 61.3 775.3 84.5 773.2 73.3 774.7 71.6 777.2 76.9 767.3 49.0 773.9 72.2 778.8 70.9 763.1 72.8 775.3 81.9 763.8 81.1 776.5 86.7 775.4 94.6 764.4 63.7 762.2 69.4 778.3 72.6 770.8 50.2 775.7 92.4 761.3 71.7 768.2 49.6 761.9 68.2 775.9 52.3 763.1 84.2 770.7 60.5 768.2 90.1 768.5 78.2 765.4 66.8 764.3 50.8 767.0 79.0 780.5 65.4 780.6 52.1 765.6 68.6 768.2 47.5 780.1 84.6 766.0 53.5 778.3 56.9 769.1 79.2 771.6 58.7 762.2 55.4 776.7 95.2 763.3 69.0 764.7 56.8 772.7 88.4 768.6 49.2 768.8 89.5 770.5 80.8 778.0 49.7 764.6 66.5 776.6 59.3 776.2 65.4 773.0 66.6 770.6 62.3 765.7 76.6 778.6 77.3 769.5 61.9 774.8 49.2 771.7 85.0 762.4 70.3 778.1 57.1 763.2 70.4 773.5 86.5 773.9 64.6 776.6 85.7 776.0 52.3 771.0 48.9 764.3 66.8 773.7 62.1 768.7 66.7 762.9 51.7 776.0 69.9 762.1 73.2 768.2 53.8 775.3 85.7 767.1 69.9 769.1 67.2 763.9 47.8 771.5 50.3 780.3 77.9 769.0 60.5 779.8 73.9 764.0 74.6 780.0 50.3 777.3 67.0 777.1 92.7 767.3 90.5 764.6 49.2 761.5 87.9 769.7 70.5 770.7 84.0 778.2 80.2 774.5 48.4 767.3 84.9 767.9 66.3 772.2 68.1 776.4 72.4 774.6 55.9 775.8 78.5 762.1 53.6 779.8 49.5 772.1 94.1 765.0 58.0 767.5 71.0 762.1 85.5 777.1 69.3 772.7 81.8 778.0 73.7 761.4 48.3 762.5 65.3 773.3 54.8 764.5 48.2 799.5 60.4 799.8 50.2 801.6 71.1 787.1 70.7 791.6 64.4 791.7 68.8 793.9 67.1 783.0 62.4 794.6 65.2 792.7 70.5 788.4 51.5 783.7 65.7 785.1 50.5 784.6 56.9 798.5 54.9 783.4 62.9 785.8 61.8 795.6 70.7 786.1 69.3 783.2 47.7 787.4 50.3 787.5 47.3 785.5 65.3 784.7 54.8 786.6 70.0 800.6 51.0 798.0 69.7 799.7 64.4 800.8 61.5 791.2 70.6 783.8 52.0 782.6 67.1 801.4 69.6 788.6 60.5 799.3 63.8 785.0 51.2 801.5 57.6 800.1 60.4 795.7 53.2 802.0 47.2 789.0 69.8 798.0 67.6 787.8 55.6 783.3 59.3 792.8 60.9 792.8 73.0 782.4 59.7 795.9 67.5 788.0 48.3 801.9 60.3 796.2 71.2 787.8 65.9 801.2 71.4 785.1 50.1 784.0 66.9 787.0 53.1 786.0 69.2 790.3 67.2 786.1 55.2 792.8 60.4 794.0 58.0 788.2 70.6 792.9 59.6 795.9 47.9 796.9 59.3 793.4 46.7 794.5 49.4 787.2 58.8 786.6 58.0 786.3 47.8 785.4 54.2 794.9 52.8 794.8 53.3 785.5 56.5 798.5 47.1 788.2 47.0 791.7 51.8 788.9 64.9 788.3 71.2 788.8 64.7 797.4 47.8 801.6 68.9 783.2 68.5 784.3 68.0 792.1 65.1 789.0 51.9 800.3 58.3 793.0 57.1 790.4 59.0 797.8 72.7 783.1 63.9 785.3 66.0 798.6 47.0 785.8 65.1 786.0 52.0 794.5 57.9 795.5 59.1 798.9 53.9 790.0 63.1 792.0 67.9 800.1 52.8 786.3 68.4 795.8 47.4 796.9 64.0 789.4 54.0 798.4 60.0 784.1 54.9 789.3 48.1 786.5 49.9 795.3 71.7 793.6 55.9 797.1 70.0 797.1 58.9 793.9 70.5 786.5 57.1 792.1 73.4 785.6 57.2 799.9 52.1 796.4 50.0 801.4 47.9 784.0 48.5 800.9 63.5 791.4 55.1 788.8 67.8 798.1 51.1 782.7 72.2 782.7 50.4 797.4 52.2 799.3 52.4 791.9 56.4 790.1 67.1 789.9 47.9 783.2 52.1 786.9 47.4 795.9 48.9 793.2 59.7 782.8 68.5 792.6 53.2 801.9 49.0 783.9 52.3 796.6 71.8 785.8 48.4 790.0 69.3 787.3 66.9 785.6 62.6 789.3 53.6 795.6 64.0 792.3 49.5 796.6 60.5 793.0 70.5 793.7 60.6 796.4 67.7 795.9 60.1 798.3 48.2 790.5 60.6 800.3 52.9 797.2 61.4 798.7 73.1 788.1 61.0 796.6 66.3 800.1 55.1 785.8 46.6 793.4 47.3 786.2 46.7 795.7 51.1 795.2 52.6 791.0 53.4 800.7 63.9 782.7 64.2 799.5 67.1 784.0 65.8 789.0 69.1 787.0 63.7 797.9 58.1 784.4 56.3 791.5 48.0 793.9 46.6 798.3 67.2 798.7 49.8 785.0 70.1 782.9 55.7 793.8 47.6 787.8 68.2 788.3 72.2 792.6 59.7 791.1 69.8 795.2 59.1 787.3 52.3 793.8 55.9 792.1 62.0 798.5 70.9 782.8 65.8 800.6 59.8 789.0 57.2 795.3 60.1 782.7 68.7 801.4 54.7 796.7 47.6 795.4 55.9 789.4 62.8 790.4 68.3 788.0 72.1 785.0 62.3 801.7 67.3 791.0 66.7 794.2 67.5 788.4 61.2 791.7 70.2 795.2 67.5 802.0 46.5 795.9 48.9 793.3 71.5 795.4 49.5 789.2 69.2 795.5 48.3 785.2 59.2 794.9 55.5 793.5 52.9 793.5 52.1 784.2 48.2 790.1 62.9 783.2 53.5 798.2 68.9 801.2 70.4 785.1 65.4 789.6 66.7 788.5 48.3 794.3 71.1 794.4 59.8 799.0 58.9 799.3 63.5 789.7 50.4 795.3 56.9 801.5 48.8 798.7 68.8 798.7 57.9 798.3 73.1 784.1 60.9 790.6 66.2 787.4 65.6 800.0 64.3 788.4 57.6 785.0 53.3 782.4 62.1 790.1 48.9 783.0 54.6 799.5 70.4 787.8 50.6 795.1 69.1 800.5 49.2 799.3 70.7 788.7 64.7 795.9 73.2 783.3 70.4 799.7 59.8 786.0 53.6 792.6 69.3 796.3 53.4 797.1 60.1 794.8 49.3 797.6 56.9 797.8 49.5 782.9 57.1 793.7 70.2 789.8 70.5 795.5 65.8 783.6 56.1 798.3 67.8 801.2 49.8 800.9 48.9 789.7 56.2 790.7 47.5 801.7 65.2 783.3 50.5 787.7 61.2 783.4 63.1 798.6 67.2 786.6 58.8 783.2 59.5 800.9 58.0 797.6 48.3 784.2 69.5 800.2 71.5 786.1 47.8 798.0 46.6 789.4 56.0 788.4 59.7 787.0 57.2 801.0 54.2 792.5 60.9 799.6 55.3 799.6 55.5 798.9 47.0 799.2 62.0 783.6 67.5 797.1 57.9 792.5 54.1 801.0 62.1 797.8 69.5 789.7 50.2 788.3 70.1 782.7 56.1 785.6 54.8 792.9 68.0 787.1 48.0 797.2 49.0 785.0 59.9 797.3 61.4 782.5 59.3 801.8 66.6 786.3 69.0 792.2 56.3 785.9 54.0 791.8 69.2 785.6 52.1 788.1 69.3 789.4 66.7 799.8 63.2 783.7 48.6 791.8 64.9 788.1 58.7 788.9 50.4 794.3 48.5 791.7 52.8 782.8 49.0 792.4 66.3 801.9 71.2 790.7 72.9 788.4 59.9 794.3 59.4 800.5 47.6 786.4 65.5 794.5 61.0 785.5 66.2 786.7 68.1 785.6 65.1 785.9 46.6 796.9 59.9 789.7 67.6 792.9 59.4 788.8 60.1 782.3 46.8 792.7 58.6 794.8 60.5 789.7 49.5 789.1 55.8 787.3 65.1 798.8 65.7 793.8 61.8 784.7 54.8 786.0 47.5 797.9 58.2 800.6 58.0 801.0 60.0 783.3 65.5 793.7 53.9 788.8 69.4 799.5 65.0 789.5 53.8 783.9 50.7 802.1 64.4 783.5 58.3 795.9 60.9 794.2 49.3 783.5 68.0 794.5 57.1 782.7 52.9 801.5 72.3 789.0 71.7 792.0 58.6 801.7 56.5 795.7 52.8 792.6 55.5 785.3 53.9 784.1 67.3 799.2 54.0 782.6 49.5 800.7 69.8 796.4 68.9 784.1 51.1 790.0 62.3 784.3 46.5 801.1 70.1 790.1 70.4 793.8 50.9 800.0 54.3 794.0 53.6 787.4 50.5 790.6 63.7 790.3 55.0 796.6 46.5 792.0 51.3 793.3 63.9 784.1 65.0 784.7 59.9 792.1 61.7 796.3 62.4 790.9 61.7 799.5 67.6 783.0 66.5 801.9 56.6 796.2 47.7 783.3 62.1 796.0 54.2 794.4 55.6 786.5 58.2 795.0 59.3 798.8 63.9 794.4 64.1 784.4 51.7 791.4 67.8 783.8 47.9 784.9 47.1 794.0 53.9 791.2 60.9 788.6 54.0 785.3 57.4 785.9 68.0 795.9 71.0 787.5 47.2 794.6 71.9 786.7 57.7 801.8 66.0 785.3 50.3 799.2 55.1 797.1 68.5 795.9 59.0 791.9 70.9 784.2 72.7 790.2 71.2 783.1 50.2 800.4 51.1 789.0 49.5 787.7 61.0 802.0 52.2 795.4 61.3 800.2 53.1 796.6 57.7 798.6 68.2 801.2 48.8 792.7 51.1 792.5 65.1 798.0 51.2 786.4 65.8 799.9 56.3 786.8 71.0 789.1 54.5 799.0 58.1 794.6 48.6 794.5 52.7 793.1 56.5 788.7 67.6 801.8 53.5 794.8 66.1 801.4 59.7 797.2 59.3 783.8 46.7 784.6 54.2 800.6 49.2 801.6 51.5 794.2 66.6 793.8 65.1 790.3 60.9 786.6 71.2 786.5 62.2 788.7 57.0 784.7 53.8 801.6 51.7 793.2 67.0 784.6 63.4 799.9 62.2 785.0 71.1 785.1 56.4 783.4 58.4 797.0 70.7 798.2 63.2 797.3 63.1 801.7 58.4 783.7 55.4 798.0 70.9 789.6 56.8 796.5 49.1 791.4 66.0 793.5 51.0 787.8 61.0 796.4 66.4 799.4 60.9 801.8 62.1 785.4 59.4 787.6 55.9 800.5 72.5 784.9 54.2 798.3 49.6 791.4 56.3 782.6 47.4 792.1 68.5 799.5 54.6 790.1 70.4 793.3 49.1 800.7 63.7 785.9 64.0 783.0 64.1 798.2 46.9 783.0 53.6 787.5 68.6 788.9 67.9 795.3 55.9 799.9 65.4 801.3 59.0 784.9 68.0 789.7 55.6 801.7 53.5 794.4 54.4 793.7 55.4 795.8 47.9 792.9 60.4 795.3 63.3 799.3 51.8 795.1 47.2 784.8 63.8 795.0 61.6 788.4 52.0 799.9 63.0 788.3 51.5 796.3 54.2 783.2 56.7 801.8 64.6 786.5 54.6 798.7 47.7 782.3 71.9 794.1 47.2 801.3 61.7 797.8 55.7 783.6 60.3 800.5 50.4 800.0 71.9 789.9 70.0 791.7 55.1 798.9 50.7 786.1 55.0 786.8 47.6 790.9 56.6 791.9 69.7 793.9 57.3 790.9 51.7 784.4 52.5 795.2 50.3 793.4 63.7 797.2 68.7 787.2 71.0 794.3 50.3 791.4 65.3 800.1 61.0 794.9 61.3 795.4 50.8 785.7 65.3 787.1 69.6 784.4 46.9 783.9 64.6 798.6 54.4 784.3 64.7 798.9 49.5 796.7 55.5 799.3 65.0 783.0 62.6 783.6 65.5 802.1 46.5 789.5 53.3 783.8 65.0 791.4 68.2 790.5 53.6 791.1 63.2 790.6 47.5 788.6 48.6 800.5 54.9 802.0 52.9 800.8 66.0 795.9 71.9 790.2 65.9 782.5 50.6 798.3 51.0 794.3 46.6 794.8 64.9 800.6 52.3 798.1 54.8 801.6 51.7 801.9 56.3 789.9 50.3 792.6 69.3 795.0 66.3 789.4 67.1 795.6 52.7 798.4 65.8 797.0 46.8 797.4 60.5 791.8 68.2 794.7 69.1 798.1 57.3 783.5 61.2 786.6 71.9 791.4 48.2 788.5 52.0 783.3 59.0 787.8 58.7 785.8 51.9 782.8 56.5 799.3 48.4 795.0 49.3 795.1 51.5 800.9 57.3 785.3 60.8 784.9 48.4 784.8 65.4 797.3 64.2 795.9 64.4 785.8 47.3 784.2 51.3 791.2 61.4 788.0 65.4 795.4 60.3 798.2 66.3 800.8 55.9 784.3 57.8 784.3 69.8 793.1 48.5 783.6 67.2 800.4 46.6 785.2 69.9 782.7 48.2 788.0 48.7 782.3 59.8 799.5 66.4 801.8 66.8 790.4 48.3 794.1 48.3 800.4 69.2 784.6 46.9 798.8 65.9 792.0 53.6 790.6 57.8 793.3 58.9 788.4 49.8 798.4 46.6 782.6 58.3 801.7 48.5 789.4 51.8 799.4 68.5 792.2 63.3 789.1 66.6 784.4 56.9 784.2 57.4 797.9 69.5 792.3 51.9 787.4 65.7 785.4 54.5 788.1 58.3 786.5 64.2 786.7 50.1 790.9 51.1 799.5 55.7 794.2 71.3 796.7 66.3 794.8 62.6 799.4 51.3 798.9 55.4 784.4 65.8 796.5 49.9 794.7 64.4 795.0 70.5 796.8 49.3 796.5 64.5 793.8 68.5 782.4 64.7 801.7 51.3 791.7 47.9 802.1 49.9 787.6 52.2 790.8 56.7 793.0 51.6 792.7 49.6 783.9 70.9 795.2 64.1 800.4 64.0 795.4 65.1 790.8 51.5 787.7 62.0 789.0 70.6 800.4 55.4 794.4 58.0 799.9 50.6 790.4 63.6 801.2 56.5 799.7 63.1 786.7 49.3 800.8 67.7 797.3 60.8 788.9 58.4 794.1 59.2 794.0 48.5 786.7 46.6 801.5 51.5 790.7 65.4 800.7 59.1 790.9 53.6 797.7 58.0 791.4 57.3 788.0 59.0 783.4 47.5 789.4 60.4 790.1 52.5 801.1 55.9 787.8 69.3 796.7 61.8 793.7 53.0 789.8 71.0 796.6 69.9 784.8 81.2 793.5 71.4 791.4 69.8 792.8 79.1 799.1 89.1 782.6 75.0 797.5 90.8 797.7 82.7 799.9 68.6 783.1 90.1 783.6 69.4 789.2 78.6 790.4 90.3 794.6 72.4 790.8 69.1 788.1 75.3 788.4 79.0 788.6 77.3 786.4 75.6 795.6 90.2 796.8 73.0 798.1 80.6 784.8 76.7 792.3 85.0 802.1 79.8 790.0 92.2 784.7 80.7 783.6 75.0 784.6 87.5 798.5 73.9 791.7 89.9 787.8 75.5 789.1 90.5 794.9 69.9 801.3 85.1 784.1 75.6 786.4 71.1 784.6 79.4 794.3 68.9 797.1 87.2 788.9 77.6 788.6 73.2 801.4 71.2 784.3 76.0 795.0 70.7 798.5 75.2 790.4 88.4 795.1 87.8 791.3 90.2 798.1 87.3 790.4 82.5 798.0 71.4 789.9 75.3 797.8 89.8 782.4 86.2 797.2 90.2 799.9 76.8 796.6 70.5 790.6 78.0 793.1 82.4 790.6 81.7 796.0 87.6 789.3 86.3 790.7 90.5 792.5 83.5 792.7 78.5 786.4 82.7 796.3 89.1 795.5 69.1 783.7 87.6 782.8 80.9 800.9 74.6 783.4 78.1 800.9 83.9 790.4 78.3 799.6 79.0 796.0 82.8 792.4 69.3 790.8 69.5 801.6 69.1 782.0 85.7 795.0 69.7 787.5 74.1 783.4 81.3 782.4 71.7 798.4 89.4 784.1 89.4 791.8 99.6 731.0 124.8 721.7 137.0 704.9 166.5 681.8 126.1 714.2 109.1 735.4 121.1 712.1 123.9 723.1 128.9 711.1 90.8 743.4 146.5 701.2 116.3 721.3 103.5 740.6 95.5 756.5 76.4 752.5 131.7 708.7 95.7 749.9 147.3 698.8 94.0 751.5 97.7 747.8 142.2 704.1 99.6 750.3 163.7 685.8 123.8 730.5 157.3 688.6 82.6 762.1 74.3 766.7 75.3 761.1 152.8 689.3 106.9 734.8 137.8 720.6 113.6 731.6 157.8 680.2 134.1 701.9 113.3 733.6 82.8 756.7 106.9 750.4 101.0 754.9 94.9 742.0 135.7 714.5 146.3 696.4 146.8 700.7 82.2 757.1 87.4 751.3 133.2 722.4 133.1 710.0 149.1 709.7 153.3 690.3 97.5 744.5 72.4 759.5 104.7 754.5 87.8 759.7 134.4 711.3 104.4 727.3 124.3 710.9 153.4 691.9 118.7 731.0 155.0 695.1 140.7 700.6 112.8 725.5 117.8 727.3 106.5 731.3 102.3 739.6 131.7 714.4 119.7 720.6 97.2 747.9 126.5 718.4 118.4 731.3 82.6 759.7 138.5 714.4 104.2 730.9 157.3 698.3 158.8 693.2 89.1 744.2 127.0 711.2 92.4 758.5 144.0 704.2 125.5 716.1 164.4 688.1 102.4 734.8 132.5 728.3 125.4 723.1 130.5 727.4 160.8 680.3 95.7 749.5 86.3 746.4 141.0 704.7 85.2 753.6 115.4 727.4 158.9 682.2 151.4 697.2 130.4 728.9 71.9 767.8 162.0 689.1 101.4 732.7 84.4 747.5 77.9 757.0 112.0 730.3 103.9 733.8 91.7 748.7 149.7 701.5 101.7 743.0 146.0 702.2 149.3 700.1 133.1 714.8 108.6 731.2 96.0 742.1 133.7 717.9 141.2 708.9 128.4 726.3 161.3 687.0 120.2 724.7 153.0 696.8 156.9 696.1 96.8 759.9 90.0 755.3 178.2 674.4 94.9 757.0 107.8 739.8 108.4 739.3 149.7 695.4 79.3 764.2 105.6 730.7 111.3 743.6 81.5 753.8 109.3 743.5 151.1 693.8 71.1 760.7 92.1 747.2 109.4 724.9 134.1 700.8 95.5 747.1 81.0 756.6 91.6 736.6 154.5 702.8 109.3 745.6 98.6 746.9 132.9 697.7 120.9 719.0 91.6 761.3 103.6 742.1 161.5 687.6 74.1 758.7 139.7 715.9 87.5 751.6 145.8 709.5 86.8 756.5 117.4 717.6 142.1 697.2 81.6 761.2 163.1 696.7 79.9 745.9 80.6 760.1 113.6 735.1 70.5 761.6 126.0 708.0 105.8 723.4 163.8 679.2 166.4 687.9 151.8 692.7 108.3 732.4 145.2 696.2 132.1 715.8 93.8 752.3 135.9 706.9 94.9 752.0 102.2 734.8 110.8 734.6 145.1 694.1 143.0 704.6 126.7 725.1 90.9 747.8 87.2 758.3 96.6 743.8 127.1 716.6 160.2 685.0 78.5 760.7 91.0 753.8 130.9 710.6 106.4 735.3 95.4 740.8 151.2 700.5 156.3 686.4 92.2 749.8 155.0 691.8 139.7 697.3 140.7 688.6 123.3 721.6 127.4 715.1 72.5 764.9 96.0 744.3 119.1 720.5 94.7 748.9 129.2 713.8 119.2 727.5 127.4 718.4 98.8 748.3 122.8 718.8 79.8 758.5 138.7 719.0 142.1 697.8 132.2 709.3 129.5 708.1 113.4 725.5 98.3 744.2 145.1 705.0 82.4 760.2 115.4 722.8 85.2 766.3 147.7 712.4 107.2 731.9 117.4 726.8 81.1 757.5 98.8 747.6 121.5 716.6 100.0 738.1 137.9 713.6 104.6 747.5 84.5 771.9 133.7 711.2 105.9 741.5 136.3 709.8 128.3 714.6 148.0 693.5 78.9 756.6 80.6 755.8 106.3 735.5 140.9 712.8 81.7 765.4 169.3 676.4 126.2 700.6 128.5 701.0 112.1 729.8 130.5 720.2 138.1 704.3 131.8 716.7 94.1 749.9 78.2 759.8 74.0 761.0 94.6 732.5 90.8 752.3 150.0 696.7 81.4 749.7 78.7 764.5 88.1 755.8 104.5 743.2 122.4 721.5 69.3 767.1 102.5 744.5 161.2 669.8 139.5 704.9 150.4 695.5 152.5 678.3 90.7 757.9 122.1 723.8 101.5 737.7 97.9 750.7 147.9 705.5 115.3 721.6 120.5 726.7 94.3 754.0 158.0 677.8 127.4 723.2 113.8 724.0 139.5 705.8 156.7 690.9 163.2 685.2 127.7 714.5 147.8 694.4 88.6 748.2 163.6 687.3 97.5 734.5 145.6 704.1 160.3 683.3 109.5 737.2 95.8 742.7 108.7 730.9 77.5 759.4 80.3 765.7 161.6 686.3 124.3 724.8 80.4 761.7 124.2 737.7 97.1 752.1 145.4 691.3 101.2 740.5 76.8 759.9 172.8 677.2 137.3 711.4 163.5 684.1 82.4 761.7 92.0 766.6 135.4 700.6 114.9 734.2 88.9 753.1 97.8 750.9 96.5 747.0 137.5 710.6 138.8 716.6 138.0 718.3 126.4 716.5 139.6 711.5 156.8 688.3 101.4 755.1 90.1 743.5 167.8 690.5 154.7 700.0 126.0 721.9 146.3 710.0 124.8 722.1 92.1 749.0 117.0 733.6 85.9 751.4 86.0 754.8 99.1 741.1 148.2 691.6 76.7 753.8 79.8 763.5 85.2 745.0 141.4 700.7 158.5 683.7 92.5 752.2 162.0 694.1 113.4 740.8 134.4 713.9 136.0 714.0 97.2 738.9 149.3 692.8 152.9 697.0 104.0 739.0 93.9 744.4 154.6 686.3 121.5 712.9 94.4 737.6 82.9 752.6 102.2 736.9 139.4 709.3 122.8 713.2 110.0 730.1 155.0 698.6 119.7 717.3 144.2 685.3 75.9 760.2 69.8 757.5 150.8 688.2 128.4 710.4 78.1 747.0 81.8 769.9 96.4 752.3 81.2 751.1 94.3 752.3 142.0 694.0 93.8 759.1 89.9 759.8 128.5 698.1 153.5 682.5 169.1 684.0 100.3 741.2 120.8 727.9 93.0 748.0 124.6 716.0 93.4 752.0 119.1 721.8 85.7 760.1 138.6 710.2 128.5 724.8 115.6 720.5 97.6 745.3 122.9 709.8 162.6 688.9 102.8 744.0 89.4 753.5 135.2 700.7 99.3 759.6 134.8 703.8 85.9 752.3 127.7 723.8 97.6 744.0 106.9 731.0 95.2 740.2 118.4 723.8 143.7 713.3 132.5 712.4 103.2 734.3 151.9 699.2 106.1 745.7 145.4 705.9 167.2 690.6 123.9 711.4 82.3 755.7 169.5 685.0 77.5 767.6 88.6 759.1 135.8 708.7 152.9 688.0 127.6 717.1 153.4 690.3 129.4 718.9 128.5 713.0 136.5 705.9 110.7 737.3 104.1 729.9 147.5 688.9 84.8 756.2 85.7 745.8 83.4 756.5 100.4 746.4 105.1 735.2 90.8 749.7 85.0 759.8 103.7 736.1 108.3 729.2 74.4 760.4 140.4 694.2 146.4 711.6 168.4 685.9 142.6 700.4 122.8 734.1 101.1 744.3 115.7 729.7 131.7 722.8 89.7 745.1 151.1 686.5 158.7 681.0 162.3 684.5 124.9 714.9 115.5 719.7 169.0 674.5 112.8 738.5 79.4 765.7 116.5 729.4 132.6 710.0 80.8 747.4 140.7 709.9 68.7 763.4 91.8 746.0 140.0 698.2 158.2 681.8 140.1 702.5 89.0 753.6 163.6 688.9 87.3 752.2 101.8 739.3 133.3 717.2 92.4 740.4 89.4 747.7 104.6 736.8 159.9 691.9 100.4 739.0 84.3 776.4 101.7 741.7 117.0 730.5 115.4 725.5 161.0 675.3 111.9 738.6 145.5 699.1 133.6 708.3 112.2 733.7 107.1 745.8 111.0 736.3 72.9 759.5 71.9 754.7 84.6 750.0 97.8 731.0 77.3 759.3 163.8 681.7 98.9 740.5 166.3 685.6 79.4 743.9 106.0 740.1 130.8 705.9 126.0 719.5 127.4 722.1 159.5 681.7 170.8 681.7 77.2 763.4 92.6 744.7 83.0 763.7 94.0 746.3 131.2 709.1 120.9 724.3 159.0 690.7 119.0 732.9 80.2 764.8 83.8 757.1 93.3 735.3 87.8 763.1 127.4 718.6 95.2 736.7 140.4 699.7 135.6 714.2 150.1 702.5 92.6 759.0 99.6 747.8 133.5 728.0 109.1 732.5 146.1 708.2 100.7 743.3 162.3 682.1 87.9 749.7 130.9 722.2 150.8 707.4 157.1 684.6 109.5 752.5 154.6 697.5 119.5 724.5 116.4 724.4 88.9 748.5 142.2 693.5 79.9 765.0 166.0 671.3 117.4 724.8 89.7 748.3 134.1 709.3 146.1 696.8 140.3 710.3 136.7 694.3 123.0 712.7 93.1 755.7 122.0 714.6 129.1 721.7 113.9 727.6 150.1 685.6 153.0 698.8 89.3 762.0 151.3 690.8 161.0 686.3 116.7 730.1 158.1 690.1 85.0 750.3 72.4 760.2 103.1 733.7 91.8 765.1 79.7 750.4 118.6 738.6 164.6 673.2 111.7 733.9 172.4 681.5 110.5 733.3 109.0 730.4 74.5 759.7 148.7 701.5 131.2 716.9 114.1 725.8 145.2 692.4 128.3 727.6 91.4 748.0 149.7 699.5 132.0 700.5 69.8 762.8 154.0 687.6 96.5 741.0 150.9 694.9 152.5 701.8 161.3 690.5 82.5 758.2 135.6 719.0 95.9 743.3 154.1 701.5 150.2 707.1 166.5 679.8 118.7 726.9 122.8 720.7 161.1 692.9 81.3 760.8 99.6 738.5 147.6 690.4 85.6 757.8 135.2 714.1 134.5 712.5 85.8 742.2 128.5 716.0 78.7 758.3 88.4 761.9 87.5 756.8 100.2 732.0 106.9 733.0 100.1 747.2 155.8 688.4 95.1 748.7 168.9 686.3 119.0 718.4 162.3 676.6 131.6 717.6 93.8 753.1 158.9 689.0 91.7 753.3 168.3 678.4 97.1 752.8 140.5 713.8 133.8 719.0 130.8 698.8 172.0 680.1 114.0 739.9 73.6 754.9 132.0 711.6 80.1 760.7 126.9 718.8 129.8 712.6 84.6 755.0 125.8 723.2 144.5 708.1 160.5 692.5 88.3 743.0 82.7 771.7 130.4 717.6 148.7 695.5 139.4 704.4 109.7 735.0 94.4 758.9 130.6 714.7 153.4 690.3 81.5 756.2 138.6 714.2 132.8 708.5 158.0 679.4 101.9 744.7 100.2 749.9 86.0 753.1 136.5 701.2 157.6 692.0 144.9 703.6 107.3 750.6 134.6 707.8 105.3 734.8 89.7 747.4 84.8 758.0 87.0 747.5 156.0 689.0 156.8 686.9 145.4 701.5 155.1 694.5 144.3 715.6 87.2 755.5 100.0 750.4 93.3 744.2 85.5 762.5 168.2 691.0 99.0 741.8 118.6 722.1 79.0 760.7 151.3 703.3 138.3 708.4 80.2 769.8 89.3 754.1 131.7 701.9 74.0 758.5 72.6 765.5 141.4 703.5 152.5 707.7 120.3 728.9 147.6 708.4 121.1 723.9 90.2 750.5 134.6 720.5 119.1 733.4 99.6 739.0 108.1 735.0 88.6 754.0 86.0 759.2 165.7 684.2 148.4 695.1 103.2 725.7 169.6 686.5 125.3 716.9 111.5 720.9 119.5 719.8 128.9 718.0 171.8 682.1 144.4 700.0 83.6 758.5 157.3 686.6 128.7 712.5 114.5 722.3 100.5 730.5 157.6 680.0 66.6 758.7 164.1 676.2 127.3 708.9 126.1 727.6 95.3 741.6 85.0 756.4 87.1 752.8 88.0 761.3 109.3 737.0 93.8 742.3 161.7 684.5 116.2 729.0 84.0 756.4 99.8 743.9 135.5 712.9 105.0 738.5 156.4 691.9 136.2 693.4 107.4 741.4 128.3 712.5 99.7 736.9 136.5 697.6 99.5 761.7 82.9 755.9 78.3 763.6 105.1 744.4 103.4 737.9 151.2 689.3 114.8 723.4 117.4 729.7 111.3 729.1 83.7 759.3 114.3 718.4 91.6 753.2 90.0 760.3 131.3 728.7 95.6 745.0 96.7 751.2 99.5 731.4 164.9 675.1 93.4 758.4 84.7 738.2 91.1 752.1 99.9 747.4 147.4 700.0 169.6 682.5 102.4 743.4 151.8 694.7 107.2 738.5 168.9 676.3 95.3 740.0 112.1 736.8 158.0 684.6 155.5 692.1 91.7 759.5 101.7 731.0 134.6 718.5 109.9 733.6 165.5 682.5 84.2 758.8 166.3 676.3 124.3 716.7 117.1 728.5 120.0 712.3 82.2 749.3 108.3 741.5 88.2 751.8 137.7 697.9 93.0 750.5 152.3 690.0 96.8 749.6 171.6 693.4 126.8 730.2 137.9 705.6 109.5 723.9 156.8 699.7 143.2 699.0 151.7 696.4 115.4 732.0 83.4 764.3 80.8 754.2 92.0 758.9 108.8 733.6 163.3 691.3 125.8 730.1 101.0 733.3 87.5 766.6 105.9 741.4 87.0 755.1 113.3 731.0 160.0 686.9 98.8 730.7 158.9 684.1 75.4 764.5 101.9 746.6 131.6 715.9 108.2 744.4 75.1 758.0 96.2 746.2 111.9 729.9 159.1 685.0 89.8 750.1 79.7 756.8 139.0 707.0 128.2 722.8 96.9 745.0 92.5 731.8 94.4 757.6 127.9 722.8 98.1 748.5 160.8 683.5 102.2 733.4 112.9 723.7 83.8 756.2 86.2 758.6 88.5 756.9 92.2 747.7 103.3 737.4 110.5 728.9 145.4 700.9 133.0 708.7 94.5 753.7 111.2 737.1 154.1 686.1 97.2 743.8 117.0 732.1 109.2 743.7 141.0 700.3 105.6 731.3 75.6 754.9 105.9 724.7 115.9 723.1 95.1 750.3 87.9 757.5 134.2 717.4 86.6 763.0 142.1 698.4 77.3 761.6 139.8 693.1 144.4 701.7 84.2 754.0 161.9 678.0 161.4 691.6 91.6 760.9 124.8 723.4 111.6 742.8 76.8 751.8 82.2 762.6 85.2 752.2 128.5 717.3 117.1 729.0 160.3 684.6 102.8 749.2 110.3 730.0 100.5 740.9 103.2 742.9 119.9 731.9 140.4 712.8 127.3 705.4 74.3 765.4 98.4 758.8 119.4 715.0 131.1 714.1 91.1 739.9 115.9 735.2 80.5 758.2 119.0 738.1 100.4 755.0 115.9 731.4 123.4 723.3 81.5 757.9 79.5 759.7 130.3 715.5 134.3 721.6 163.3 678.2 83.0 758.3 79.5 751.5 156.7 681.9 138.6 706.5 103.4 735.0 80.5 754.4 150.0 693.3 129.4 714.8 93.9 738.8 157.1 681.4 108.1 751.9 90.3 752.9 121.3 725.1 103.6 740.6 156.3 682.8 111.0 730.7 157.1 691.0 121.0 726.2 112.4 736.5 91.1 760.2 149.0 691.0 135.1 713.1 99.5 746.3 83.5 752.0 139.5 701.6 100.4 743.0 133.6 706.1 85.0 760.8 99.3 744.9 130.5 719.0 157.6 683.3 88.1 750.4 166.4 682.5 134.1 715.9 155.9 685.0 123.4 711.4 130.5 709.9 78.0 765.2 132.9 724.5 93.0 750.2 153.7 683.6 135.1 709.8 72.0 762.2 94.2 750.7 160.1 687.7 132.5 710.6 146.1 699.6 84.5 748.7 158.0 692.2 133.1 713.5 103.4 744.4 89.4 762.5 153.3 691.8 92.6 750.9 133.3 721.6 101.5 744.3 152.8 692.4 145.5 697.3 95.9 746.8 110.3 725.3 94.9 742.9 100.7 747.5 72.7 777.9 84.4 756.7 131.7 711.0 118.4 727.8 92.9 744.7 98.3 742.5 89.4 756.5 122.9 708.6 151.5 688.8 98.3 738.3 123.3 724.0 76.9 754.6 74.9 761.2 121.4 723.1 108.0 730.5 169.8 687.0 85.9 760.6 105.8 735.5 125.7 724.8 93.8 750.1 113.0 724.1 133.3 718.5 127.3 724.5 83.4 761.8 148.2 685.4 89.8 747.3 96.3 736.6 149.9 702.3 149.0 697.0 125.4 722.5 97.6 735.4 90.2 752.8 154.3 699.7 93.0 749.4 88.8 757.7 146.1 707.9 111.2 741.2 169.8 681.7 111.5 728.9 146.6 697.8 126.5 712.6 119.6 731.5 103.4 745.3 118.2 722.1 142.6 700.9 91.3 755.2 77.2 749.8 138.9 696.5 105.0 740.0 113.1 732.9 110.7 746.1 163.6 682.2 79.1 763.1 156.5 693.2 147.5 703.6 110.3 719.6 90.4 747.2 136.7 702.4 83.2 760.5 106.8 737.3 98.0 758.5 102.4 738.7 81.0 768.7 107.5 736.9 111.4 739.1 167.8 688.1 104.5 734.8 115.5 725.9 98.3 757.9 80.9 757.7 165.9 686.2 115.4 726.8 143.1 702.9 158.5 685.5 128.9 710.6 85.9 767.0 149.8 688.5 115.7 736.4 116.9 735.6 155.9 693.4 133.8 707.7 136.5 703.2 88.4 759.5 165.8 680.2 87.5 744.0 101.8 745.6 144.7 699.2 157.1 683.3 86.2 744.5 111.1 737.5 148.8 687.6 99.0 746.5 125.9 719.9 138.3 713.0 93.9 748.6 83.4 751.4 142.4 709.1 96.0 750.5 85.6 743.7 105.9 729.9 83.7 759.9 127.4 713.8 78.4 752.8 98.8 742.3 169.1 692.2 150.0 691.5 89.9 751.3 142.4 699.0 85.3 756.0 155.7 677.3 159.1 688.3 130.4 709.1 79.8 764.6 143.2 706.3 134.6 707.3 122.9 727.1 133.8 700.3 87.2 752.7 144.4 699.5 115.5 738.6 91.7 751.9 106.7 728.0 76.6 767.9 112.6 735.0 100.8 742.5 95.7 751.1 93.6 751.3 92.4 756.1 124.7 720.3 173.8 692.9 103.7 747.9 131.3 712.1 93.1 742.6 83.7 760.8 122.7 719.9 81.3 766.0 96.2 743.9 156.0 691.1 74.4 769.8 146.2 690.3 119.8 721.0 127.9 732.5 131.8 718.7 88.5 746.8 90.8 757.1 118.4 718.3 111.7 741.7 111.9 723.9 94.5 734.7 161.0 673.0 117.8 727.9 128.3 716.9 91.1 745.4 92.3 753.8 164.6 679.6 111.1 730.0 138.0 710.5 127.1 715.6 131.4 702.4 99.4 742.5 90.4 758.2 114.6 728.3 113.5 727.3 107.1 740.4 100.8 741.7 89.5 755.5 125.5 726.8 120.7 734.8 118.6 724.5 87.9 748.6 142.4 704.4 164.8 681.7 159.5 688.3 110.6 739.3 146.2 703.9 92.3 742.7 122.8 719.7 75.4 762.2 95.4 751.1 119.9 720.3 126.4 715.6 133.2 705.5 117.5 725.3 123.7 727.5 112.6 736.2 136.4 696.5 129.9 716.7 128.8 716.2 161.0 690.0 83.2 755.3 117.7 721.8 109.7 739.0 154.1 693.9 98.8 749.2 130.0 720.5 87.4 747.2 76.4 755.4 105.4 736.8 89.7 754.8 110.4 741.6 85.0 755.2 112.1 726.5 104.7 737.9 112.0 718.9 122.3 725.6 146.7 695.1 93.2 746.3 142.5 719.5 101.6 752.4 136.6 710.2 114.3 725.4 91.9 757.2 155.7 681.1 114.1 732.4 103.7 746.2 147.7 678.4 133.2 707.2 72.1 747.0 155.2 687.7 135.3 717.9 114.1 736.0 111.8 734.7 98.1 740.8 121.9 719.2 156.5 700.7 122.4 723.2 107.3 739.5 82.5 754.3 95.1 746.5 138.5 717.3 118.1 727.1 84.5 761.3 105.5 733.0 79.5 750.6 161.6 691.2 96.0 748.5 85.4 754.1 153.2 707.1 107.1 721.7 129.5 723.0 162.5 690.1 77.6 758.3 109.6 731.4 158.3 691.2 89.5 759.2 83.6 762.8 149.1 701.9 167.8 686.7 101.8 756.4 106.4 749.8 105.2 743.0 108.0 751.1 120.1 732.9 79.2 755.2 163.0 683.6 119.9 740.9 140.4 700.0 118.3 716.7 126.2 723.6 159.6 684.4 97.1 754.1 114.8 729.4 151.4 699.2 121.6 726.6 85.8 759.7 112.1 733.1 114.5 744.9 81.8 760.4 164.9 690.2 152.2 695.5 120.7 717.4 83.9 763.3 121.6 724.1 92.6 743.8 123.2 724.8 71.3 753.7 126.8 726.9 117.6 714.7 88.8 749.4 155.2 690.7 166.2 681.2 91.8 756.7 123.8 717.3 87.1 759.3 109.8 735.4 153.8 677.0 89.9 758.0 137.2 709.1 105.5 729.2 165.8 679.7 105.6 740.8 141.5 693.9 123.3 728.9 152.8 708.6 155.9 700.4 126.2 713.4 99.3 747.2 116.7 714.0 143.0 719.4 120.2 722.6 101.2 735.5 89.2 755.0 82.5 761.4 99.9 737.6 136.0 707.7 120.4 744.2 88.1 754.1 153.1 701.3 90.3 753.7 119.4 718.9 77.2 761.0 163.8 684.6 93.2 753.4 109.7 735.9 133.4 712.8 118.2 724.3 78.5 760.2 106.7 734.7 87.8 777.0 167.2 695.2 95.1 739.0 75.8 766.3 72.5 762.7 92.6 748.4 89.4 749.5 164.4 684.4 145.6 706.1 103.6 741.7 102.8 747.8 139.0 711.8 75.9 768.6 140.5 697.4 103.4 737.1 126.2 720.4 125.0 727.6 133.4 710.6 142.8 695.2 82.2 770.9 119.8 725.4 132.9 714.3 154.8 682.9 145.9 692.0 77.1 748.7 106.2 737.2 138.3 693.1 126.6 714.9 72.9 763.1 121.2 720.5 70.6 769.3 94.5 728.9 109.0 730.8 132.3 722.3 91.7 752.5 134.8 711.7 76.5 762.1 134.9 702.5 143.1 703.1 162.7 679.1 148.0 704.4 147.6 695.4 150.7 692.3 151.7 704.7 153.0 686.2 84.3 756.9 120.7 715.3 92.6 741.8 109.4 738.9 139.2 710.9 114.9 727.7 161.0 682.0 86.6 750.9 86.6 756.5 165.0 674.2 79.3 767.1 147.1 696.3 157.1 679.4 106.0 729.9 148.6 700.3 165.8 689.1 100.3 751.4 86.4 762.8 93.5 747.9 123.0 716.0 137.5 709.8 119.8 726.7 127.7 712.8 94.4 741.5 124.9 719.3 118.3 736.6 78.5 763.4 132.5 723.6 160.1 685.6 77.1 758.2 123.8 718.0 130.0 722.5 104.2 742.2 115.0 734.8 130.7 719.0 117.3 719.9 79.3 757.2 152.4 692.8 78.4 750.5 119.4 730.9 124.1 714.5 84.1 758.1 89.7 746.2 119.9 718.2 76.2 753.4 144.1 698.7 127.7 720.9 144.0 697.8 90.4 760.4 114.1 729.8 153.5 696.8 101.8 735.3 119.2 724.8 107.7 734.4 136.9 712.2 124.2 716.4 135.8 705.8 164.2 682.6 143.4 711.0 116.8 723.2 82.7 750.9 112.7 727.7 168.0 682.0 77.0 751.1 101.9 747.1 76.2 751.1 127.5 733.6 110.5 728.2 152.0 686.3 103.8 749.7 90.4 747.5 86.1 755.5 129.4 706.8 124.9 714.5 104.7 743.9 141.6 688.1 86.7 747.1 81.3 762.2 102.5 737.0 99.0 752.3 105.1 735.5 140.5 702.9 104.0 732.5 139.1 704.8 87.5 757.7 147.7 695.0 90.1 748.5 106.3 737.9 145.4 695.4 144.1 702.7 74.7 771.3 83.9 764.6 87.1 759.9 108.1 738.3 104.5 738.7 116.2 728.4 122.8 727.6 73.8 759.8 136.1 713.4 92.5 754.2 113.8 723.8 128.6 721.6 129.0 723.6 97.0 740.8 151.8 691.5 142.7 705.4 92.9 756.8 77.1 757.7 131.9 710.4 108.0 737.4 141.0 710.3 125.7 720.7 128.9 718.8 96.5 735.8 78.4 770.7 101.5 739.4 154.2 684.6 87.2 756.9 111.8 737.9 85.0 765.8 90.8 741.2 137.3 706.9 91.3 748.6 90.4 749.1 87.0 756.1 137.6 707.8 159.7 691.0 120.7 714.2 91.2 756.4 172.3 686.7 76.0 772.8 129.3 728.4 143.8 689.3 102.0 747.8 117.8 739.6 166.2 701.2 140.2 687.7 105.2 742.0 141.6 701.1 135.6 685.1 115.9 728.5 105.0 732.2 139.5 732.7 160.6 674.4 146.6 709.3 119.7 730.3 82.4 770.7 114.0 719.6 132.7 730.6 52.7 781.0 150.1 692.0 125.6 715.4 63.1 794.0 159.5 690.6 141.8 733.0 46.4 781.3 73.3 757.0 88.0 782.5 109.7 709.1 156.4 721.4 131.0 738.5 126.3 725.4 56.0 753.4 94.9 771.6 101.0 736.6 167.0 660.4 100.5 749.7 157.2 676.7 129.3 747.3 127.5 740.7 115.0 712.0 133.6 696.2 76.7 768.9 109.1 777.7 96.5 778.9 93.7 756.3 76.6 758.9 95.1 802.1 161.5 716.7 104.3 758.3 157.9 684.0 47.3 706.9 47.1 732.5 47.2 731.1 46.5 799.6 47.2 747.6 47.0 747.4 47.0 779.8 47.3 738.6 47.0 712.6 47.5 737.3 47.0 768.6 46.8 715.1 47.4 745.6 46.6 717.7 47.2 742.3 47.5 758.1 46.5 774.7 46.7 769.9 47.0 722.8 46.6 744.2 47.2 769.2 46.9 728.7 47.0 753.6 46.4 719.5 47.4 719.0 47.1 745.2 47.5 735.7 46.9 744.5 46.7 772.4 46.5 796.3 47.0 735.5 47.3 773.1 47.4 725.8 46.8 770.5 46.7 762.4 46.7 709.2 47.0 731.0 47.2 712.9 47.3 800.3 47.1 720.0 46.8 772.9 47.2 781.9 46.6 757.4 46.4 708.9 47.0 752.2 47.2 727.7 47.4 747.1 46.9 779.4 47.1 779.6 47.3 762.4 47.1 728.4 46.7 791.6 46.6 775.2 47.0 702.4 47.1 765.0 55.5 728.1 63.5 742.9 69.0 758.2 67.8 733.1 68.8 724.9 60.6 754.0 69.6 729.6 52.0 724.8 54.1 744.6 62.1 729.3 61.4 736.6 66.1 724.0 49.4 735.2 55.3 749.2 61.4 733.9 48.5 747.7 58.5 746.9 67.4 759.8 66.4 753.1 63.6 735.4 56.7 740.9 51.6 745.3 65.2 737.5 54.9 748.2 61.5 747.8 49.5 737.5 64.6 732.4 68.4 732.8 68.5 739.6 69.9 724.0 47.9 723.5 65.8 725.8 52.2 749.0 49.0 732.7 65.4 755.9 67.8 723.5 48.0 739.0 51.4 757.3 57.8 755.2 56.5 682.8 58.4 698.4 55.6 708.5 47.3 693.8 51.0 728.7 162.5 796.6 162.5 800.3 208.6 651.6 190.2 651.6 160.7 651.6" class="od"/>
</g>
<path d="M46.30 640.20V802.10H208.90" stroke="#444" stroke-width="0.8" fill="none"/>
<path d="M46.40 802.10V804.40" stroke="#444" stroke-width="0.7"/>
<text x="46.40" y="813.70" font-size="7.4" text-anchor="middle" font-weight="normal" fill="#333" >0</text>
<path d="M83.26 802.10V804.40" stroke="#444" stroke-width="0.7"/>
<text x="83.26" y="813.70" font-size="7.4" text-anchor="middle" font-weight="normal" fill="#333" >2</text>
<path d="M120.12 802.10V804.40" stroke="#444" stroke-width="0.7"/>
<text x="120.12" y="813.70" font-size="7.4" text-anchor="middle" font-weight="normal" fill="#333" >4</text>
<path d="M156.98 802.10V804.40" stroke="#444" stroke-width="0.7"/>
<text x="156.98" y="813.70" font-size="7.4" text-anchor="middle" font-weight="normal" fill="#333" >6</text>
<path d="M193.84 802.10V804.40" stroke="#444" stroke-width="0.7"/>
<text x="193.84" y="813.70" font-size="7.4" text-anchor="middle" font-weight="normal" fill="#333" >8</text>
<path d="M44.00 802.10H46.30" stroke="#444" stroke-width="0.7"/>
<text x="41.10" y="804.70" font-size="7.4" text-anchor="end" font-weight="normal" fill="#333" >0</text>
<path d="M44.00 783.75H46.30" stroke="#444" stroke-width="0.7"/>
<text x="41.10" y="786.35" font-size="7.4" text-anchor="end" font-weight="normal" fill="#333" >1</text>
<path d="M44.00 765.40H46.30" stroke="#444" stroke-width="0.7"/>
<text x="41.10" y="768.00" font-size="7.4" text-anchor="end" font-weight="normal" fill="#333" >2</text>
<path d="M44.00 747.05H46.30" stroke="#444" stroke-width="0.7"/>
<text x="41.10" y="749.65" font-size="7.4" text-anchor="end" font-weight="normal" fill="#333" >3</text>
<path d="M44.00 728.70H46.30" stroke="#444" stroke-width="0.7"/>
<text x="41.10" y="731.30" font-size="7.4" text-anchor="end" font-weight="normal" fill="#333" >4</text>
<path d="M44.00 710.35H46.30" stroke="#444" stroke-width="0.7"/>
<text x="41.10" y="712.95" font-size="7.4" text-anchor="end" font-weight="normal" fill="#333" >5</text>
<path d="M44.00 692.00H46.30" stroke="#444" stroke-width="0.7"/>
<text x="41.10" y="694.60" font-size="7.4" text-anchor="end" font-weight="normal" fill="#333" >6</text>
<path d="M44.00 673.65H46.30" stroke="#444" stroke-width="0.7"/>
<text x="41.10" y="676.25" font-size="7.4" text-anchor="end" font-weight="normal" fill="#333" >7</text>
<path d="M44.00 655.30H46.30" stroke="#444" stroke-width="0.7"/>
<text x="41.10" y="657.90" font-size="7.4" text-anchor="end" font-weight="normal" fill="#333" >8</text>
<text x="127.70" y="638.30" font-size="9.25" text-anchor="middle" font-weight="normal" fill="#222" >Bandgap prediction parity plot</text>
<text x="128.10" y="826.60" font-size="9.1" text-anchor="middle" font-weight="normal" fill="#222" >Ground-truth bandgap (eV)</text>
<text transform="translate(28.30,726.80) rotate(-90)" font-size="9.1" text-anchor="middle" fill="#222">Predicted bandgap (eV)</text>
<text x="17.30" y="634.30" font-size="13" text-anchor="start" font-weight="bold" fill="#000" >j</text>
<circle cx="58.50" cy="648.8" r="1.35" fill="#1f77b4" fill-opacity="0.6"/>
<path d="M58.50 656.6l1.3 2.2h-2.6z" fill="#ff7f0e" fill-opacity="0.8"/>
<path d="M52.00 666.4h13" stroke="#111" stroke-width="1.0" stroke-dasharray="2.8 1.0"/>
<text x="69.60" y="651.40" font-size="7.55" text-anchor="start" font-weight="normal" fill="#222" >MatterChat (CHGNet)</text>
<text x="69.60" y="660.20" font-size="7.55" text-anchor="start" font-weight="normal" fill="#222" >MatterChat (MACE)</text>
<text x="69.60" y="668.90" font-size="7.55" text-anchor="start" font-weight="normal" fill="#222" >Ideal parity</text>
<clipPath id="ck"><rect x="283.1" y="639.9" width="163.5" height="162.20000000000005"/></clipPath>
<g clip-path="url(#ck)">
<path d="M283.10 802.10L445.60 640.77" stroke="#111" stroke-width="1.0" stroke-dasharray="2.6 1.2" fill="none"/>
<path d="M293.9 788.4 294.4 795.0 284.1 799.2 283.1 798.8 296.0 793.1 292.6 792.8 283.3 802.1 294.3 786.4 296.8 785.6 285.7 787.1 295.9 786.2 291.5 792.6 283.1 796.4 287.1 797.5 283.1 800.2 294.2 795.7 287.6 802.1 292.5 795.9 292.3 793.0 297.2 781.3 309.1 779.4 294.6 785.2 320.2 765.3 283.1 801.4 284.6 793.9 286.6 802.1 290.1 793.5 290.8 782.0 283.1 801.0 283.1 799.0 326.8 757.8 287.6 794.1 283.1 799.6 292.1 786.1 291.9 792.4 283.1 791.5 303.7 787.5 303.6 782.5 304.4 783.7 317.8 764.5 297.7 790.2 286.9 790.5 284.3 802.1 331.0 758.7 285.4 800.4 284.5 796.5 289.4 801.4 325.4 766.0 286.3 797.7 289.6 787.6 315.1 767.5 303.1 777.7 311.2 781.3 283.7 798.1 291.0 791.6 286.5 797.5 290.7 790.3 293.1 798.0 290.7 793.1 285.3 802.1 291.4 782.6 291.9 798.6 302.1 778.9 289.8 800.7 283.4 796.9 292.8 793.3 299.3 780.6 294.5 793.3 309.9 772.0 290.0 790.8 314.9 777.0 290.7 789.6 295.5 792.9 298.7 785.1 286.0 799.2 302.9 780.0 284.2 798.9 294.9 791.8 286.1 802.1 295.8 789.7 312.5 778.6 299.9 784.5 284.1 795.6 297.9 792.1 291.5 797.5 292.7 792.0 285.9 799.6 287.7 798.6 312.0 769.3 294.4 796.4 292.7 793.9 312.0 772.0 295.6 790.9 287.1 798.3 289.9 795.6 289.9 792.6 302.9 784.0 297.0 789.9 285.3 801.2 296.0 787.8 290.6 798.2 288.2 786.9 297.6 785.6 286.3 792.6 290.4 800.6 294.3 790.0 294.8 789.4 283.5 794.0 286.1 793.7 284.0 792.1 284.0 800.8 286.9 793.0 310.6 775.8 301.2 784.7 298.8 799.6 286.9 794.8 288.3 801.4 284.8 797.1 283.1 794.3 314.7 774.1 287.8 796.4 295.3 795.5 292.7 802.1 306.5 788.2 305.1 769.1 298.2 777.8 293.6 793.9 309.0 778.5 287.3 785.6 283.1 798.2 287.2 793.5 315.9 772.2 284.7 794.8 299.0 785.9 324.3 770.6 290.8 799.7 298.9 789.0 289.4 802.1 285.2 800.4 288.9 800.9 289.3 797.5 286.8 797.9 288.8 788.6 294.0 786.0 285.7 801.1 289.2 799.6 286.4 791.9 283.6 793.1 287.1 796.7 287.4 799.8 287.1 791.6 291.8 795.7 285.4 802.1 292.0 800.9 289.3 792.9 294.2 793.3 291.3 802.1 286.1 801.2 296.7 788.6 285.4 799.3 292.5 788.9 295.2 798.7 289.3 795.2 289.5 799.1 294.1 790.9 307.1 775.4 316.5 767.2 299.1 781.0 294.7 791.5 294.0 792.8 292.1 797.7 304.9 775.3 300.0 792.2 290.5 787.4 312.8 775.6 288.1 802.1 295.7 799.3 296.1 796.2 290.0 798.0 283.9 801.7 338.5 753.4 297.9 790.0 297.0 791.7 294.9 785.1 304.3 780.1 296.8 796.8 283.1 797.6 304.9 782.8 304.2 777.9 298.1 790.8 287.1 801.2 288.6 794.7 292.3 791.4 286.4 801.8 291.0 794.8 289.6 801.7 289.5 800.7 290.3 791.3 306.8 774.0 297.6 786.4 292.7 795.3 292.8 798.8 304.4 784.1 299.0 777.7 297.8 783.8 297.4 792.7 350.5 730.5 289.3 793.4 298.7 794.8 286.5 793.8 289.7 784.4 287.8 796.6 289.1 797.0 293.7 801.5 306.5 782.4 303.9 787.1 289.9 799.5 286.7 797.5 295.4 785.6 289.3 791.5 300.5 786.7 286.5 800.2 294.5 798.9 293.3 790.0 305.4 779.7 293.1 791.5 305.9 784.3 291.5 787.1 300.7 796.0 293.6 794.3 293.6 786.9 291.6 793.6 294.4 787.7 292.3 783.4 309.5 785.6 289.3 798.7 314.6 772.6 288.3 789.8 286.3 794.7 286.8 795.6 283.5 788.4 289.1 796.3 301.7 786.8 287.3 799.1 285.7 798.4 295.5 800.7 298.6 796.3 297.8 796.4 290.4 792.4 293.8 800.7 291.2 794.6 286.6 799.9 305.9 779.2 285.6 796.3 304.6 784.4 298.7 791.5 291.7 800.7 299.1 780.2 291.2 795.3 288.0 797.6 292.7 796.6 288.7 801.7 290.2 791.7 290.4 796.2 283.4 795.8 290.7 801.9 292.5 798.4 291.6 793.3 309.4 763.1 290.4 793.1 302.8 785.7 298.8 786.7 311.8 774.2 302.9 784.8 295.5 795.4 292.3 789.4 300.5 785.9 298.1 789.3 302.6 780.5 298.1 784.2 299.5 789.9 284.8 801.9 285.3 794.0 295.3 793.8 286.8 800.7 284.5 799.9 289.6 792.1 286.5 796.7 289.2 786.5 294.5 796.6 287.4 798.0 287.6 792.4 297.0 789.1 291.4 790.6 307.0 779.0 288.6 798.7 293.6 791.5 290.5 798.9 286.4 796.4 323.0 763.8 293.9 802.1 290.5 797.0 289.1 794.5 299.6 792.3 295.7 784.4 303.4 776.7 299.5 793.4 290.8 786.8 295.6 794.3 310.2 770.2 290.5 785.6 299.9 783.7 299.6 783.7 304.9 781.3 304.2 786.0 323.7 761.7 312.7 771.7 294.2 794.8 291.6 802.1 309.3 778.4 290.9 801.9 288.4 797.8 315.1 773.9 307.9 781.4 286.1 790.0 295.8 792.7 310.3 774.5 285.7 790.6 293.1 785.8 304.2 782.1 295.4 792.1 300.9 790.6 299.0 782.4 296.6 784.3 293.2 789.6 304.0 778.9 283.1 792.5 342.6 750.0 301.5 789.2 291.1 798.4 290.5 798.9 288.2 799.5 294.0 796.2 302.0 785.2 284.1 796.3 289.0 785.9 307.5 783.4 320.2 766.0 294.2 794.3 288.7 790.6 302.1 786.9 311.0 771.0 283.7 795.5 315.6 764.9 295.6 788.6 296.0 784.8 317.8 758.5 289.6 794.9 288.5 797.4 298.3 781.0 295.9 797.7 316.4 764.0 283.6 798.4 291.8 796.6 302.3 785.8 305.5 784.4 292.8 791.0 300.7 782.0 290.0 789.7 302.3 782.8 293.6 788.8 284.1 794.2 292.8 800.3 290.6 794.4 286.4 791.7 370.2 717.7 315.5 767.4 298.9 781.1 301.4 781.8 295.3 788.2 293.7 798.2 311.8 769.9 297.7 794.8 285.1 799.2 291.0 797.0 283.7 800.6 287.9 800.9 287.5 801.9 289.2 798.1 298.8 788.5 298.8 787.2 300.1 780.4 296.6 796.2 296.4 793.0 288.0 794.5 302.5 784.1 287.8 792.7 297.4 791.5 284.4 792.1 297.7 787.4 287.6 798.5 286.5 796.4 293.5 792.8 306.9 781.2 289.8 796.4 311.4 776.2 321.1 764.9 330.2 761.8 293.6 785.2 292.8 797.1 299.2 784.8 289.9 802.1 343.5 740.0 290.7 794.1 291.7 786.2 284.0 799.6 295.0 794.2 286.5 801.4 285.2 792.2 297.3 782.7 298.0 794.9 303.8 786.8 290.9 788.0 288.1 799.4 312.5 778.1 323.1 748.4 299.8 785.9 294.6 783.4 287.0 794.5 295.5 795.1 287.5 796.0 285.4 796.6 313.8 780.4 284.9 799.8 297.0 794.3 295.2 786.4 304.5 791.6 306.9 787.8 302.0 782.3 286.9 800.5 296.1 789.0 288.6 802.1 288.8 794.2 290.9 800.3 309.8 776.6 311.8 790.0 293.7 798.0 325.9 762.4 309.6 774.9 299.4 791.6 306.0 776.9 295.9 793.8 309.0 777.3 298.3 787.6 289.3 787.3 291.3 796.4 287.7 797.8 285.4 794.1 347.5 735.6 288.8 791.2 295.2 791.7 285.3 798.2 294.6 797.3 299.7 789.0 288.4 795.3 287.9 793.0 293.1 788.5 316.1 764.8 295.9 792.1 316.6 776.2 297.6 784.8 289.2 795.5 293.6 797.0 291.1 789.3 304.7 793.1 294.9 789.9 284.5 800.5 297.1 788.4 300.5 781.4 302.6 778.1 314.3 775.8 284.6 801.4 304.1 789.6 295.0 796.5 296.7 799.9 287.7 790.6 284.0 802.1 291.7 788.4 284.8 793.2 318.1 772.4 292.1 800.7 290.1 799.9 285.9 795.4 303.3 778.7 289.8 789.3 319.9 760.6 298.4 780.6 334.6 745.3 315.2 767.7 347.2 739.4 295.5 802.1 326.3 759.6 311.6 773.7 334.5 747.6 295.0 800.3 309.2 770.6 291.0 793.6 310.0 774.2 305.4 775.2 315.2 798.2 292.6 799.1 341.9 756.0 294.4 784.0 342.3 746.5 290.6 797.4 335.6 746.4 351.7 738.6 313.1 765.1 338.8 747.6 294.1 789.4 302.5 794.8 326.5 762.8 312.5 766.5 335.9 744.7 318.5 771.8 350.4 739.9 314.8 770.1 300.5 778.5 327.3 752.9 355.4 744.9 313.9 787.1 294.6 800.0 332.6 760.5 291.6 783.2 289.6 783.8 310.9 771.3 285.9 792.4 324.3 759.2 305.1 780.9 305.8 784.8 305.3 785.8 324.6 762.5 302.1 781.1 307.5 774.9 303.9 785.5 339.9 742.9 291.6 791.1 294.0 796.5 287.7 784.1 337.6 742.8 307.2 770.6 336.2 738.7 298.2 786.9 344.3 756.1 329.1 756.4 347.8 744.2 298.8 796.5 300.5 792.3 340.3 736.4 339.7 743.6 313.3 767.9 341.3 740.9 323.6 747.3 318.9 769.7 301.1 783.8 294.1 784.5 327.6 765.2 316.1 752.9 319.9 765.3 330.0 758.5 307.2 764.0 302.4 783.9 354.2 742.1 293.1 792.0 288.3 796.7 312.4 763.4 304.0 778.5 322.2 771.8 311.2 772.7 318.6 768.7 304.2 784.9 314.0 761.4 290.8 790.9 318.6 757.6 320.5 773.6 345.3 750.7 299.7 790.3 328.6 768.4 329.5 756.5 291.5 799.3 329.0 773.8 317.4 768.0 323.6 760.2 304.0 771.1 292.5 790.6 334.2 748.2 340.7 750.7 307.8 786.3 300.4 772.3 299.8 778.9 331.5 755.9 331.2 756.8 328.5 765.0 338.8 747.3 296.1 789.4 311.6 774.8 283.3 787.5 342.7 749.4 342.2 736.1 329.1 761.7 298.2 781.6 298.0 792.7 332.5 746.2 318.5 778.1 292.3 801.3 315.7 758.4 337.7 751.6 305.4 781.5 337.0 755.5 340.6 746.9 300.0 797.2 297.6 777.7 310.9 778.9 348.4 742.4 286.7 799.1 342.7 739.5 317.9 763.3 304.3 762.8 321.7 761.8 294.9 790.9 325.4 747.3 295.9 781.1 337.7 754.6 306.5 786.7 331.3 766.5 310.7 774.2 330.3 758.0 317.9 757.2 317.2 761.5 296.8 793.2 323.9 749.2 336.7 743.0 326.5 762.2 290.6 770.6 328.0 775.9 306.6 776.5 348.1 731.4 323.6 763.5 348.8 745.3 301.0 777.6 301.9 794.9 329.8 750.0 288.4 790.1 350.1 737.0 308.2 772.7 343.4 749.9 292.8 775.2 344.2 738.8 290.5 786.2 341.7 747.0 312.2 776.5 331.1 740.7 325.5 749.5 330.8 765.3 311.6 770.3 337.8 758.0 314.0 756.0 325.1 754.4 324.1 741.3 302.6 790.8 308.1 782.6 312.5 773.4 326.6 751.4 329.8 751.9 300.3 793.7 328.9 758.5 331.8 764.9 301.6 780.8 322.8 773.1 326.7 756.2 300.4 789.6 320.0 781.6 306.1 779.1 322.1 767.9 349.2 743.1 314.5 782.8 345.4 751.9 335.5 749.7 315.5 772.9 327.3 754.3 317.1 761.7 318.9 770.3 345.4 749.6 301.3 790.4 315.6 789.9 318.2 756.6 314.7 774.6 333.8 751.3 293.4 784.7 288.2 792.2 307.9 779.0 320.1 755.9 303.5 783.0 330.8 766.2 305.2 768.7 297.6 789.4 322.0 784.2 313.9 777.6 336.1 746.8 326.3 752.5 293.4 788.0 297.0 778.4 342.2 748.4 338.3 744.4 336.3 746.7 305.5 771.3 305.1 763.9 338.5 731.0 317.3 770.4 330.2 755.5 302.2 777.0 294.9 786.0 300.6 785.1 309.7 775.5 315.8 765.4 308.0 769.3 294.9 776.9 292.8 782.1 342.8 754.9 335.2 741.9 336.9 742.4 345.7 745.6 318.5 759.7 317.5 770.9 324.2 754.6 310.6 777.8 311.1 773.7 285.7 780.2 319.9 757.3 330.4 753.9 293.7 799.5 323.8 762.5 337.8 745.6 289.2 789.1 338.2 737.2 299.7 790.1 326.0 754.4 320.2 774.5 292.6 782.3 305.9 783.3 322.1 765.2 291.4 790.1 349.9 732.5 352.4 731.8 341.8 755.6 323.6 756.6 329.7 756.8 303.1 776.2 308.4 767.9 330.9 753.2 341.3 752.0 329.0 748.0 349.5 744.6 343.2 747.4 289.6 788.6 341.3 749.7 301.5 778.3 312.5 770.6 323.3 765.4 301.9 793.4 335.0 743.0 298.1 793.3 335.8 752.6 294.6 800.4 335.3 752.0 333.5 752.7 300.1 785.1 319.3 778.0 312.9 769.5 340.1 745.1 295.0 779.8 298.0 795.9 304.8 774.7 310.8 790.2 328.5 751.5 303.2 785.4 301.7 793.9 302.0 799.4 311.0 766.5 302.4 769.0 299.7 786.5 303.8 790.4 342.9 741.0 312.8 768.1 325.6 750.1 300.3 773.7 294.9 788.3 315.6 779.8 312.5 758.0 305.4 782.1 327.5 758.2 308.4 777.3 330.7 749.9 335.8 759.3 345.9 735.1 314.5 765.0 285.6 797.2 303.7 784.3 315.1 785.6 341.6 753.1 336.1 749.9 299.6 802.1 339.6 734.1 293.9 801.7 309.5 795.6 296.9 798.1 306.5 800.5 306.6 796.9 295.2 799.1 301.8 802.0 297.4 796.8 305.1 798.7 308.8 801.8 301.5 800.4 305.9 801.1 302.8 801.2 304.9 798.2 297.7 801.6 298.9 800.3 285.0 797.2 298.2 797.3 285.2 795.2 306.7 799.5 296.8 800.1 301.0 799.8 306.9 801.9 307.0 800.9 306.1 796.9 296.2 798.0 305.5 800.5 294.7 795.6 295.6 801.3 301.0 797.6 288.6 800.2 294.9 801.6 298.8 800.9 294.3 799.9 288.4 799.3 308.4 798.8 304.4 801.0 284.3 783.4 285.2 790.5 286.8 788.5 283.2 790.0 285.8 791.4 285.4 778.4 283.4 780.7 283.6 783.7 284.3 785.3 284.9 798.7 283.2 782.9 362.9 738.6 337.5 743.5 386.7 689.7 386.5 689.4 378.2 705.1 370.0 714.9 332.0 731.1 345.4 742.1 351.0 733.6 364.4 722.5 337.0 766.3 364.0 718.6 380.6 702.9 343.4 753.5 327.0 754.7 356.1 733.1 350.8 746.5 388.9 693.5 344.4 729.4 381.9 696.1 389.3 711.6 330.9 761.7 395.1 697.7 360.7 719.8 380.8 710.1 369.6 711.4 361.4 719.0 389.8 700.9 341.2 732.4 344.6 739.8 364.5 713.4 343.1 739.3 338.4 750.9 381.9 711.5 378.8 717.5 374.0 721.3 391.1 700.5 374.8 704.0 333.1 750.9 331.7 753.6 342.6 733.5 388.2 699.5 395.5 690.3 319.4 761.6 392.9 698.6 367.8 732.9 372.6 723.1 339.3 738.4 362.8 723.7 382.6 703.0 374.9 714.9 382.3 705.9 371.0 707.2 346.3 746.2 349.4 741.7 342.3 757.6 335.6 732.6 368.0 727.1 352.2 735.9 379.6 693.4 338.7 756.7 326.1 756.4 338.0 746.6 375.9 718.9 338.7 755.1 364.1 715.4 393.2 704.4 371.8 714.0 372.6 704.9 385.3 701.6 363.7 721.5 358.0 732.9 363.7 714.1 337.0 753.0 368.6 713.7 341.6 752.4 368.0 728.8 345.6 740.2 356.0 729.9 386.3 702.9 351.0 748.8 378.1 710.3 330.3 752.8 369.2 707.9 329.5 759.1 350.5 734.4 385.2 700.1 346.7 739.0 346.8 743.0 381.3 691.0 348.8 735.4 366.4 711.9 382.2 701.2 372.9 717.8 391.7 700.0 390.0 690.7 329.9 736.5 322.8 755.5 377.3 710.0 339.6 739.5 377.6 713.6 359.8 736.2 362.5 722.8 357.7 742.7 365.7 732.6 368.1 724.4 370.7 724.4 366.1 724.5 361.3 724.5 376.5 725.2 351.4 724.3 368.4 725.0 358.5 725.6 345.9 724.7 378.7 724.6 371.2 725.1 373.8 725.5 349.1 725.3 372.9 724.8 360.3 725.9 354.8 724.3 364.0 724.3 373.8 724.8 376.9 724.3 362.3 724.8 370.6 725.3 373.3 724.5 367.0 724.5 378.4 725.2 360.7 725.4 348.8 725.2 360.3 724.2 363.0 724.9 370.8 723.5 373.2 725.0 321.9 780.5 312.9 779.9 321.3 780.1 314.4 780.0 312.2 778.9 310.8 780.3 320.2 780.2 312.4 780.0 309.1 780.1 305.4 780.8 307.4 779.7 318.2 779.6 319.9 780.3 318.9 780.6 306.3 779.7 303.5 780.5 313.9 780.2 443.4 667.3 445.6 687.2 289.8 712.6 285.3 782.2 391.1 675.0 403.3 697.1 394.4 707.1 387.7 687.2 356.6 689.4 305.4 753.5 334.3 771.2 395.5 682.6 308.0 774.9 368.4 722.8 336.0 760.3 318.7 739.5 299.4 795.5 334.7 733.7 346.2 740.5 335.9 749.1 304.7 781.8 362.8 714.8 305.3 770.0 383.9 723.3 357.2 753.0 410.8 676.4 313.8 773.5 297.6 784.2 375.9 701.4 325.4 737.7 324.0 742.6 394.1 705.1 419.2 683.2 290.5 775.2 376.3 699.5 408.2 674.5 398.2 699.9 328.4 758.7 284.9 774.8 330.4 744.2 364.4 724.9 323.1 776.5 342.4 717.9 384.1 676.6 309.9 752.1 305.8 765.6" class="bd"/>
<path d="M292.1 789.3 289.9 793.7 287.7 797.1 295.0 792.5 296.6 786.3 294.3 796.2 284.6 800.2 293.0 791.6 297.6 788.2 285.6 799.6 285.4 796.7 287.9 798.4 288.1 802.1 291.0 786.7 298.3 787.2 293.0 796.9 296.1 794.5 293.3 794.0 301.5 783.1 285.5 802.1 288.3 801.5 294.6 788.0 285.1 800.7 285.9 802.1 292.2 795.1 315.7 769.7 299.1 784.1 291.0 793.4 288.9 791.8 294.1 793.3 290.2 790.2 283.1 802.1 301.6 785.8 313.0 772.1 295.0 790.8 294.8 790.7 284.8 795.8 294.6 792.6 287.6 796.3 288.5 798.1 292.8 798.2 293.3 793.0 302.7 782.3 288.6 795.0 293.1 798.0 284.4 802.1 299.1 788.1 286.7 798.8 294.1 788.9 283.1 799.8 289.8 795.9 286.8 799.2 284.4 801.5 287.5 799.7 287.0 801.6 292.0 792.6 297.0 789.9 299.0 787.5 284.9 802.1 283.1 800.9 303.8 775.7 304.8 778.1 326.5 762.3 284.7 801.3 287.6 798.9 290.2 800.0 290.1 793.1 291.5 791.9 291.1 794.1 290.8 798.2 290.0 794.6 324.7 762.7 285.6 798.7 302.4 786.5 292.4 795.3 286.3 797.4 284.0 797.0 288.9 792.1 286.5 801.6 292.8 793.1 287.3 794.8 293.5 789.8 327.3 758.7 293.9 789.6 288.7 792.8 309.7 770.4 286.7 793.4 283.8 800.8 293.6 792.5 292.8 793.8 290.2 795.4 317.8 771.8 301.4 787.4 295.3 787.2 292.4 790.7 285.1 798.6 292.3 793.0 291.3 795.0 286.4 795.9 344.7 739.2 300.2 784.6 286.4 800.4 296.9 791.5 287.9 800.7 287.3 796.7 293.9 794.8 295.0 790.5 299.6 787.2 294.4 792.2 290.4 797.9 288.3 793.3 284.0 802.1 286.6 799.8 283.1 800.3 317.4 770.6 286.9 796.6 290.7 791.4 307.9 777.7 294.5 791.4 302.5 785.7 297.7 786.9 285.6 797.3 292.4 792.1 297.2 786.2 295.5 793.5 304.4 783.1 284.8 801.4 283.1 797.0 294.4 788.5 299.9 783.7 292.7 789.9 295.2 789.9 297.1 789.6 289.0 793.4 296.3 789.0 306.7 781.0 286.8 800.5 289.3 793.8 290.3 796.2 284.4 796.9 286.6 796.2 305.4 782.5 287.7 797.8 300.5 782.2 289.4 791.3 294.0 791.4 283.4 798.6 287.5 797.5 290.3 795.1 288.0 796.9 289.5 792.7 293.1 789.1 289.5 798.1 295.3 792.0 305.9 778.3 311.8 776.8 296.3 787.2 288.0 800.4 301.5 786.6 308.0 775.9 303.8 781.1 300.4 786.9 308.8 778.8 285.2 797.9 317.0 769.6 291.7 791.1 287.5 795.9 296.5 787.7 286.7 800.8 283.5 800.6 310.3 775.6 289.2 798.2 301.0 783.8 289.7 788.0 283.8 799.8 288.0 792.5 288.6 794.4 285.5 801.5 296.1 787.5 288.7 801.5 304.7 780.4 291.5 796.3 325.4 762.7 283.1 798.1 304.7 783.3 285.9 799.3 283.1 799.0 285.2 797.2 287.0 797.3 285.5 800.3 318.2 767.5 284.7 799.5 285.8 794.5 295.7 788.5 288.7 797.6 291.0 789.8 285.2 799.0 307.5 777.6 287.4 802.1 285.8 798.1 286.8 794.9 286.7 802.1 284.8 800.7 313.7 769.1 289.2 795.9 284.3 798.5 313.1 775.5 305.3 779.7 293.2 794.2 305.8 781.2 286.2 798.3 302.0 783.6 302.2 780.6 291.6 795.1 291.4 791.3 318.0 767.8 289.4 799.2 283.1 801.9 299.6 786.7 318.4 766.5 289.5 793.0 289.8 799.1 283.7 799.5 296.0 794.3 293.4 792.0 299.7 792.5 310.6 774.5 292.0 796.5 296.1 784.9 291.4 789.5 297.6 785.1 318.6 770.3 293.6 791.0 289.1 794.7 286.3 798.6 294.2 792.3 297.4 782.5 286.5 794.6 306.8 775.5 298.3 788.3 299.5 789.2 299.8 787.8 289.0 795.9 289.7 802.1 304.8 784.7 321.2 763.7 289.5 801.9 287.8 799.3 308.5 780.9 289.7 796.3 303.2 784.0 291.0 793.6 286.4 799.0 304.3 785.2 297.2 788.0 285.5 800.9 288.7 796.2 289.6 796.7 292.7 794.6 295.4 791.6 301.0 786.0 283.5 798.2 308.5 776.4 290.6 791.7 308.5 773.1 290.4 794.0 292.0 797.3 286.6 798.1 298.0 786.0 291.8 798.0 296.0 787.5 299.4 783.6 297.6 789.5 284.3 797.8 287.3 794.4 305.6 780.6 288.4 798.8 300.1 782.0 299.0 786.6 289.2 797.3 337.0 748.3 300.8 781.9 288.2 794.8 293.8 790.6 314.0 774.7 286.2 799.7 292.5 797.0 319.6 760.5 289.1 792.5 300.1 789.5 297.5 790.2 327.0 758.6 284.9 799.7 302.6 781.9 314.8 774.2 309.8 779.8 289.9 798.7 308.6 778.0 292.1 790.2 297.9 785.6 305.3 779.6 298.2 789.9 296.8 788.4 298.4 784.6 303.9 778.7 295.8 789.0 301.8 785.4 310.5 773.5 288.1 799.6 298.4 782.6 287.6 798.2 289.0 788.3 295.8 793.6 289.3 796.7 296.8 790.9 292.8 794.8 296.1 788.2 311.7 773.7 296.3 784.2 307.3 780.3 287.6 800.2 297.4 793.5 292.4 797.8 288.4 802.1 285.2 796.4 286.5 795.5 288.3 801.1 288.1 796.2 283.1 796.1 309.5 776.6 308.2 779.8 300.7 781.5 286.9 795.8 290.4 794.3 322.4 760.8 296.6 793.8 312.3 777.5 289.6 797.2 290.7 798.5 292.1 791.4 288.6 793.5 292.6 788.1 284.6 799.3 283.5 797.6 291.6 799.4 287.7 792.1 304.4 779.5 291.1 790.7 293.3 796.5 314.6 774.4 306.3 778.8 298.1 789.0 291.5 793.7 316.9 770.5 288.9 796.7 303.3 779.6 339.4 744.7 290.3 790.8 295.5 792.7 289.6 794.8 317.3 763.0 319.0 769.5 314.2 776.1 289.0 801.0 284.7 796.9 324.7 759.8 290.9 792.4 286.4 797.1 288.1 795.5 304.6 781.1 306.9 776.3 306.7 772.9 303.6 784.0 297.2 792.5 310.2 771.0 285.9 801.3 300.7 786.0 327.3 759.9 290.6 792.8 307.3 776.4 306.8 782.2 308.1 779.6 321.6 766.5 294.6 782.0 291.6 795.4 291.0 795.8 296.0 791.1 296.1 789.6 290.0 792.3 304.4 779.7 297.7 792.8 305.6 777.7 293.7 788.9 313.9 772.7 307.0 778.7 304.0 778.1 301.4 783.9 312.2 766.9 286.0 794.3 286.5 791.8 289.1 802.1 309.2 774.7 292.8 795.4 302.3 787.1 292.7 799.1 311.7 778.2 302.6 783.1 305.7 774.4 290.9 799.0 296.4 793.4 288.9 800.2 300.7 784.4 291.8 792.6 287.4 798.6 298.6 791.0 290.5 797.3 313.4 772.6 287.4 800.9 284.4 794.5 299.9 785.5 302.8 781.4 299.4 785.0 320.1 769.1 290.9 791.4 298.9 788.2 312.2 779.8 288.0 793.6 305.4 773.7 303.2 777.8 300.0 780.5 304.6 782.2 288.6 795.8 284.0 801.7 311.8 771.2 312.9 772.8 300.5 785.5 289.5 794.6 301.2 785.0 306.3 776.1 318.6 767.8 315.5 771.4 315.1 771.0 293.4 799.1 306.8 778.1 288.0 794.6 295.1 788.0 322.9 761.8 296.5 786.5 285.2 793.9 288.5 799.6 293.7 787.4 309.3 779.0 289.5 790.2 309.6 777.9 294.7 782.5 303.4 782.4 337.9 750.6 285.3 795.6 293.6 794.8 313.5 773.6 284.6 793.8 322.5 764.4 288.7 799.3 286.1 792.4 326.7 764.8 302.0 781.4 310.6 775.3 286.4 794.8 301.8 784.5 290.1 799.9 295.7 790.2 289.0 798.4 291.5 794.3 325.9 761.6 291.7 793.4 290.6 796.6 293.6 787.9 295.9 786.3 321.7 767.4 293.4 797.2 295.9 791.0 293.9 793.8 308.0 778.0 299.3 784.0 293.7 787.4 292.7 790.4 283.5 798.7 300.3 788.4 301.5 789.0 283.1 797.5 324.5 762.0 289.5 791.0 303.5 782.7 293.7 797.5 315.1 767.6 314.9 772.4 294.2 795.3 284.5 797.7 290.8 788.0 299.4 788.2 300.6 783.8 312.4 771.3 286.7 793.7 296.5 796.3 311.5 774.1 311.0 771.6 291.2 796.8 294.7 785.8 318.5 765.1 291.4 799.7 288.7 800.1 299.3 781.1 328.8 756.3 290.3 802.1 327.1 752.9 296.4 790.2 329.6 755.8 338.3 752.2 284.5 791.0 324.6 755.2 336.5 748.6 310.4 768.9 340.7 745.0 297.2 793.7 315.8 765.7 308.2 786.3 338.7 749.9 330.1 761.1 309.5 772.5 318.7 772.1 300.2 780.9 320.9 766.7 302.0 778.9 333.8 745.3 291.6 797.4 321.6 763.6 329.1 750.5 314.2 766.5 309.9 779.7 311.1 782.8 337.5 749.2 297.7 793.8 320.6 761.7 318.0 763.0 326.3 752.4 313.3 766.3 314.8 769.3 324.2 766.0 302.4 777.1 335.2 747.9 332.2 759.7 296.7 785.5 298.3 783.4 292.8 796.4 309.5 783.8 349.4 739.2 319.1 762.3 344.9 739.4 326.2 751.1 335.1 755.3 288.6 787.8 300.2 791.3 305.2 781.0 294.5 793.1 312.3 779.0 345.9 741.9 305.8 781.6 291.1 792.0 317.2 766.0 323.4 766.0 343.0 746.7 293.7 799.7 293.1 792.0 307.7 774.5 322.6 762.8 290.9 801.1 329.4 758.9 299.6 790.1 316.2 765.5 305.6 772.8 342.2 748.6 341.3 744.4 303.3 785.9 321.2 761.9 343.5 739.4 340.8 738.8 343.0 751.8 341.3 748.6 298.5 784.7 297.9 786.4 318.6 766.6 314.7 769.4 294.8 790.4 305.9 779.5 331.4 755.6 322.8 764.9 334.9 756.6 311.8 774.7 321.7 765.4 313.1 773.8 288.8 790.4 312.8 772.2 324.6 753.8 335.7 749.9 333.0 761.9 298.9 782.6 327.1 768.1 300.9 780.6 322.1 757.4 320.8 759.8 330.2 751.2 328.7 762.0 294.6 794.1 299.4 781.6 340.4 740.1 310.9 778.5 325.6 763.5 329.7 757.4 297.3 784.3 336.5 742.2 305.5 776.6 313.9 778.8 348.3 741.7 306.5 784.3 314.7 776.3 292.2 787.7 292.0 788.8 301.7 789.4 288.2 791.8 330.6 751.0 291.2 799.8 340.4 747.3 311.9 772.3 298.1 792.7 335.0 747.4 297.2 787.2 322.3 768.1 298.1 790.8 294.8 794.6 295.1 797.6 345.3 742.7 311.5 770.4 309.7 780.6 338.7 745.7 326.5 758.2 309.1 772.4 312.1 769.4 342.8 745.0 342.4 747.1 318.8 763.8 302.1 779.3 306.0 774.4 297.8 791.9 340.7 741.6 315.6 775.6 313.8 769.7 333.8 754.1 297.4 787.9 292.4 780.7 307.9 772.8 329.8 748.3 337.1 753.8 300.8 780.2 317.5 773.9 302.4 777.8 345.2 738.5 299.6 782.2 331.8 751.5 338.1 750.4 338.5 751.3 340.1 745.6 329.1 750.8 317.7 770.8 323.9 756.6 303.1 775.0 321.8 755.7 326.2 763.8 317.2 768.6 298.7 794.1 300.5 786.9 333.1 748.5 314.8 774.4 291.5 788.5 306.3 775.3 337.0 752.5 319.2 766.4 336.7 750.7 329.0 757.2 309.1 775.5 327.7 754.3 340.0 743.0 315.9 766.0 296.3 791.9 321.9 759.8 306.1 777.1 301.9 780.8 317.6 761.3 305.7 772.2 306.3 772.9 294.4 795.6 318.9 767.5 306.5 774.5 291.5 796.8 319.3 764.5 337.7 746.1 315.6 767.8 316.8 771.3 293.8 786.6 333.3 754.3 344.9 747.6 340.5 751.9 318.3 764.9 316.0 769.8 335.0 748.3 330.7 758.7 309.6 771.6 311.1 775.6 333.9 753.9 317.3 767.9 302.1 781.8 321.1 769.9 305.7 786.0 326.8 751.9 314.4 770.2 335.1 753.7 320.5 759.4 341.2 742.8 316.3 766.8 325.7 753.6 333.3 750.2 316.8 772.9 347.9 742.7 288.3 788.8 290.5 799.0 324.5 760.3 319.7 771.2 335.8 747.3 340.8 740.6 320.2 773.1 297.4 785.7 305.1 783.1 309.5 778.2 345.3 744.6 320.4 761.9 308.8 780.7 316.3 770.6 288.0 789.8 328.2 751.5 342.8 748.1 336.6 751.6 306.6 780.1 330.7 754.5 311.7 776.1 332.7 750.8 329.4 757.4 319.7 767.6 320.1 764.4 346.8 739.4 308.5 774.9 315.5 766.5 336.4 744.5 312.5 769.7 315.3 770.8 315.5 772.0 285.4 792.9 324.4 759.3 294.4 786.6 288.4 791.0 324.9 758.6 302.2 781.3 319.9 762.1 317.3 773.6 326.1 757.5 326.3 755.8 329.6 763.7 312.5 773.8 316.9 766.2 331.5 762.3 314.2 769.9 338.7 743.9 320.4 765.5 316.7 765.2 310.8 781.4 336.1 755.9 346.4 736.5 295.7 784.8 294.1 790.2 297.7 781.8 287.0 788.9 302.6 789.7 309.1 779.3 294.7 795.2 333.4 756.8 345.7 739.5 303.3 778.3 322.3 767.3 339.7 749.1 301.7 779.6 310.1 777.4 337.1 747.8 294.6 785.0 295.2 794.2 299.2 785.9 308.1 784.6 304.1 777.5 308.7 783.1 316.3 774.7 296.4 792.6 313.1 774.8 324.9 756.0 345.5 745.9 319.0 774.1 330.2 754.4 333.8 746.5 314.0 772.0 342.0 739.2 288.8 794.0 324.1 759.6 295.4 795.2 336.0 756.4 302.3 782.1 335.2 750.7 317.4 760.6 294.1 788.5 324.2 765.6 345.2 745.1 317.8 765.8 302.1 787.5 331.1 756.8 344.0 740.6 307.5 779.8 343.3 745.6 322.8 764.0 341.4 751.1 325.2 758.0 325.1 753.6 335.9 753.8 311.5 780.1 309.6 773.5 310.8 777.6 303.4 785.5 288.2 790.0 294.3 784.3 323.2 760.8 341.9 736.7 344.5 741.4 333.8 752.6 336.9 753.1 333.7 745.6 331.4 751.5 326.9 760.3 311.0 778.0 306.2 783.5 313.0 767.2 332.5 751.5 318.1 763.6 305.1 770.4 346.4 744.7 295.8 789.5 332.3 759.9 327.5 757.0 329.7 759.4 317.8 772.5 308.1 776.9 307.7 782.9 317.4 764.7 293.7 790.1 334.2 752.1 339.7 748.2 300.0 772.9 318.0 772.5 334.6 740.1 302.6 780.1 291.0 785.7 297.8 789.2 291.8 798.7 335.0 753.6 317.1 769.3 309.8 776.9 307.0 782.8 320.0 761.4 337.2 754.3 290.9 796.2 322.3 770.7 336.0 748.3 328.9 764.6 306.8 779.2 323.5 763.3 341.9 744.4 307.2 783.5 283.1 794.0 325.0 759.0 314.1 778.1 316.4 768.1 310.1 774.3 313.9 770.4 327.5 755.8 304.3 783.8 303.1 776.0 320.7 763.2 332.8 745.4 340.7 744.5 341.2 743.2 333.4 743.6 309.1 772.6 299.6 791.2 307.1 782.6 298.6 775.5 339.9 750.3 306.2 776.6 304.6 787.2 325.1 760.6 330.8 752.3 319.4 761.1 295.3 799.8 301.7 784.9 333.4 743.8 324.4 765.9 298.2 794.7 320.1 762.5 292.6 801.2 295.2 801.5 294.5 799.6 303.7 801.3 304.2 798.7 301.7 796.7 296.7 800.7 300.8 795.3 296.1 797.8 291.6 801.8 295.8 801.3 299.1 801.2 294.1 800.6 297.5 796.3 300.2 799.4 301.1 801.2 300.9 802.1 293.9 799.3 303.4 796.5 296.5 799.2 295.6 800.8 296.8 796.8 303.9 800.1 301.1 797.8 300.8 800.0 294.4 801.5 293.0 800.0 300.7 799.0 303.0 796.3 290.5 798.5 306.2 801.5 302.0 801.2 302.1 799.3 304.0 798.9 304.7 801.4 291.9 800.2 306.4 798.8 287.2 801.4 304.9 800.1 290.9 802.0 304.3 798.0 289.7 801.7 302.5 800.5 305.3 798.9 291.4 801.2 299.2 800.5 304.9 799.1 306.0 798.7 302.4 801.1 302.3 796.2 296.9 800.5 298.1 801.9 299.6 801.8 303.3 799.2 294.9 802.1 294.3 797.4 296.2 800.8 298.8 801.5 290.9 800.1 306.2 800.8 299.7 797.7 306.4 800.7 304.5 795.6 294.3 802.0 302.5 801.9 292.8 798.5 367.5 718.5 375.9 710.2 367.5 721.3 358.9 727.2 343.7 746.0 343.9 744.7 335.8 746.5 360.3 724.6 367.5 721.9 371.0 723.2 342.4 743.6 354.5 726.6 384.4 703.1 360.0 729.7 375.7 708.6 342.3 741.8 379.5 705.2 370.3 715.9 334.6 750.0 325.7 755.7 340.6 739.5 384.2 707.5 387.6 700.7 358.3 723.2 336.0 755.5 354.0 730.2 380.3 703.1 362.9 728.2 326.9 756.1 360.2 723.0 386.7 702.2 327.1 761.7 343.7 742.6 379.7 710.9 369.4 715.9 385.7 702.4 334.2 750.2 356.5 729.9 363.7 724.2 360.7 722.8 331.6 752.6 366.3 716.8 384.1 700.8 343.3 741.6 383.5 694.0 354.4 733.6 375.0 715.2 367.4 718.2 378.8 710.5 381.3 705.6 355.5 730.0 337.7 741.2 340.1 745.5 334.5 754.0 329.0 760.2 386.6 701.2 364.7 721.5 345.2 741.8 345.8 738.2 335.6 746.4 389.3 704.1 385.0 700.8 350.4 737.9 384.3 704.6 332.0 758.9 370.4 717.1 327.2 754.8 342.8 736.6 370.7 707.3 331.8 747.4 366.7 724.8 366.3 715.5 379.4 706.2 388.6 699.3 332.0 753.8 333.9 747.8 346.7 748.1 356.1 731.5 376.2 708.0 379.4 705.8 381.8 699.1 342.9 745.9 353.6 731.3 389.3 696.6 359.3 726.9 369.5 718.6 375.4 707.3 338.9 751.5 365.1 717.9 349.6 740.4 353.9 728.3 388.7 697.3 340.7 744.1 379.6 704.1 368.0 720.2 319.5 762.6 333.5 752.7 378.1 705.7 347.3 738.9 350.4 731.5 382.2 702.3 328.4 758.2 354.3 724.6 376.4 711.1 347.2 746.8 380.9 705.3 365.5 720.7 336.6 746.3 369.3 717.6 363.8 721.6 325.6 757.5 339.3 751.9 331.8 755.2 392.8 682.6 353.1 732.6 312.1 767.4 309.0 782.9 385.7 697.9 308.6 781.1 283.1 787.6 347.5 720.0 290.5 789.1 336.1 748.8 318.1 750.4 320.5 755.1 371.9 701.8 391.2 695.5 380.8 697.4 399.0 701.0 322.4 756.2 320.9 770.2 307.3 765.4 340.7 752.1 318.6 777.7 334.3 757.4 367.1 737.7 343.6 733.3 372.2 712.5 386.8 671.4 339.4 766.6 393.0 685.3 333.1 757.9 445.6 669.5 398.9 669.5 285.3 759.0 284.2 762.3 381.0 681.7 365.5 690.5" class="od"/>
</g>
<path d="M283.10 640.90V802.10H445.60" stroke="#444" stroke-width="0.8" fill="none"/>
<path d="M283.10 802.10V804.40" stroke="#444" stroke-width="0.7"/>
<text x="283.10" y="813.70" font-size="7.4" text-anchor="middle" font-weight="normal" fill="#333" >0</text>
<path d="M305.36 802.10V804.40" stroke="#444" stroke-width="0.7"/>
<text x="305.36" y="813.70" font-size="7.4" text-anchor="middle" font-weight="normal" fill="#333" >1</text>
<path d="M327.62 802.10V804.40" stroke="#444" stroke-width="0.7"/>
<text x="327.62" y="813.70" font-size="7.4" text-anchor="middle" font-weight="normal" fill="#333" >2</text>
<path d="M349.88 802.10V804.40" stroke="#444" stroke-width="0.7"/>
<text x="349.88" y="813.70" font-size="7.4" text-anchor="middle" font-weight="normal" fill="#333" >3</text>
<path d="M372.14 802.10V804.40" stroke="#444" stroke-width="0.7"/>
<text x="372.14" y="813.70" font-size="7.4" text-anchor="middle" font-weight="normal" fill="#333" >4</text>
<path d="M394.40 802.10V804.40" stroke="#444" stroke-width="0.7"/>
<text x="394.40" y="813.70" font-size="7.4" text-anchor="middle" font-weight="normal" fill="#333" >5</text>
<path d="M416.66 802.10V804.40" stroke="#444" stroke-width="0.7"/>
<text x="416.66" y="813.70" font-size="7.4" text-anchor="middle" font-weight="normal" fill="#333" >6</text>
<path d="M438.92 802.10V804.40" stroke="#444" stroke-width="0.7"/>
<text x="438.92" y="813.70" font-size="7.4" text-anchor="middle" font-weight="normal" fill="#333" >7</text>
<path d="M280.80 802.10H283.10" stroke="#444" stroke-width="0.7"/>
<text x="277.90" y="804.70" font-size="7.4" text-anchor="end" font-weight="normal" fill="#333" >0</text>
<path d="M280.80 780.00H283.10" stroke="#444" stroke-width="0.7"/>
<text x="277.90" y="782.60" font-size="7.4" text-anchor="end" font-weight="normal" fill="#333" >1</text>
<path d="M280.80 757.90H283.10" stroke="#444" stroke-width="0.7"/>
<text x="277.90" y="760.50" font-size="7.4" text-anchor="end" font-weight="normal" fill="#333" >2</text>
<path d="M280.80 735.80H283.10" stroke="#444" stroke-width="0.7"/>
<text x="277.90" y="738.40" font-size="7.4" text-anchor="end" font-weight="normal" fill="#333" >3</text>
<path d="M280.80 713.70H283.10" stroke="#444" stroke-width="0.7"/>
<text x="277.90" y="716.30" font-size="7.4" text-anchor="end" font-weight="normal" fill="#333" >4</text>
<path d="M280.80 691.60H283.10" stroke="#444" stroke-width="0.7"/>
<text x="277.90" y="694.20" font-size="7.4" text-anchor="end" font-weight="normal" fill="#333" >5</text>
<path d="M280.80 669.50H283.10" stroke="#444" stroke-width="0.7"/>
<text x="277.90" y="672.10" font-size="7.4" text-anchor="end" font-weight="normal" fill="#333" >6</text>
<path d="M280.80 647.40H283.10" stroke="#444" stroke-width="0.7"/>
<text x="277.90" y="650.00" font-size="7.4" text-anchor="end" font-weight="normal" fill="#333" >7</text>
<text x="364.90" y="638.30" font-size="9.25" text-anchor="middle" font-weight="normal" fill="#222" >Energy above hull parity plot</text>
<text x="364.80" y="826.60" font-size="9.1" text-anchor="middle" font-weight="normal" fill="#222" >Ground-truth energy above hull (eV)</text>
<text transform="translate(265.00,721.00) rotate(-90)" font-size="9.1" text-anchor="middle" fill="#222">Predicted energy above hull (eV)</text>
<text x="258.30" y="634.30" font-size="13" text-anchor="start" font-weight="bold" fill="#000" >k</text>
<circle cx="295.30" cy="648.8" r="1.35" fill="#1f77b4" fill-opacity="0.6"/>
<path d="M295.30 656.6l1.3 2.2h-2.6z" fill="#ff7f0e" fill-opacity="0.8"/>
<path d="M288.80 666.4h13" stroke="#111" stroke-width="1.0" stroke-dasharray="2.8 1.0"/>
<text x="306.40" y="651.40" font-size="7.55" text-anchor="start" font-weight="normal" fill="#222" >MatterChat (CHGNet)</text>
<text x="306.40" y="660.20" font-size="7.55" text-anchor="start" font-weight="normal" fill="#222" >MatterChat (MACE)</text>
<text x="306.40" y="668.90" font-size="7.55" text-anchor="start" font-weight="normal" fill="#222" >Ideal parity</text>
<clipPath id="cl"><rect x="518.1" y="639.9" width="161.19999999999993" height="162.20000000000005"/></clipPath>
<g clip-path="url(#cl)">
<path d="M525.46 796.40L678.31 645.35" stroke="#111" stroke-width="1.0" stroke-dasharray="2.6 1.2" fill="none"/>
<path d="M594.6 733.4 571.9 737.6 563.8 761.1 615.5 709.0 605.7 712.4 549.9 776.4 580.2 736.7 575.6 750.7 543.7 777.8 591.4 732.5 590.3 729.3 581.6 738.6 591.6 733.2 622.2 702.1 567.7 753.2 609.3 713.4 632.8 692.7 525.8 798.2 578.8 746.2 615.4 706.8 592.4 725.1 573.6 754.6 615.1 704.0 600.7 718.3 553.7 784.5 597.0 720.4 574.0 750.1 583.8 730.5 566.0 767.8 595.7 721.8 591.0 729.9 556.7 762.5 571.7 751.4 615.7 705.2 616.6 707.4 550.7 772.9 596.6 724.6 577.2 746.6 572.5 747.6 589.8 726.1 616.8 704.8 596.8 724.6 565.9 763.1 581.3 749.7 594.4 728.7 610.3 714.5 586.4 736.0 595.3 736.5 601.4 726.8 550.0 780.6 618.4 710.4 589.7 737.4 581.3 737.8 558.4 763.5 592.6 731.1 621.0 696.4 570.7 753.0 551.9 779.2 593.6 730.9 585.6 734.9 581.8 732.6 543.8 774.2 596.2 728.1 597.1 727.4 527.5 802.5 587.4 737.9 606.2 722.9 565.5 760.5 537.7 789.8 585.5 736.4 629.9 688.9 593.2 733.1 636.0 688.0 591.4 729.3 570.5 739.5 563.5 753.6 619.3 705.1 552.1 768.4 570.8 758.4 567.2 753.2 588.4 734.2 581.7 742.2 553.6 775.3 559.9 766.1 623.1 700.9 589.5 738.8 582.1 737.5 582.7 738.2 589.3 736.6 613.5 717.2 601.6 716.5 585.1 735.4 604.0 722.4 580.8 740.5 575.6 754.6 605.7 715.8 581.9 741.0 568.4 756.8 576.9 742.2 592.4 728.2 614.8 702.1 556.8 766.7 575.3 746.0 603.4 719.3 572.0 743.1 570.6 745.2 582.4 738.7 572.3 741.5 580.5 746.5 595.0 735.0 587.0 736.5 619.0 697.0 588.7 726.7 623.4 703.0 585.7 727.2 578.3 737.8 612.1 713.8 581.2 732.2 622.2 700.4 567.5 746.5 569.8 750.8 594.8 730.9 552.6 754.8 614.2 703.2 600.5 728.5 604.2 717.4 593.4 724.2 554.8 764.2 544.1 778.7 561.0 765.4 573.3 750.4 562.9 756.6 589.2 728.9 552.3 764.7 552.6 780.6 590.4 734.7 623.8 699.6 558.5 757.2 581.0 741.4 593.8 736.8 609.6 717.9 605.9 720.7 567.9 752.4 603.4 715.1 583.4 731.7 606.5 720.5 623.7 696.8 534.9 788.2 550.4 773.0 543.3 763.0 560.3 766.8 579.3 730.7 584.4 726.0 619.4 702.8 614.1 705.9 588.6 733.6 578.9 739.8 602.8 731.7 589.4 727.1 572.0 753.1 600.6 722.5 570.8 748.1 579.5 737.1 587.8 742.2 573.3 750.7 566.0 754.5 586.0 744.0 577.3 744.4 557.8 768.4 617.6 702.8 623.0 700.9 620.8 702.0 610.4 710.2 563.3 764.4 557.6 760.9 545.0 775.8 578.5 747.4 546.7 774.5 582.4 746.2 591.2 730.5 566.8 752.0 568.5 759.5 578.5 741.8 594.0 719.8 575.3 747.1 622.2 697.0 567.5 749.3 571.2 751.6 569.7 751.2 581.6 740.6 591.4 728.6 592.8 720.8 571.3 744.9 617.8 706.4 548.8 774.1 587.9 740.8 583.3 739.4 555.4 769.2 547.0 768.9 581.2 739.7 607.9 713.9 594.4 727.2 579.8 741.1 565.4 747.0 580.0 747.7 592.9 729.1 592.4 720.9 571.8 755.6 600.4 725.3 603.1 718.6 544.3 780.6 592.0 733.0 575.4 753.9 583.9 734.0 559.0 763.3 559.5 759.6 576.0 744.2 574.1 754.8 576.4 759.6 562.9 754.6 591.5 731.6 607.7 720.1 567.5 766.0 576.7 751.0 595.1 731.3 604.6 715.3 589.9 730.6 579.8 741.5 560.6 775.3 609.8 711.8 614.9 707.4 538.5 775.8 590.6 726.9 577.2 747.4 561.2 770.1 617.9 704.4 592.2 727.3 626.8 693.4 566.5 763.1 546.6 767.5 580.8 736.9 544.8 782.4 570.5 742.5 601.5 711.9 597.5 726.8 603.6 717.6 582.8 739.6 598.4 733.4 582.4 739.4 551.3 771.2 592.7 722.1 578.7 743.4 569.3 755.1 548.9 767.7 605.4 717.8 551.1 778.4 559.4 749.1 587.3 732.3 591.6 734.1 548.6 768.2 607.5 718.9 580.8 742.2 545.4 772.4 604.4 719.0 586.4 742.0 541.2 787.0 522.6 795.1 581.9 739.2 567.0 758.0 581.3 731.6 582.1 733.7 568.3 754.9 590.8 725.3 586.6 735.4 561.2 766.8 580.9 733.7 577.9 754.3 587.4 732.5 564.3 761.4 561.8 759.4 556.1 754.2 615.8 706.3 594.3 737.8 594.3 726.5 615.2 707.7 626.9 688.1 559.6 763.1 619.5 705.5 571.9 744.6 576.7 746.1 585.4 734.6 591.5 745.3 575.9 747.8 620.0 709.0 535.2 784.5 558.5 773.7 554.2 766.8 589.8 728.4 624.4 695.6 585.7 738.9 549.2 771.4 624.8 702.3 581.0 746.8 587.7 729.7 599.1 722.1 584.7 741.8 570.4 756.6 617.5 705.9 615.3 705.2 572.0 747.1 568.7 756.9 554.4 768.0 581.6 745.9 586.9 731.5 573.9 756.3 572.7 761.1 572.7 746.5 532.8 790.9 599.9 727.4 576.8 744.1 614.7 706.8 564.7 743.6 585.0 743.5 565.4 750.9 630.2 690.6 589.7 734.8 611.8 713.3 579.9 749.1 598.0 727.2 561.2 758.8 568.8 751.9 576.5 748.1 562.6 757.0 596.4 719.7 597.7 718.5 608.6 712.1 559.4 761.2 568.7 753.9 576.9 733.1 593.0 725.4 553.6 770.7 575.9 741.6 610.6 712.6 584.5 744.4 584.4 734.7 559.8 768.9 576.5 743.4 606.4 719.7 547.7 780.8 577.0 753.8 561.2 762.3 619.4 697.7 594.6 726.7 561.3 755.5 563.5 763.7 585.7 739.5 554.3 772.7 580.8 737.4 588.0 732.4 549.2 769.4 588.5 733.1 565.3 752.7 591.2 733.2 595.5 727.0 588.9 731.9 562.0 756.4 606.2 719.7 584.9 741.7 587.4 741.6 581.4 748.0 601.6 721.8 596.1 730.9 587.5 745.5 589.1 728.6 581.1 739.5 598.1 736.0 532.8 794.7 569.2 764.2 562.6 759.1 565.2 750.2 566.7 761.7 587.7 736.8 600.9 724.6 585.7 729.2 608.3 723.1 616.8 703.3 564.7 754.3 563.9 762.2 565.5 751.0 580.1 748.5 598.2 725.3 597.2 723.0 583.5 739.7 564.2 752.5 573.2 741.8 577.7 747.6 583.2 726.7 527.6 794.0 591.3 724.8 564.0 755.9 611.8 716.1 600.1 723.3 596.6 726.4 548.6 781.8 602.3 721.3 584.0 740.0 585.0 740.5 530.5 782.3 553.2 770.0 574.6 740.7 552.6 762.7 609.6 715.7 560.4 757.5 599.1 728.3 585.7 737.2 645.3 678.4 616.8 704.2 574.2 752.1 556.5 763.0 586.1 733.1 612.0 714.8 574.8 753.8 602.4 719.2 584.1 741.0 586.0 732.5 586.4 738.9 567.2 752.6 582.8 730.3 595.3 729.5 559.4 744.4 528.0 796.2 593.7 725.3 592.1 724.0 588.4 732.2 578.1 746.4 569.4 749.3 576.6 741.6 589.4 738.8 545.7 784.1 607.4 716.3 609.3 714.0 548.9 772.1 595.4 722.8 578.2 738.9 616.1 706.4 567.3 759.3 571.6 745.9 602.5 720.4 531.9 790.0 579.7 755.4 577.8 741.7 532.1 788.2 553.3 758.9 594.8 736.5 616.1 702.8 600.1 719.8 549.7 772.0 603.5 723.1 586.0 735.8 580.5 739.6 551.0 765.6 623.7 703.6 622.5 698.3 585.3 729.9 568.5 754.8 557.6 758.1 554.3 762.2 549.2 771.0 610.4 716.6 580.4 750.3 599.0 724.4 635.6 685.4 603.8 721.8 578.1 747.2 587.8 732.3 577.5 738.7 556.8 758.7 585.3 725.7 551.7 768.9 604.0 716.1 573.6 747.9 556.6 766.2 599.3 727.3 600.5 724.4 590.7 742.7 548.1 776.9 633.0 689.3 591.9 729.1 601.6 726.0 564.8 751.6 606.0 714.2 569.5 753.9 579.9 744.5 572.2 752.3 551.4 762.4 561.7 750.9 565.9 762.9 572.9 753.7 614.0 702.8 592.4 733.5 574.7 763.2 586.2 728.4 572.5 758.2 609.9 711.3 605.4 718.9 576.7 756.7 584.7 739.4 584.8 738.3 563.0 759.6 563.8 770.4 582.6 749.4 560.6 755.8 581.9 749.4 606.9 721.5 573.0 742.7 593.8 724.3 620.2 700.3 612.6 705.3 563.1 758.6 557.4 765.6 581.8 742.3 546.4 763.0 608.9 709.5 597.8 721.2 565.8 766.3 577.6 755.4 581.9 741.8 555.6 770.3 585.0 731.0 547.0 774.2 540.7 774.7 618.8 708.5 567.6 756.3 574.0 746.8 577.0 755.7 630.4 694.2 587.9 727.8 600.0 726.7 603.4 720.4 631.8 691.5 532.4 785.4 602.0 720.8 587.9 730.3 585.6 736.8 607.8 707.0 597.9 727.7 548.8 786.2 588.4 743.2 578.0 752.0 614.1 715.2 539.4 792.6 599.0 730.8 600.7 731.5 586.3 730.8 541.0 782.2 599.2 720.4 580.3 739.5 562.9 763.3 604.2 721.9 580.4 734.2 616.0 699.4 609.3 717.2 552.7 760.5 588.4 735.6 573.6 747.1 607.9 715.5 566.9 754.8 583.0 730.7 543.8 776.1 587.7 726.4 551.0 771.1 555.5 771.7 584.1 747.2 561.9 765.6 605.5 715.9 560.5 767.5 617.8 701.7 584.8 735.0 596.8 730.6 636.2 684.0 594.4 724.6 566.2 750.5 584.5 726.6 579.3 743.8 584.4 739.7 569.6 750.7 575.7 749.2 601.5 722.2 581.5 732.4 598.8 714.5 581.2 745.5 588.2 741.5 571.7 739.2 610.2 709.9 621.5 701.8 604.6 719.3 546.0 772.6 556.1 763.9 599.9 728.0 543.5 773.3 645.7 674.5 552.2 769.8 570.0 761.2 563.7 754.2 603.7 723.9 563.8 771.1 561.7 757.0 617.7 705.7 553.1 769.4 611.2 710.4 640.6 684.3 546.7 785.2 525.2 789.7 569.6 756.0 584.5 735.9 554.8 766.4 600.3 713.2 574.6 760.3 570.5 749.9 585.0 733.7 618.0 713.8 588.5 732.6 643.6 681.5 577.7 746.7 525.7 785.2 567.6 755.2 565.7 750.2 565.5 756.4 569.4 747.6 555.0 748.9 573.8 757.1 592.3 741.1 597.5 733.4 575.5 735.8 563.5 754.9 605.4 715.2 621.8 695.5 590.8 742.8 594.0 730.9 572.9 748.0 591.2 726.2 582.4 748.2 558.4 760.1 611.7 712.2 637.1 690.1 597.7 728.3 582.7 744.7 594.4 728.2 622.7 702.4 564.6 747.7 600.9 723.7 532.1 786.6 600.5 723.2 590.4 732.7 580.2 735.4 559.3 769.1 623.2 699.8 607.5 717.8 592.2 726.4 645.6 678.2 592.2 720.9 639.6 675.7 566.1 759.3 583.4 742.5 615.2 705.9 600.9 725.9 610.7 720.0 564.7 755.3 579.4 736.8 609.1 716.7 570.5 752.4 610.1 713.4 583.0 733.6 591.9 730.8 613.1 710.5 591.4 723.4 554.7 773.7 585.0 742.0 579.9 734.8 595.7 729.6 637.4 686.7 585.7 732.3 603.6 721.1 587.0 739.0 593.3 734.5 604.9 711.4 571.7 749.2 574.6 744.2 567.9 757.2 593.6 729.0 579.7 746.5 579.1 743.7 560.3 749.5 588.1 738.0 546.2 777.5 605.3 718.3 614.6 709.0 592.8 731.4 579.2 747.0 613.6 707.1 582.4 749.8 589.8 734.3 538.1 786.3 572.9 745.6 585.3 733.9 602.7 726.6 599.7 727.6 609.1 721.3 572.4 760.4 573.3 747.1 582.6 736.1 539.3 780.8 548.7 776.9 591.1 726.7 561.5 757.9 600.2 724.8 595.2 719.1 572.9 740.6 568.5 763.2 563.4 757.5 560.5 764.7 584.5 738.8 560.0 766.7 590.5 731.5 601.4 720.9 596.1 729.2 557.7 767.9 607.1 710.4 542.0 773.6 587.7 731.1 601.1 721.7 564.8 763.5 608.9 714.6 608.8 712.1 564.9 757.0 576.6 747.4 567.3 760.0 530.7 796.4 611.0 713.4 563.7 751.0 580.6 734.6 582.0 734.6 558.1 779.1 603.1 720.4 566.2 767.8 586.8 721.1 589.0 730.4 567.6 749.9 585.5 730.3 621.8 704.0 598.7 722.4 574.1 750.7 624.5 699.4 578.0 746.0 545.1 782.2 577.4 751.1 528.9 785.5 552.2 771.7 552.6 773.1 532.1 787.2 568.2 757.0 577.0 752.3 621.0 705.5 585.6 741.6 575.3 754.2 584.6 750.0 587.8 728.6 604.0 716.8 615.1 709.4 542.2 779.8 548.4 766.6 589.0 735.2 624.8 697.9 607.5 716.7 565.7 753.1 570.0 750.3 577.2 739.7 613.3 710.8 580.4 736.0 583.3 736.0 606.1 709.8 588.1 738.5 620.7 701.3 602.5 720.1 573.8 743.5 585.8 732.8 556.6 759.4 565.1 749.1 571.2 750.3 533.1 790.7 648.5 676.6 600.3 718.2 572.5 756.4 569.9 762.3 608.6 708.6 553.3 777.9 556.8 769.4 605.7 715.3 582.4 735.2 567.3 758.2 594.0 727.1 591.1 746.4 589.4 739.2 574.6 747.0 611.5 712.4 591.2 735.7 601.2 739.4 562.4 759.3 547.7 772.6 598.1 715.5 564.6 756.3 565.2 753.8 588.7 728.4 609.7 709.5 576.3 742.9 585.5 745.2 593.7 726.4 596.5 727.3 585.0 737.1 543.4 783.0 597.4 723.1 567.2 755.5 632.2 691.3 569.1 752.8 589.7 730.3 582.7 743.6 590.8 737.7 638.1 686.2 570.5 738.6 605.7 710.3 583.9 737.0 578.2 743.8 579.6 736.3 564.5 759.3 591.9 734.8 661.6 661.6 583.7 741.8 570.2 744.3 661.4 660.5 549.1 768.7 568.3 747.4 537.7 784.8 601.5 723.9 588.8 742.3 593.2 728.1 584.0 735.7 618.0 706.6 524.9 799.9 565.9 753.4 580.5 733.3 523.4 794.1 620.4 704.7 618.4 701.8 554.8 765.4 561.3 754.6 555.4 751.7 566.1 750.9 545.2 769.4 614.7 711.5 601.0 727.0 568.5 759.5 531.0 785.6 608.6 706.6 537.0 798.4 559.1 758.2 556.2 773.4 567.7 762.8 589.7 729.2 604.0 719.9 590.1 733.2 553.5 770.3 613.7 708.0 614.1 715.5 600.7 719.3 634.9 679.1 558.8 769.0 562.7 755.2 556.8 756.2 584.7 730.2 573.8 743.8 609.2 711.2 579.6 743.7 569.0 752.3 552.6 763.5 565.3 763.7 578.7 744.5 588.9 724.0 570.2 745.4 630.1 694.7 555.9 767.8 584.5 745.6 566.8 760.5 597.0 724.4 542.6 778.3 582.7 733.8 546.3 769.5 544.1 776.4 575.7 738.3 576.3 749.6 628.5 693.6 541.8 772.1 592.3 735.6 591.9 739.1 590.5 738.5 563.1 750.5 539.1 783.5 596.4 720.3 587.5 727.5 610.8 714.0 604.2 713.6 598.5 722.5 562.2 755.9 605.6 712.6 559.8 754.9 557.6 759.3 580.7 738.3 602.2 722.5 575.1 747.7 572.4 745.8 620.3 700.6 582.1 738.1 640.1 681.3 595.7 724.1 584.4 740.1 558.1 764.5 577.6 749.7 630.0 691.5 547.8 766.6 548.1 785.9 570.2 758.4 576.9 745.2 577.2 736.9 609.6 716.2 626.8 695.1 578.8 738.1 567.1 753.4 560.3 756.5 541.5 782.1 585.7 743.8 544.5 772.8 573.8 741.8 563.4 758.2 612.4 707.9 542.0 771.8 602.9 716.8 584.3 733.8 587.0 729.8 581.2 731.1 595.0 724.5 534.6 786.5 575.5 738.9 570.5 749.3 594.0 735.5 573.4 758.2 607.3 715.5 554.8 761.9 569.2 742.3 568.6 756.9 567.5 754.9 614.5 707.5 561.6 760.2 639.2 680.9 541.9 770.9 530.5 801.4 566.7 756.8 551.4 759.5 612.0 708.6 587.4 730.3 554.8 777.8 578.5 741.2 580.5 745.2 640.8 680.9 591.9 732.6 586.0 740.7 558.7 757.7 556.2 775.9 559.2 772.2 546.6 781.9 588.7 725.8 607.6 725.6 571.4 764.2 551.4 772.6 567.4 739.2 581.0 744.3 589.6 735.4 577.4 743.2 607.2 715.5 562.4 753.3 593.8 728.3 594.1 718.0 551.7 765.3 569.2 757.5 581.5 748.7 558.4 764.8 592.4 736.9 567.6 743.9 597.0 728.3 570.2 761.0 591.8 731.9 588.0 744.8 556.6 768.0 580.1 729.3 583.9 743.1 628.5 698.7 602.1 722.9 605.4 711.3 525.1 796.1 569.4 760.1 557.0 763.9 593.4 725.0 593.7 735.8 568.4 746.0 598.7 724.8 589.8 744.7 560.9 755.9 600.6 721.1 563.9 762.6 524.6 800.1 562.2 762.6 579.1 749.5 607.2 718.2 615.3 712.3 607.6 717.5 605.2 724.2 574.5 748.3 596.7 731.3 578.7 740.4 571.1 750.5 595.8 725.2 610.6 707.6 565.6 752.2 614.1 710.1 543.4 778.2 587.2 734.8 547.7 769.3 580.0 745.0 609.4 709.4 633.1 689.7 601.3 720.1 608.4 719.0 591.4 733.6 581.6 747.5 579.2 741.3 554.5 759.6 567.0 761.6 597.6 726.1 578.5 751.0 590.5 730.3 561.1 762.6 635.2 687.9 613.5 707.0 626.4 697.9 593.1 732.7 607.7 714.9 580.3 738.4 572.3 757.6 602.4 722.1 605.0 718.3 589.4 739.9 570.4 756.0 539.9 778.7 583.4 738.3 607.6 713.4 577.9 742.6 625.4 698.6 583.8 743.1 556.8 769.9 598.6 727.7 582.7 741.8 592.6 726.2 562.6 753.3 598.6 732.4 588.2 733.9 598.9 721.8 562.2 754.4 578.8 749.0 611.3 716.3 615.6 714.7 563.6 768.1 573.6 744.9 575.6 748.4 547.9 772.1 531.2 779.5 605.7 721.9 598.9 726.6 585.6 751.7 580.1 725.9 576.4 749.0 591.4 736.6 573.3 744.6 575.8 748.7 597.2 726.4 567.5 763.2 599.6 723.7 598.9 731.9 587.7 740.7 570.6 755.6 532.1 792.5 566.3 764.4 604.8 721.8 556.3 762.5 555.4 775.4 587.0 736.7 577.3 742.2 533.4 785.4 630.9 692.9 556.6 765.2 533.1 784.5 564.0 755.3 552.8 770.2 551.1 782.5 559.1 764.6 608.7 716.5 602.2 718.2 570.3 741.8 551.8 772.8 569.8 760.4 562.9 745.8 584.7 739.6 571.2 747.3 581.2 736.9 589.2 744.3 627.9 695.2 588.6 740.8 579.3 740.4 582.1 743.2 605.0 725.6 586.9 739.8 588.4 740.3 593.0 727.0 604.1 714.9 591.1 729.8 548.8 768.1 545.2 775.0 584.8 736.9 537.5 776.2 577.4 750.5 632.2 691.5 590.4 734.6 624.0 699.0 620.5 701.1 567.4 750.9 581.4 746.4 590.5 729.4 603.9 711.8 597.2 716.3 592.2 726.1 556.1 756.1 603.7 716.1 601.9 721.2 613.1 711.9 549.6 769.8 627.8 696.1 584.3 743.9 609.1 718.4 626.4 700.7 610.5 712.2 619.1 704.6 598.4 720.3 586.2 745.4 605.9 711.3 564.2 748.5 558.6 761.2 575.8 733.7 649.1 670.8 571.9 749.8 571.9 748.3 596.8 729.4 597.5 727.5 547.9 779.8 569.2 752.1 570.8 750.4 594.6 722.6 578.6 749.6 569.9 751.5 632.4 687.4 593.9 732.7 564.9 760.8 557.6 769.0 607.9 718.2 595.4 720.3 590.6 731.9 590.8 743.7 526.0 794.4 606.5 717.4 622.0 697.7 583.3 742.1 575.2 751.8 587.7 724.8 585.4 751.0 548.3 786.4 575.5 746.5 585.0 734.5 609.9 712.6 557.3 765.0 574.6 746.2 588.1 728.7 625.7 697.1 596.0 716.1 597.3 720.3 555.6 767.0 615.0 703.4 546.1 772.0 559.0 762.7 600.9 720.8 566.3 752.7 613.9 711.7 525.8 801.4 590.5 739.9 525.2 802.4 587.0 742.9 577.0 750.0 557.8 763.0 532.9 786.3 574.7 749.2 592.1 735.9 568.5 749.1 556.5 757.7 583.6 744.5 587.6 734.0 537.1 783.1 568.4 751.1 559.0 765.0 525.8 799.3 594.4 730.1 596.1 744.0 550.4 768.7 596.6 718.1 586.1 741.4 578.5 750.9 573.5 755.6 607.7 719.1 545.3 778.0 625.8 698.1 579.1 749.7 593.1 727.4 564.1 756.6 569.6 740.8 628.3 693.0 597.6 716.4 578.3 742.2 577.6 748.1 603.0 723.0 610.9 710.1 579.9 739.6 575.3 734.1 603.2 721.9 564.8 757.6 550.9 775.1 601.6 717.4 572.1 751.6 605.5 722.6 606.2 708.8 566.4 748.7 589.2 733.6 576.8 739.2 598.6 723.3 597.6 723.5 594.8 735.4 612.3 706.4 591.7 726.9 592.8 728.2 566.6 759.8 594.7 720.5 581.1 733.6 562.5 762.3 606.2 711.4 588.0 735.6 586.4 740.5 576.4 746.1 597.9 721.3 546.3 771.1 588.5 743.9 578.7 751.3 575.6 743.7 585.5 752.6 579.1 753.2 583.3 744.2 609.1 708.7 586.3 737.6 582.1 736.0 590.7 731.1 598.4 713.9 576.4 750.1 593.1 738.1 537.3 788.3 605.3 721.0 625.7 704.6 580.2 751.4 596.4 732.0 629.5 693.4 618.9 706.6 571.3 749.6 568.2 745.3 569.8 752.7 600.5 721.6 611.4 720.1 590.4 723.4 618.6 704.0 550.3 766.5 589.2 723.8 599.0 725.5 533.8 782.7 579.6 754.4 538.0 777.5 571.0 743.7 585.7 725.7 609.0 718.5 598.0 728.4 652.4 668.5 573.7 746.4 599.6 721.9 579.9 748.4 604.0 721.4 601.5 722.5 588.2 737.6 641.1 678.0 561.4 760.6 559.9 762.4 531.1 797.3 553.6 777.3 583.8 731.7 609.4 712.2 587.6 734.4 612.4 716.2 576.2 740.3 616.5 704.5 572.3 742.9 612.2 710.7 601.8 723.7 580.9 743.1 558.3 765.4 550.2 775.2 611.3 708.0 630.0 695.4 609.3 713.2 547.3 767.0 553.3 768.0 569.0 755.6 575.1 742.1 590.8 738.6 572.1 748.7 585.8 740.6 579.6 747.7 598.5 721.2 611.7 712.8 601.6 718.5 616.0 705.7 583.8 747.7 576.5 749.5 543.7 778.7 591.8 741.8 573.0 755.2 558.7 762.3 572.4 756.2 580.3 740.2 523.6 796.0 568.7 744.9 595.3 723.8 614.1 708.5 621.9 707.3 611.2 717.4 607.4 719.7 587.3 735.4 569.3 749.8 587.6 727.7 563.9 759.2 574.0 731.5 589.4 736.0 577.9 752.1 577.8 737.0 645.6 676.5 571.8 745.2 593.5 726.1 552.9 767.8 621.8 700.9 584.0 732.7 596.6 721.0 584.8 732.7 575.0 750.3 581.5 727.0 606.8 711.9 587.4 731.0 595.4 729.1 579.4 745.5 553.5 765.5 600.0 725.2 562.3 749.2 632.4 692.2 606.5 715.5 597.1 721.4 591.9 740.9 601.0 725.7 573.2 753.2 525.3 791.7 611.0 717.2 582.1 752.4 595.4 724.6 568.7 735.0 578.8 754.9 563.6 757.8 602.7 724.6 608.4 710.8 601.0 723.5 573.4 751.6 591.2 727.7 521.6 790.3 562.7 770.6 579.8 742.2 624.0 697.3 567.8 758.4 568.8 762.8 571.8 738.7 581.3 729.7 586.5 749.3 556.5 762.0 615.9 707.8 624.2 695.0 593.9 720.5 536.5 788.6 653.1 670.4 628.6 693.2 610.9 709.0 626.1 699.8 605.5 716.1 636.7 680.9 622.7 698.9 644.1 677.3 576.1 750.3 655.2 669.4 643.1 675.7 550.0 774.5 570.5 746.8 653.2 669.1 644.1 679.0 560.6 762.1 528.2 791.7 567.3 757.3 548.0 764.0 646.6 671.9 636.7 681.4 594.6 734.1 553.8 776.5 545.5 783.5 648.2 677.8 616.8 706.5 653.3 671.4 625.7 696.9 537.5 786.0 562.8 748.7 574.9 748.4 595.2 728.7 603.2 716.1 651.8 671.7 642.4 681.4 565.3 758.2 642.8 677.0 546.9 774.3 546.6 776.0 609.8 708.4 566.1 757.7 644.2 679.5 579.0 742.1 559.0 771.2 560.0 769.0 642.6 676.2 548.0 777.2 630.6 687.7 664.0 660.0 625.9 693.4 622.4 696.7 642.6 680.0 651.7 672.7 626.0 690.8 586.6 735.0 550.1 780.2 542.2 781.1 637.8 687.8 601.9 724.8 630.3 694.5 651.0 670.7 648.6 675.0 611.5 709.9 655.9 666.4 589.6 740.4 542.5 790.4 603.2 716.2 626.1 694.9 665.6 659.5 554.9 767.3 655.7 664.4 598.9 726.2 561.7 767.3 649.4 675.1 656.3 668.1 619.8 702.2 662.5 661.5 551.8 766.0 621.0 699.2 596.1 728.1 529.3 788.7 535.8 785.9 534.5 790.8 621.2 693.7 599.2 715.7 580.0 755.4 549.7 777.9 571.1 756.3 643.9 680.3 637.6 685.7 588.3 736.5 655.5 668.0 604.9 718.9 631.8 693.7 547.8 776.1 586.4 731.9 628.4 696.9 636.0 687.3 648.6 675.3 630.3 687.2 612.0 717.0 652.7 668.1 611.1 712.3 659.4 665.3 589.3 731.5 580.2 728.1 547.5 781.6 535.6 784.5 541.6 786.3 537.2 783.5 639.1 685.5 634.5 682.3 649.2 674.3 663.2 659.3 646.7 676.0 646.5 678.3 657.2 664.3 553.1 770.5 550.9 767.4 600.8 726.5 624.9 700.4 643.0 677.0 534.8 789.9 568.3 756.2 622.7 705.6 591.1 738.1 571.1 746.9 558.2 767.6 628.7 695.6 660.4 663.0 661.4 656.9 623.6 702.7 594.3 734.6 661.9 662.2 651.5 669.9 538.6 787.1 637.8 689.0 647.5 674.1 648.8 673.7 548.3 772.6 631.0 694.9 533.8 777.1 629.7 691.7 658.6 662.8 556.9 765.5 582.1 731.6 614.7 711.0 634.1 686.8 551.5 769.8 657.9 666.1 542.9 778.7 655.4 665.9 605.8 717.5 551.2 777.4 533.7 785.5 622.2 701.6 563.9 737.8 642.7 684.3 612.7 710.5 584.1 734.6 663.2 664.0 536.1 786.1 620.1 706.2 593.3 728.6 539.7 776.8 595.6 736.6 651.6 669.2 592.0 734.6 607.7 714.6 602.2 724.4 569.7 745.5 543.3 770.8 564.8 767.5 569.2 762.6 646.3 672.6 528.9 791.1 629.4 692.2 559.7 756.2 631.2 688.5 606.8 711.2 595.4 727.5 652.0 671.1 578.9 746.0 563.7 764.5 658.3 661.1 559.3 767.1 550.7 774.6 553.5 768.8 581.9 732.1 555.1 760.5 603.8 712.9 656.4 668.9 602.0 713.9 612.1 712.8 572.8 757.2 627.8 694.5 623.2 697.5 645.2 681.8 605.2 711.8 590.7 727.1 663.8 661.3 633.6 686.9 645.0 683.4 589.1 725.3 544.0 774.5 652.9 669.4 592.1 730.0 526.1 795.6 656.9 665.5 529.9 792.2 643.3 686.2 638.7 685.4 641.6 679.4 568.4 754.1 581.0 749.1 630.6 688.4 640.2 679.4 552.7 766.6 653.2 665.6 613.4 713.3 627.5 694.5 528.6 794.9 536.0 784.2 630.9 693.6 546.3 777.1 616.2 702.2 530.3 785.8 624.7 692.5 535.4 777.1 545.3 783.1 535.9 787.6 529.5 792.5 564.3 759.0 552.1 777.7 531.3 786.5 632.3 689.9 566.3 761.9 546.6 773.3 577.9 735.5 619.0 705.9 556.5 772.0 542.4 776.8 649.6 677.6 539.0 785.8 588.4 729.6 564.2 759.4 618.0 700.0 656.0 665.2 633.2 691.2 585.3 729.6 538.1 779.4 530.0 796.4 655.1 668.5 603.3 714.6 530.9 790.5 556.1 770.4 655.6 667.8 622.3 705.1 659.7 661.4 629.0 700.5 571.2 753.4 625.1 695.4 534.9 791.8 619.3 708.7 622.0 702.9 632.1 693.2 651.8 670.5 613.3 709.4 580.4 743.9 626.3 695.3 538.2 772.0 648.0 672.7 535.0 782.4 659.6 663.1 616.6 706.8 542.9 779.3 564.9 754.0 621.2 700.2 599.3 719.7 642.2 676.9 650.8 674.1 594.9 736.9 620.2 702.4 580.6 750.9 530.8 792.0 611.2 705.2 620.4 696.8 590.4 737.7 645.6 686.9 565.8 767.4 621.2 703.7 544.3 777.7 644.4 678.5 623.1 703.7 637.8 684.0 620.4 693.9 584.4 747.4 545.7 781.2 645.6 673.3 614.8 710.3 657.6 662.4 541.4 771.8 659.8 665.3 659.0 663.4 540.3 786.7 541.0 775.0 555.4 761.2 534.3 779.0 637.2 685.2 617.6 704.4 544.3 775.4 582.4 740.6 639.5 688.7 651.0 669.7 602.5 713.9 625.5 697.8 614.4 713.3 622.0 702.6 663.7 660.9 662.8 661.4 612.9 707.3 627.4 693.7 653.2 670.1 579.1 740.3 537.1 784.5 594.3 732.7 658.3 664.5 640.8 684.8 643.0 682.5 621.5 694.8 556.9 753.5 593.3 729.5 575.5 741.7 540.6 779.5 548.8 777.9 582.0 738.3 592.5 729.0 567.4 761.9 659.7 663.5 646.2 674.3 579.3 743.3 599.7 722.3 546.4 761.5 649.4 671.9 575.7 742.5 536.1 778.2 604.3 710.9 541.9 780.4 601.6 715.9 550.8 773.9 632.7 690.4 528.3 784.9 617.6 705.2 652.7 671.9 649.8 674.9 652.0 673.0 587.2 739.4 591.4 727.5 578.5 739.8 617.2 708.9 617.3 707.2 637.1 683.2 564.2 752.0 591.5 722.9 592.0 722.5 583.2 734.9 564.2 745.4 588.0 731.2 597.5 720.5 583.6 727.0 566.5 748.1 563.3 740.8 563.0 754.2 591.2 722.1 593.0 719.7 578.4 730.4 593.2 722.6 584.4 730.5 560.7 751.7 589.2 724.9 563.1 753.3 571.7 740.3 572.0 741.7 567.6 748.3 575.2 740.4 567.9 754.1 571.9 744.3 576.1 738.6 584.2 724.3 592.8 723.6 564.6 750.4 569.6 747.1 574.3 744.7 556.9 754.7 571.1 744.6 594.5 719.7 569.1 748.9 562.2 752.0 585.3 732.2 568.1 748.1 593.8 722.7 558.4 751.0 567.7 736.9 567.6 748.8 594.7 724.4 568.1 750.0 577.8 738.0 591.9 724.8 571.2 743.7 574.8 742.9 575.1 737.0 578.0 736.2 592.9 722.8 589.7 731.4 582.9 734.2 592.6 716.6 589.0 722.1 576.3 735.8 564.5 748.6 595.1 715.1 586.5 730.2 590.1 725.3 574.8 734.3 564.4 751.3 564.2 749.8 573.1 739.0 594.0 721.3 571.6 739.8 568.1 753.9 567.0 751.1 563.9 754.8 588.5 725.7 596.6 722.6 582.6 737.0 564.4 745.5 583.9 720.2 584.5 732.1 584.0 729.8 594.0 723.6 597.8 722.6 578.1 735.0 583.8 726.1 567.1 747.6 588.6 721.4 595.7 719.7 590.5 724.8 567.5 752.5 565.8 745.5 662.1 655.9 560.4 779.3 585.1 727.1 613.1 717.0 602.6 719.0 598.3 751.4 601.3 715.4 604.5 734.4 543.4 787.8 650.6 681.4 635.5 683.5 587.5 733.1 613.1 720.8 622.0 691.7 542.5 775.9 641.7 699.2 607.7 720.5 633.2 677.9 600.1 721.6 631.0 691.3 661.7 652.8 549.5 758.4 647.9 691.3 592.6 736.8 568.9 758.2 556.9 770.3 536.2 784.3 568.5 744.0 660.8 662.2 575.9 751.7 631.7 680.2 622.5 714.9 591.8 739.8 624.6 686.7 623.1 711.2 579.9 693.2 558.8 726.2 608.4 745.7 647.5 705.2 539.3 796.7 542.3 795.2 537.8 793.7 540.8 792.2" class="bd"/>
<path d="M587.7 737.6 613.7 707.9 554.8 768.1 598.7 726.1 554.4 769.8 528.3 794.9 548.4 770.6 605.5 716.2 584.1 736.1 589.3 738.1 567.2 760.6 571.2 749.1 557.5 761.9 583.9 741.2 592.4 730.1 588.4 735.2 586.4 736.5 580.3 739.7 588.1 732.0 603.3 719.2 569.2 754.2 597.8 723.3 611.5 710.2 556.9 766.2 570.8 753.0 578.2 744.3 561.7 759.2 573.9 745.3 572.1 749.8 621.7 699.2 592.7 725.8 623.2 697.5 583.8 738.9 586.4 736.8 585.0 736.1 580.3 743.3 648.1 672.3 614.7 704.9 591.3 732.6 541.3 782.8 575.7 747.4 609.6 713.4 594.3 730.1 580.4 744.4 604.0 716.3 593.6 730.0 570.1 752.5 591.7 731.4 603.9 719.8 603.1 717.8 585.2 740.8 573.9 747.6 587.0 738.0 600.5 719.6 593.1 729.4 614.6 708.3 580.6 741.7 585.7 736.6 583.3 741.7 596.8 725.0 560.9 762.3 615.8 705.5 578.6 744.2 620.4 704.2 618.0 702.6 556.2 767.2 591.5 729.2 600.2 721.3 586.3 735.8 600.0 721.6 568.5 752.2 609.0 711.9 594.4 728.5 582.8 741.1 529.4 793.8 605.1 718.2 555.0 765.9 620.6 702.8 612.7 710.1 557.1 767.7 554.0 772.3 596.9 725.4 616.9 710.7 591.6 730.4 593.1 731.7 592.0 731.4 627.2 696.2 599.9 725.4 559.2 761.1 619.4 703.3 610.0 712.2 589.2 737.3 582.2 740.5 621.1 702.5 614.6 710.1 579.4 745.8 583.5 739.0 549.4 775.0 579.3 741.8 649.4 673.0 551.8 770.1 557.9 762.9 610.6 711.3 570.7 752.0 609.4 717.6 625.1 695.4 579.2 741.1 573.8 747.0 614.7 712.4 600.7 720.9 621.7 698.6 584.9 738.3 599.1 724.8 572.9 752.9 563.5 761.9 563.3 754.9 564.2 756.9 623.3 696.6 610.0 714.5 590.2 734.4 586.4 735.2 582.8 737.5 613.9 704.4 587.6 735.1 548.6 775.6 582.1 735.6 545.9 777.4 578.7 745.6 568.8 753.4 545.1 774.2 547.0 773.8 585.9 733.3 596.3 724.1 596.5 723.0 565.5 752.9 565.3 757.2 589.6 734.4 609.0 713.9 609.6 711.3 589.2 733.3 565.2 755.5 601.1 720.4 594.3 731.8 574.7 749.7 566.7 762.4 574.5 751.1 613.7 709.8 617.6 703.9 580.5 742.0 589.1 730.3 622.8 698.7 553.9 767.4 576.7 744.0 580.0 739.3 592.7 726.5 548.0 777.2 598.9 724.1 554.3 767.3 608.4 715.5 584.2 740.7 576.0 745.2 605.2 717.1 587.3 735.5 566.7 757.8 608.7 715.6 580.4 744.0 592.5 728.4 616.0 703.7 552.3 768.4 600.9 721.8 606.4 716.4 637.4 686.1 546.1 778.3 607.1 716.9 637.0 685.8 596.3 727.2 585.7 734.6 551.1 773.6 617.9 703.9 559.9 763.9 605.7 712.9 611.7 711.7 605.1 712.4 566.6 759.2 580.1 745.9 566.0 757.4 594.6 727.9 561.7 759.6 583.9 740.5 620.0 703.1 581.7 739.6 581.5 741.4 603.2 719.9 558.9 765.1 594.5 726.3 610.9 713.9 606.1 717.5 577.6 744.7 609.2 715.4 563.8 760.0 560.8 760.9 622.5 701.8 581.9 741.1 580.8 740.6 556.6 765.7 573.3 749.1 621.8 703.9 596.5 722.7 587.9 734.1 542.7 778.4 603.3 716.2 595.7 727.2 614.7 710.8 576.6 745.8 600.5 722.0 573.7 749.5 553.3 772.0 541.7 778.4 603.6 716.2 548.8 773.2 625.0 695.0 573.0 750.4 546.4 776.9 557.8 767.9 572.6 750.0 608.7 718.8 596.7 728.2 597.6 726.4 569.7 751.9 604.0 717.7 584.3 739.3 608.4 713.7 568.3 757.4 569.5 753.1 565.6 757.9 569.9 751.1 598.1 726.0 575.5 748.3 551.1 772.5 573.9 751.8 569.0 751.8 546.8 774.2 589.8 735.4 589.3 735.0 550.2 773.1 593.4 728.3 561.0 760.0 613.7 709.3 588.2 730.1 579.2 748.4 570.8 749.9 610.7 708.7 592.2 732.4 559.7 761.5 582.9 738.7 574.9 748.8 595.6 726.5 594.1 729.8 569.6 756.1 571.9 747.2 599.9 720.8 626.2 694.6 584.7 739.7 592.4 730.8 567.7 751.6 631.0 690.1 590.5 731.0 618.6 706.5 603.7 721.3 568.2 752.9 580.6 743.7 594.9 727.9 574.0 748.9 580.8 741.0 612.9 711.4 559.5 765.9 583.5 736.6 612.9 710.8 611.5 712.5 562.5 757.6 582.9 737.0 594.8 731.2 593.8 726.6 581.0 738.2 575.0 749.7 578.6 741.0 589.3 731.5 622.2 697.7 603.6 716.1 603.3 725.8 605.0 718.2 575.7 746.1 611.6 713.6 604.4 722.6 576.5 748.6 577.7 744.9 605.1 716.6 562.7 759.3 591.4 730.9 618.5 706.9 573.2 749.5 543.9 781.1 570.5 755.6 598.3 720.8 584.3 737.9 551.7 771.7 576.8 747.3 576.2 743.0 574.7 746.9 575.4 743.6 614.3 709.0 553.9 768.4 573.8 747.7 611.4 712.0 590.2 731.2 556.1 770.2 594.3 725.4 530.0 789.7 573.7 749.8 555.4 763.9 602.8 721.8 584.7 737.3 644.8 680.3 603.7 718.7 550.2 774.5 552.2 769.0 574.7 751.0 587.9 735.5 601.1 726.7 562.9 760.4 577.5 746.4 598.6 722.5 554.0 771.3 582.4 735.9 607.3 715.1 576.8 745.3 587.9 736.1 595.1 727.2 596.3 726.7 580.9 736.7 578.7 742.0 580.2 741.3 616.9 703.7 531.9 796.2 598.6 723.8 626.5 696.3 591.8 735.2 601.3 718.6 606.3 713.7 588.0 734.4 578.6 746.7 578.6 743.4 572.6 747.8 591.1 734.5 567.8 754.4 606.3 715.2 590.6 732.9 602.7 721.0 573.2 749.9 598.1 726.9 642.3 682.3 601.7 723.5 607.2 716.2 618.5 707.3 619.1 704.1 576.6 744.8 621.5 699.9 608.5 715.0 577.0 743.5 602.0 718.7 599.4 721.2 579.6 739.9 574.4 747.1 547.0 774.5 555.8 772.2 626.8 695.0 591.6 732.8 593.7 727.4 623.8 698.8 584.3 737.3 595.8 732.0 573.4 749.0 577.7 747.3 615.7 709.8 587.9 732.8 586.2 739.6 592.8 729.3 591.5 729.7 613.8 705.4 607.6 712.5 609.9 712.7 577.6 747.1 546.2 772.8 530.4 795.5 612.3 711.7 577.6 743.6 526.7 793.0 618.7 705.7 568.7 754.1 597.0 729.1 570.0 750.0 570.2 755.8 603.9 718.4 584.7 735.7 596.6 732.3 599.1 727.8 597.6 727.3 566.3 755.6 543.3 776.1 578.4 742.7 569.8 753.9 539.5 779.5 616.8 705.0 573.8 752.1 608.7 713.1 569.7 754.8 593.6 731.5 583.9 739.5 650.2 672.3 618.1 701.5 571.1 752.5 584.1 738.1 557.9 761.8 624.9 695.5 607.5 715.8 583.7 743.7 560.7 759.3 562.5 756.1 576.8 746.3 579.9 741.6 581.3 737.7 561.3 763.6 591.4 726.3 585.3 736.1 556.9 764.9 609.5 710.3 569.0 752.9 566.7 753.4 585.0 732.5 597.9 724.9 586.6 735.4 549.4 772.6 581.5 742.8 586.1 739.0 596.7 727.3 599.8 722.8 565.5 754.9 577.9 742.7 626.4 695.7 599.7 725.8 612.9 708.7 587.5 732.0 595.8 730.2 564.4 761.0 564.1 758.7 553.1 769.8 609.0 719.3 553.9 767.8 618.6 705.2 554.1 765.6 585.4 738.6 591.1 728.7 559.6 764.6 539.9 778.6 623.5 698.6 617.3 704.8 579.5 742.1 611.7 708.6 565.1 757.9 638.8 685.3 605.3 715.7 567.8 755.2 615.5 704.7 605.1 716.8 616.1 704.9 561.0 764.5 592.0 732.3 571.4 749.3 583.5 737.2 593.1 722.2 566.7 760.1 610.8 711.8 577.1 742.6 595.9 724.6 604.1 719.6 607.2 718.1 577.5 746.9 583.5 736.4 572.5 751.4 535.3 788.5 568.9 754.6 614.2 702.6 566.5 759.6 645.9 675.3 595.4 725.1 603.3 717.2 586.0 738.6 602.2 721.2 639.7 681.0 571.3 753.4 599.3 724.7 591.7 731.8 634.4 686.5 621.9 699.8 628.5 692.9 593.7 729.0 586.8 735.0 597.4 725.5 604.1 717.3 595.1 726.3 599.8 722.3 649.9 671.1 584.8 734.8 564.8 754.4 616.3 705.7 590.0 735.2 593.2 726.6 573.2 743.9 566.3 755.8 594.4 729.1 562.4 762.5 600.3 728.6 561.3 759.0 556.0 762.6 594.6 726.6 572.2 754.7 561.6 763.1 574.0 748.3 591.7 733.4 601.5 717.3 602.6 719.7 567.7 753.5 584.4 736.7 528.8 794.4 589.0 733.9 579.2 742.2 545.3 777.3 591.2 729.5 592.7 734.6 584.7 733.7 583.8 738.6 578.0 748.5 581.9 741.5 537.3 782.0 578.0 746.5 561.9 760.1 585.0 740.2 607.7 712.8 580.3 742.8 618.0 704.5 593.0 731.3 568.0 754.5 596.2 724.7 615.8 706.8 590.8 728.8 567.4 758.6 629.0 693.6 556.5 770.1 611.4 709.1 574.9 745.8 552.9 770.3 544.8 778.3 593.5 729.8 565.1 758.2 585.3 737.9 594.4 727.2 629.5 691.3 550.6 773.8 591.3 734.0 577.1 745.3 601.6 721.3 584.2 738.4 576.5 751.1 580.5 738.9 552.6 767.6 529.8 795.5 598.0 721.7 598.2 723.8 588.3 731.0 579.6 740.1 605.0 719.9 576.1 740.5 598.2 724.5 584.7 739.9 577.1 749.9 557.7 765.3 582.8 742.4 558.1 764.1 546.4 780.3 614.1 707.5 602.7 719.6 590.5 728.3 560.2 763.3 585.4 735.7 600.9 720.4 543.5 783.9 602.3 724.5 596.4 725.1 625.9 696.9 631.0 695.7 589.6 732.8 593.8 724.7 607.1 712.1 639.0 684.2 609.0 709.7 628.0 692.8 588.9 739.6 600.6 723.9 558.2 762.8 593.0 730.5 622.2 700.1 590.7 733.8 588.6 732.4 556.6 766.9 568.2 755.8 558.9 765.0 563.8 756.5 550.4 770.9 613.2 709.3 618.3 704.4 597.7 722.6 589.5 732.1 551.0 773.6 588.9 728.6 583.8 743.3 557.6 766.5 600.7 719.9 537.8 782.1 552.8 773.1 602.9 719.0 608.9 718.2 628.9 694.7 548.3 772.2 560.0 759.7 574.5 745.6 576.9 744.2 602.3 717.9 601.2 717.7 588.6 737.1 545.6 775.3 599.4 724.2 545.5 777.8 567.5 752.6 623.1 696.1 574.4 750.9 590.3 731.7 583.0 737.4 617.9 705.5 584.0 735.2 605.8 714.8 579.0 746.9 585.3 739.3 566.4 756.7 601.3 719.9 546.5 772.0 639.3 689.1 604.6 717.7 593.2 732.4 579.5 741.6 589.2 734.1 588.4 733.0 566.5 752.5 568.1 756.7 612.9 712.3 577.1 744.6 581.6 739.3 599.2 723.4 572.4 750.8 603.6 718.3 564.7 756.0 575.4 745.3 581.5 742.0 606.8 718.2 568.3 753.6 601.5 718.4 638.9 680.9 603.8 719.9 567.0 758.3 636.8 684.9 571.4 750.8 583.4 734.7 581.7 740.0 614.0 706.7 592.6 727.1 601.0 723.3 614.4 708.4 606.0 715.8 560.5 761.8 616.3 709.8 563.1 760.4 578.9 744.1 552.5 770.8 609.7 711.7 616.9 706.0 602.6 718.6 615.0 706.7 580.7 742.9 591.9 733.5 575.8 748.0 566.5 757.2 596.6 725.9 598.6 720.2 593.6 727.7 597.7 724.1 589.6 729.6 610.7 712.6 553.9 766.7 572.1 748.4 541.0 778.8 588.3 733.8 611.2 710.0 545.1 778.9 564.0 761.0 582.2 739.1 576.7 747.9 576.2 746.8 588.7 735.5 578.7 735.6 606.8 716.9 551.8 770.6 586.1 737.8 575.9 746.0 622.7 702.7 537.3 788.8 563.3 758.0 620.2 698.1 546.6 777.4 581.5 741.1 562.5 758.2 589.1 731.8 562.5 761.1 555.4 767.7 567.8 749.8 559.1 762.1 544.8 780.1 565.6 755.6 615.5 707.8 606.4 720.5 569.6 748.9 608.5 712.0 595.7 728.8 598.6 727.1 638.7 682.4 619.5 705.5 560.5 764.7 570.8 750.6 553.9 769.0 639.0 687.4 558.9 765.5 620.8 705.2 562.3 758.2 559.6 762.1 595.1 728.5 573.5 750.5 615.1 707.9 631.6 692.5 609.6 706.9 549.3 771.8 578.9 750.7 559.5 765.8 592.5 728.0 568.9 755.8 557.5 764.5 559.2 762.4 555.9 766.7 601.4 721.1 570.3 753.4 630.4 686.7 601.7 719.5 622.0 701.1 633.1 684.7 608.6 716.3 602.4 717.9 585.0 736.6 573.0 748.2 620.8 700.1 559.0 761.7 597.5 724.5 588.0 738.6 620.0 704.8 587.6 733.7 611.1 709.7 558.9 764.1 564.7 760.2 541.7 776.5 620.9 697.6 601.5 723.3 570.9 747.2 623.3 697.9 561.1 762.9 586.7 736.0 581.1 742.2 618.4 703.1 594.2 728.5 596.1 728.8 606.3 716.7 558.4 764.1 561.5 761.1 572.2 752.4 607.9 713.5 625.5 697.7 589.2 730.9 594.1 725.9 554.4 766.6 552.9 769.3 587.3 737.7 590.2 729.8 574.8 748.4 612.1 707.8 547.4 775.1 595.1 724.6 631.0 692.0 588.2 739.2 530.3 791.5 599.9 724.2 579.0 745.4 602.3 721.9 595.0 729.0 610.5 711.6 564.9 758.2 585.8 734.9 596.7 726.9 569.8 753.3 602.6 720.7 605.2 719.5 624.4 696.4 588.0 731.5 584.0 741.7 613.6 711.3 571.8 749.2 557.3 766.4 575.2 750.6 610.5 714.9 560.6 763.6 578.5 749.0 607.1 714.6 554.3 772.1 603.0 715.9 536.4 783.2 567.1 759.0 578.5 745.5 568.5 751.1 622.2 698.9 625.6 700.6 599.5 719.3 623.4 702.0 605.2 719.0 604.8 719.5 594.8 730.4 636.8 689.8 611.8 711.2 610.3 710.6 576.4 747.9 575.3 747.1 590.9 733.1 641.6 682.8 601.6 724.1 636.5 688.5 592.2 727.4 579.6 738.1 564.5 757.9 623.0 699.6 601.3 724.6 558.6 762.7 614.8 706.1 601.1 722.6 573.7 752.9 575.1 746.4 595.9 728.2 612.3 713.0 622.4 702.7 552.4 766.6 600.2 723.7 601.7 720.4 578.6 741.3 543.1 782.0 571.4 750.2 611.7 713.7 574.3 746.3 592.0 729.7 582.3 738.9 607.5 713.1 564.9 761.9 595.4 731.8 572.2 754.1 573.8 748.3 557.9 764.3 562.2 761.0 539.8 781.1 586.1 732.9 644.0 676.8 557.1 763.7 589.7 733.0 561.6 762.4 571.9 755.0 572.7 751.1 594.9 726.3 591.0 732.3 589.0 735.9 610.2 708.7 606.3 714.5 598.6 726.5 602.0 718.0 616.2 706.9 575.9 748.8 582.6 741.4 582.9 742.5 542.7 778.8 600.2 719.0 596.3 730.8 561.8 765.2 614.7 709.3 628.1 691.7 578.2 747.3 558.5 766.6 569.3 751.4 635.5 686.7 627.6 694.0 578.9 746.3 593.9 731.5 589.6 730.0 543.5 775.3 564.2 761.8 565.0 754.5 583.4 737.9 564.6 755.1 541.5 782.5 619.1 703.6 612.3 709.6 571.9 752.6 598.5 722.9 599.2 726.6 564.9 756.0 589.2 732.5 613.9 711.2 626.7 697.4 554.1 771.0 619.5 704.1 569.5 756.4 586.4 734.4 637.9 685.6 582.2 743.0 587.9 733.3 624.7 697.5 571.2 751.1 554.5 768.7 617.9 702.0 626.5 691.7 606.1 716.8 576.7 742.8 549.8 768.3 598.4 725.3 589.7 733.5 579.8 743.4 564.9 756.4 560.2 758.4 611.3 714.1 599.0 721.4 557.9 767.3 590.5 735.4 591.3 730.9 587.6 737.1 611.6 716.3 632.0 693.0 610.3 714.1 567.2 754.5 588.4 734.7 582.4 742.6 591.5 735.5 565.8 756.9 593.6 724.2 562.2 763.9 561.9 762.0 573.2 752.7 628.4 695.5 601.9 716.8 564.6 758.9 608.9 710.6 604.3 720.5 591.5 734.5 589.1 736.3 613.1 711.6 638.7 688.4 563.2 756.5 583.1 740.7 599.4 719.7 571.8 753.4 560.1 760.6 548.5 776.9 530.4 794.8 588.0 731.1 558.6 761.1 545.7 780.4 588.0 736.9 544.1 778.8 568.2 752.4 623.0 699.2 612.8 714.1 601.1 719.2 553.4 768.6 555.6 764.6 617.5 705.9 608.8 714.4 594.4 732.5 603.4 721.6 577.8 743.8 590.8 730.1 534.6 787.4 614.9 705.8 595.3 729.8 607.7 717.0 541.6 782.2 576.2 750.2 575.6 744.3 567.0 757.4 607.5 713.6 592.2 729.2 548.3 774.1 648.6 673.5 598.2 727.1 641.1 685.6 625.2 696.2 555.2 768.5 626.6 697.5 565.2 761.4 566.8 752.5 613.4 712.7 588.1 737.7 594.8 724.4 551.3 769.0 593.3 728.7 572.2 748.8 593.1 729.9 573.4 751.2 627.3 696.2 567.0 751.1 607.2 719.9 569.6 753.7 568.3 750.1 629.5 690.2 600.4 724.1 555.7 769.0 627.1 696.3 561.1 761.3 578.1 746.1 582.2 744.8 595.8 729.5 617.6 708.4 566.2 753.7 571.7 754.1 585.3 740.1 613.1 710.4 592.7 732.9 579.6 743.7 595.1 733.7 563.7 761.1 632.1 688.0 605.0 713.6 608.8 711.2 633.2 687.8 593.2 732.1 562.9 760.6 616.5 706.0 602.4 722.7 588.0 735.3 579.8 743.0 610.8 707.7 587.5 734.6 570.9 751.7 599.1 722.8 556.6 761.0 562.9 756.4 594.1 728.0 622.6 703.9 591.2 731.4 564.6 761.7 606.9 713.6 549.7 772.0 616.7 707.0 581.2 735.7 571.6 751.8 531.4 794.1 587.0 733.2 532.5 786.9 580.2 745.0 564.8 756.5 589.8 731.3 609.5 714.7 560.6 761.0 598.8 725.7 597.3 720.5 540.9 779.7 588.6 738.7 611.6 706.4 544.7 783.2 593.8 726.9 586.7 734.2 607.6 716.3 608.6 713.6 580.6 739.4 528.0 796.3 599.7 725.1 604.1 713.1 562.4 759.5 593.3 730.7 579.2 744.3 606.4 715.4 595.6 725.5 567.1 755.6 581.2 744.5 557.1 763.6 547.9 779.1 574.3 744.6 596.2 727.5 590.1 730.9 564.5 757.0 549.7 773.3 545.4 780.7 575.5 749.0 547.7 777.5 612.0 710.6 616.5 707.6 610.3 713.0 550.9 768.2 594.4 729.5 646.9 676.3 604.3 721.5 612.9 710.9 557.7 765.0 613.2 709.5 574.8 753.5 567.5 756.8 558.1 765.9 557.9 765.4 580.9 739.8 570.4 754.3 594.9 730.3 603.0 718.2 554.2 768.3 594.9 724.8 608.1 714.3 604.8 716.1 555.7 770.2 576.1 744.5 597.0 721.4 579.8 744.9 560.8 757.8 557.4 768.3 602.7 715.6 570.1 754.7 558.4 758.3 582.7 738.3 597.0 723.7 556.5 767.8 605.0 715.1 566.6 754.7 582.2 745.1 621.3 703.5 583.4 740.2 624.7 702.4 630.7 689.5 630.4 691.4 590.3 730.2 562.6 759.6 572.4 746.6 536.0 787.7 598.7 722.0 554.8 770.1 635.3 686.3 590.0 728.7 553.6 771.7 640.7 679.6 579.4 738.4 532.7 788.3 588.5 737.1 575.4 746.2 567.3 751.2 547.3 770.9 593.0 728.4 586.1 737.4 621.3 699.5 577.4 748.6 624.0 700.8 581.5 744.1 621.0 701.9 555.6 765.9 602.8 722.1 600.9 716.4 582.1 737.3 617.8 702.9 584.2 744.4 620.1 706.1 586.7 738.8 621.3 700.6 587.3 739.0 620.3 703.6 609.1 712.7 633.2 691.7 570.5 748.5 607.6 715.0 614.7 710.6 620.2 702.2 591.6 727.0 581.7 736.8 612.7 709.1 616.8 702.7 538.2 783.9 560.3 765.9 623.2 699.7 552.8 766.4 617.0 702.1 563.9 758.0 635.3 686.1 566.1 751.1 598.2 722.4 547.7 775.5 594.6 730.7 612.0 712.4 550.6 772.9 599.1 721.8 609.5 713.9 585.7 733.6 570.8 754.6 632.9 689.3 612.9 712.0 582.1 743.2 529.6 791.4 586.6 731.9 615.3 704.2 601.1 723.5 581.4 745.3 601.8 721.9 576.0 746.4 571.9 750.4 569.5 749.6 596.1 727.9 595.7 724.0 567.4 756.0 585.4 732.4 556.3 769.0 583.6 742.7 569.0 748.9 580.5 744.2 618.8 702.9 589.6 739.4 542.6 780.2 573.2 746.5 631.7 688.6 628.3 700.1 537.0 785.4 558.4 766.4 606.1 720.1 622.9 700.6 643.7 679.3 589.2 729.8 619.9 700.5 560.9 759.5 627.2 697.5 546.3 775.1 535.8 788.1 603.2 711.7 658.8 663.7 548.5 778.2 636.0 687.2 555.7 768.7 642.5 682.6 655.4 670.0 637.6 681.2 646.1 676.2 586.5 732.5 630.6 694.9 562.2 758.9 629.8 690.7 561.7 764.6 632.2 689.9 548.1 769.4 553.3 767.8 626.0 694.3 534.1 786.8 657.1 664.4 550.1 771.7 570.4 748.9 543.7 778.4 551.6 771.6 569.9 751.9 607.8 714.8 554.2 765.7 556.3 763.5 560.0 762.9 533.4 790.8 624.5 699.2 547.3 777.2 651.8 668.7 543.8 781.8 636.1 681.6 576.4 750.1 651.1 671.6 547.1 770.4 547.9 774.5 554.8 766.7 664.8 661.8 628.7 692.7 647.6 677.3 651.1 668.9 656.5 665.0 648.5 668.2 624.2 697.0 539.0 780.8 618.8 699.5 660.2 659.3 621.0 703.7 651.2 667.3 604.4 715.6 543.8 779.9 644.9 676.8 634.6 691.9 608.1 708.9 546.4 773.4 628.4 692.2 646.8 675.4 534.2 787.4 533.9 789.4 628.6 691.9 593.9 725.1 655.1 666.8 628.7 696.5 623.0 700.1 633.5 685.2 610.0 710.9 658.3 663.2 537.0 787.4 645.4 676.9 655.6 664.8 532.4 789.1 590.6 732.4 564.5 763.0 632.5 686.4 631.9 690.4 546.6 775.6 585.9 737.4 573.1 745.9 565.6 754.4 664.5 660.2 634.3 686.9 577.5 745.8 528.3 790.6 630.9 692.0 623.6 704.9 644.1 681.8 666.6 657.1 656.8 669.5 641.5 679.7 640.5 683.0 621.6 700.5 630.7 692.4 654.3 667.2 541.6 781.4 642.1 682.0 659.9 663.0 585.1 739.3 636.3 687.7 631.4 690.4 658.6 665.1 563.0 764.7 597.9 721.2 553.0 770.9 592.0 725.9 647.9 675.8 644.1 681.8 562.4 757.5 629.6 692.5 620.1 703.0 540.8 782.2 550.9 770.1 567.0 754.5 656.5 667.4 635.8 688.4 618.4 704.0 542.1 785.8 577.8 740.9 625.2 697.5 609.3 717.5 662.2 660.6 629.2 693.6 539.5 781.8 548.2 775.3 581.1 747.1 534.2 788.8 574.6 751.6 654.3 668.9 656.8 666.2 645.1 674.0 533.5 792.7 655.8 668.1 559.9 762.9 544.4 778.0 543.4 780.7 533.1 788.9 578.3 745.2 630.6 688.2 568.5 753.9 567.3 753.3 628.3 695.7 563.6 758.7 621.1 705.7 657.1 668.4 658.7 662.5 531.7 790.0 529.7 792.4 651.2 669.6 643.1 680.8 653.8 670.7 606.9 715.9 634.1 689.6 562.2 761.2 655.2 668.0 633.3 687.2 532.3 792.1 539.7 784.2 539.9 782.3 638.1 686.9 627.5 697.1 627.5 695.4 663.6 656.6 530.4 789.0 661.6 660.9 656.4 665.8 631.3 691.4 614.9 707.4 650.1 668.8 622.7 703.0 629.3 695.1 661.2 661.1 642.7 681.3 631.0 692.2 539.0 784.0 538.2 788.1 664.2 658.7 662.4 659.7 639.5 685.3 532.3 790.6 648.6 674.8 614.1 710.8 624.6 700.1 613.8 714.1 648.2 673.8 648.3 674.6 648.5 669.7 561.8 760.2 546.2 775.1 549.8 774.4 594.3 731.0 532.3 785.4 634.3 685.5 603.3 717.0 634.9 687.7 627.3 694.0 644.3 676.9 632.0 693.9 556.6 768.5 607.0 714.1 662.1 656.9 659.4 667.3 664.2 662.9 541.7 778.7 586.0 733.9 656.5 662.2 559.7 759.1 633.3 690.7 602.8 720.7 566.2 758.5 534.7 789.1 649.5 676.6 645.3 677.3 657.4 667.1 581.5 740.5 617.0 701.4 658.9 661.9 531.5 791.5 530.7 793.5 637.6 685.3 626.1 695.7 566.6 753.1 554.0 770.3 531.7 792.2 533.4 786.8 606.1 718.9 565.7 758.7 640.4 679.4 659.0 666.2 661.5 661.3 633.2 686.4 658.3 664.1 640.6 681.6 660.8 659.0 657.5 665.4 662.1 662.4 637.8 683.5 532.5 788.1 538.6 785.4 635.8 690.9 550.4 769.5 639.5 681.8 571.6 751.3 535.7 790.0 550.6 774.9 532.6 791.0 650.9 668.7 657.8 668.1 652.9 671.7 652.8 655.9 645.5 671.2 575.2 757.1 613.6 718.4 631.9 682.4 613.6 710.4 603.4 708.1 567.3 763.9 636.8 679.9 582.5 740.4 559.7 753.7 623.2 704.4 609.9 709.5 644.7 686.0 620.3 694.0 622.3 695.7 582.6 734.1 553.0 750.7 570.5 759.7 571.5 757.4 635.6 676.7 555.9 761.4 570.3 757.9 582.5 735.2 626.1 695.8 561.1 743.5 540.8 726.2 551.3 726.2 573.9 726.2 579.9 697.0 618.9 643.7 655.0 652.7 643.0 670.7 620.4 672.2 641.5 651.2" class="od"/>
</g>
<path d="M518.10 640.90V802.10H678.30" stroke="#444" stroke-width="0.8" fill="none"/>
<path d="M536.28 802.10V804.40" stroke="#444" stroke-width="0.7"/>
<text x="536.28" y="813.70" font-size="7.4" text-anchor="middle" font-weight="normal" fill="#333" >4</text>
<path d="M566.34 802.10V804.40" stroke="#444" stroke-width="0.7"/>
<text x="566.34" y="813.70" font-size="7.4" text-anchor="middle" font-weight="normal" fill="#333" >2</text>
<path d="M596.40 802.10V804.40" stroke="#444" stroke-width="0.7"/>
<text x="596.40" y="813.70" font-size="7.4" text-anchor="middle" font-weight="normal" fill="#333" >0</text>
<path d="M626.46 802.10V804.40" stroke="#444" stroke-width="0.7"/>
<text x="626.46" y="813.70" font-size="7.4" text-anchor="middle" font-weight="normal" fill="#333" >2</text>
<path d="M656.52 802.10V804.40" stroke="#444" stroke-width="0.7"/>
<text x="656.52" y="813.70" font-size="7.4" text-anchor="middle" font-weight="normal" fill="#333" >4</text>
<path d="M515.80 786.20H518.10" stroke="#444" stroke-width="0.7"/>
<text x="512.90" y="788.80" font-size="7.4" text-anchor="end" font-weight="normal" fill="#333" >4</text>
<path d="M515.80 756.20H518.10" stroke="#444" stroke-width="0.7"/>
<text x="512.90" y="758.80" font-size="7.4" text-anchor="end" font-weight="normal" fill="#333" >2</text>
<path d="M515.80 726.20H518.10" stroke="#444" stroke-width="0.7"/>
<text x="512.90" y="728.80" font-size="7.4" text-anchor="end" font-weight="normal" fill="#333" >0</text>
<path d="M515.80 696.20H518.10" stroke="#444" stroke-width="0.7"/>
<text x="512.90" y="698.80" font-size="7.4" text-anchor="end" font-weight="normal" fill="#333" >2</text>
<path d="M515.80 666.20H518.10" stroke="#444" stroke-width="0.7"/>
<text x="512.90" y="668.80" font-size="7.4" text-anchor="end" font-weight="normal" fill="#333" >4</text>
<text x="601.60" y="638.30" font-size="9.25" text-anchor="middle" font-weight="normal" fill="#222" >Formation energy parity plot</text>
<text x="601.50" y="826.60" font-size="9.1" text-anchor="middle" font-weight="normal" fill="#222" >Ground-truth formation energy (eV)</text>
<text transform="translate(499.60,721.70) rotate(-90)" font-size="9.1" text-anchor="middle" fill="#222">Predicted formation energy (eV)</text>
<text x="493.30" y="634.30" font-size="13" text-anchor="start" font-weight="bold" fill="#000" >l</text>
<circle cx="530.30" cy="648.8" r="1.35" fill="#1f77b4" fill-opacity="0.6"/>
<path d="M530.30 656.6l1.3 2.2h-2.6z" fill="#ff7f0e" fill-opacity="0.8"/>
<path d="M523.80 666.4h13" stroke="#111" stroke-width="1.0" stroke-dasharray="2.8 1.0"/>
<text x="541.40" y="651.40" font-size="7.55" text-anchor="start" font-weight="normal" fill="#222" >MatterChat (CHGNet)</text>
<text x="541.40" y="660.20" font-size="7.55" text-anchor="start" font-weight="normal" fill="#222" >MatterChat (MACE)</text>
<text x="541.40" y="668.90" font-size="7.55" text-anchor="start" font-weight="normal" fill="#222" >Ideal parity</text>
<text x="358.50" y="6.60" font-size="9" text-anchor="middle" font-weight="normal" fill="#222" >Performance comparison across tasks and models</text>
<rect x="494.30" y="6.9" width="7.3" height="7.1" fill="#87CEEB"/>
<text x="506.50" y="12.90" font-size="7.6" text-anchor="start" font-weight="normal" fill="#333" >LLM models</text>
<rect x="554.70" y="6.9" width="7.3" height="7.1" fill="#90EE90"/>
<text x="566.90" y="12.90" font-size="7.6" text-anchor="start" font-weight="normal" fill="#333" >Physical models</text>
<rect x="629.50" y="6.9" width="7.3" height="7.1" fill="#FFA500"/>
<text x="641.70" y="12.90" font-size="7.6" text-anchor="start" font-weight="normal" fill="#333" >MatterChat</text>
</svg></body></html>
